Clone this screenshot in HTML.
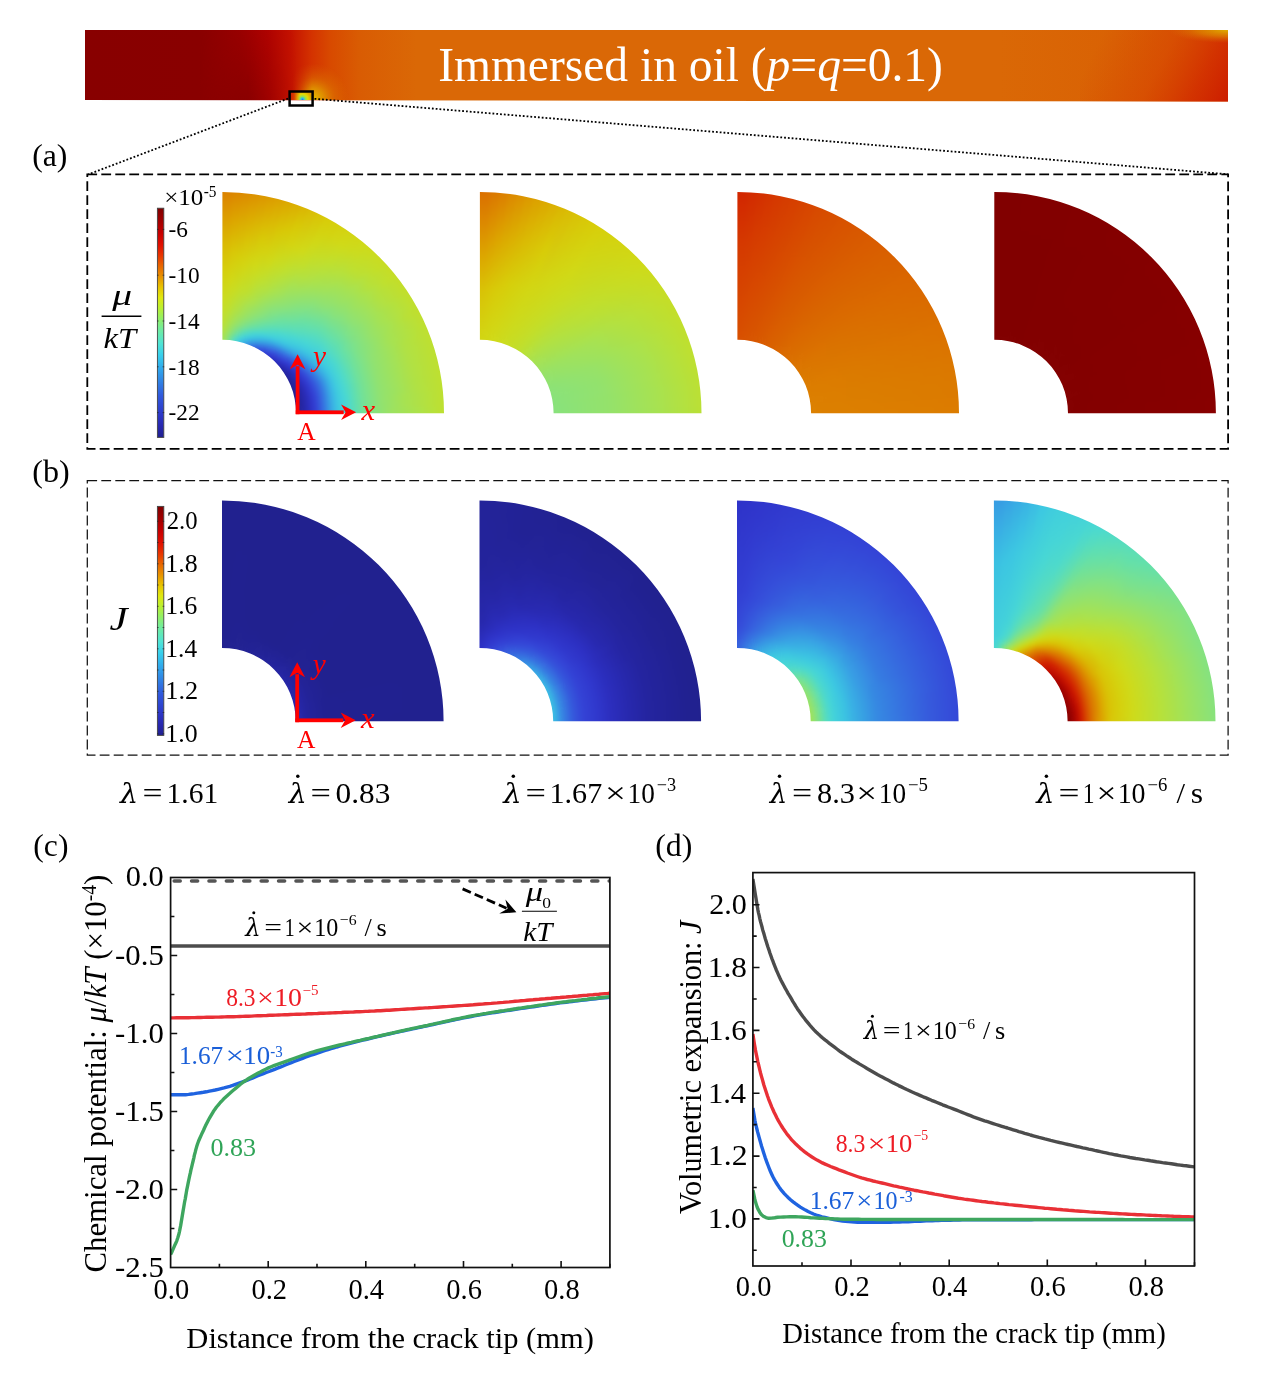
<!DOCTYPE html>
<html lang="en"><head><meta charset="utf-8"><title>Immersed in oil</title>
<style>
html,body{margin:0;padding:0;background:#fff;}
body{width:1269px;height:1381px;overflow:hidden;}
svg{display:block;}
text{font-family:"Liberation Serif","DejaVu Serif",serif;}
.it{font-style:italic;}
</style></head><body>
<svg width="1269" height="1381" viewBox="0 0 1269 1381">
<defs>
<linearGradient id="bg" x1="85" y1="0" x2="1228" y2="0" gradientUnits="userSpaceOnUse">
<stop offset="0" stop-color="#880000"/>
<stop offset="0.10" stop-color="#890000"/>
<stop offset="0.135" stop-color="#980000"/>
<stop offset="0.16" stop-color="#af0300"/>
<stop offset="0.18" stop-color="#c41200"/>
<stop offset="0.198" stop-color="#d43200"/>
<stop offset="0.215" stop-color="#d84a00"/>
<stop offset="0.24" stop-color="#d95c03"/>
<stop offset="0.29" stop-color="#da6806"/>
<stop offset="0.80" stop-color="#da6806"/>
<stop offset="0.90" stop-color="#d96204"/>
<stop offset="1" stop-color="#d85a02"/>
</linearGradient>
<radialGradient id="bglow" cx="313" cy="99" r="36" gradientUnits="userSpaceOnUse">
<stop offset="0" stop-color="#e6c000" stop-opacity="1"/>
<stop offset="0.3" stop-color="#e0a000" stop-opacity="0.8"/>
<stop offset="0.6" stop-color="#dd8400" stop-opacity="0.4"/>
<stop offset="1" stop-color="#dc7000" stop-opacity="0"/>
</radialGradient>
<linearGradient id="bglm" x1="292" y1="0" x2="312" y2="0" gradientUnits="userSpaceOnUse">
<stop offset="0" stop-color="#fff" stop-opacity="0"/><stop offset="1" stop-color="#fff" stop-opacity="1"/>
</linearGradient>
<mask id="bglmask"><rect x="260" y="50" width="110" height="55" fill="url(#bglm)"/></mask>
<radialGradient id="bcorner" cx="1228" cy="30" r="1" gradientUnits="userSpaceOnUse" gradientTransform="translate(1228 30) scale(60 13) translate(-1228 -30)">
<stop offset="0" stop-color="#dfae00" stop-opacity="1"/>
<stop offset="0.5" stop-color="#dd8800" stop-opacity="0.7"/>
<stop offset="1" stop-color="#da6806" stop-opacity="0"/>
</radialGradient>
<linearGradient id="bdark" x1="0" y1="30" x2="0" y2="100" gradientUnits="userSpaceOnUse">
<stop offset="0" stop-color="#7a0000" stop-opacity="0"/>
<stop offset="1" stop-color="#7a0000" stop-opacity="0.55"/>
</linearGradient>
<linearGradient id="bdarkx" x1="200" y1="0" x2="296" y2="0" gradientUnits="userSpaceOnUse">
<stop offset="0" stop-color="#fff" stop-opacity="0"/>
<stop offset="0.5" stop-color="#fff" stop-opacity="1"/>
<stop offset="1" stop-color="#fff" stop-opacity="0"/>
</linearGradient>
<mask id="bdm"><rect x="200" y="30" width="96" height="70" fill="url(#bdarkx)"/></mask>
<clipPath id="bclip"><path d="M85 30H1228V101.6L85 100Z"/></clipPath>
<linearGradient id="bred" x1="1105" y1="30" x2="1232" y2="96" gradientUnits="userSpaceOnUse">
<stop offset="0" stop-color="#d63c00" stop-opacity="0"/>
<stop offset="0.45" stop-color="#d63c00" stop-opacity="0.45"/>
<stop offset="0.75" stop-color="#d22c00" stop-opacity="0.85"/>
<stop offset="1" stop-color="#cc1c00" stop-opacity="1"/>
</linearGradient>
<radialGradient id="boxin" cx="302.5" cy="99.5" r="9" gradientUnits="userSpaceOnUse">
<stop offset="0" stop-color="#3a6cf0"/>
<stop offset="0.16" stop-color="#35c8d8"/>
<stop offset="0.35" stop-color="#9be04a"/>
<stop offset="0.6" stop-color="#e6d800"/>
<stop offset="1" stop-color="#e0a000"/>
</radialGradient>
<linearGradient id="boxl" x1="289" y1="0" x2="300" y2="0" gradientUnits="userSpaceOnUse">
<stop offset="0" stop-color="#cc1800"/><stop offset="0.45" stop-color="#d83c00"/><stop offset="1" stop-color="#e07800" stop-opacity="0"/>
</linearGradient>
</defs>
<g clip-path="url(#bclip)">
<rect x="85" y="30" width="1143" height="72" fill="url(#bg)"/>
<rect x="1080" y="30" width="148" height="72" fill="url(#bred)"/>
<rect x="200" y="30" width="96" height="70" fill="url(#bdark)" mask="url(#bdm)"/>
<rect x="260" y="55" width="100" height="45" fill="url(#bglow)" mask="url(#bglmask)"/>
<rect x="1160" y="30" width="68" height="20" fill="url(#bcorner)"/>
</g>
<rect x="289.5" y="91.5" width="23" height="8.5" fill="url(#boxin)"/>
<rect x="289.5" y="91.5" width="11" height="8.5" fill="url(#boxl)"/>
<rect x="289.6" y="91.5" width="23" height="14" fill="none" stroke="#000" stroke-width="2.5"/>
<line x1="288" y1="98.6" x2="88" y2="174.5" stroke="#000" stroke-width="1.8" stroke-dasharray="1.8 2.0"/>
<line x1="314.5" y1="98.8" x2="1228" y2="174.3" stroke="#000" stroke-width="1.8" stroke-dasharray="1.8 2.0"/>
<text x="690.5" y="81.2" font-size="47.5" fill="#fff" text-anchor="middle">Immersed in oil (<tspan class="it">p</tspan>=<tspan class="it">q</tspan>=0.1)</text>
<defs><filter id="fblur" x="-10%" y="-10%" width="120%" height="120%" color-interpolation-filters="sRGB"><feGaussianBlur stdDeviation="2.2"/></filter></defs>
<clipPath id="cpa1"><path d="M222.4 192.0 A221.6 221.2 0 0 1 444.0 413.2 L296.1 413.2 A73.7 73.4 0 0 0 222.4 339.8 Z"/></clipPath>
<defs><radialGradient id="ga1_0" cx="222.4" cy="413.2" r="236" gradientUnits="userSpaceOnUse"><stop offset="0.311" stop-color="#21218f"/><stop offset="0.337" stop-color="#2525a2"/><stop offset="0.362" stop-color="#2a2cb8"/><stop offset="0.379" stop-color="#2f35ca"/><stop offset="0.396" stop-color="#3340d4"/><stop offset="0.410" stop-color="#3553db"/><stop offset="0.424" stop-color="#3669df"/><stop offset="0.439" stop-color="#3682e2"/><stop offset="0.451" stop-color="#3797e3"/><stop offset="0.464" stop-color="#39ace4"/><stop offset="0.479" stop-color="#3bbde3"/><stop offset="0.494" stop-color="#3ecbdf"/><stop offset="0.525" stop-color="#47d7d5"/><stop offset="0.557" stop-color="#5bddb8"/><stop offset="0.591" stop-color="#6fe19c"/><stop offset="0.629" stop-color="#83e283"/><stop offset="0.714" stop-color="#9ce261"/><stop offset="0.826" stop-color="#ace24a"/><stop offset="0.939" stop-color="#bee030"/></radialGradient>
<radialGradient id="ga1_1" cx="222.4" cy="413.2" r="236" gradientUnits="userSpaceOnUse"><stop offset="0.311" stop-color="#21218f"/><stop offset="0.337" stop-color="#2525a2"/><stop offset="0.362" stop-color="#2a2cb8"/><stop offset="0.379" stop-color="#2f35ca"/><stop offset="0.396" stop-color="#3341d4"/><stop offset="0.410" stop-color="#3553db"/><stop offset="0.424" stop-color="#3669df"/><stop offset="0.439" stop-color="#3682e2"/><stop offset="0.451" stop-color="#3798e3"/><stop offset="0.464" stop-color="#39ace4"/><stop offset="0.479" stop-color="#3bbde3"/><stop offset="0.494" stop-color="#3ecbdf"/><stop offset="0.525" stop-color="#47d7d5"/><stop offset="0.557" stop-color="#5bddb8"/><stop offset="0.591" stop-color="#6fe19c"/><stop offset="0.631" stop-color="#81e285"/><stop offset="0.672" stop-color="#91e270"/><stop offset="0.769" stop-color="#a6e253"/><stop offset="0.939" stop-color="#bee030"/></radialGradient>
<radialGradient id="ga1_2" cx="222.4" cy="413.2" r="236" gradientUnits="userSpaceOnUse"><stop offset="0.311" stop-color="#21218f"/><stop offset="0.337" stop-color="#2525a2"/><stop offset="0.362" stop-color="#2a2cb8"/><stop offset="0.379" stop-color="#2f35cb"/><stop offset="0.396" stop-color="#3341d4"/><stop offset="0.410" stop-color="#3554db"/><stop offset="0.424" stop-color="#3669df"/><stop offset="0.439" stop-color="#3682e2"/><stop offset="0.451" stop-color="#3798e3"/><stop offset="0.464" stop-color="#39ace4"/><stop offset="0.479" stop-color="#3bbee3"/><stop offset="0.494" stop-color="#3fcbdf"/><stop offset="0.525" stop-color="#47d7d5"/><stop offset="0.557" stop-color="#5bddb7"/><stop offset="0.591" stop-color="#70e19b"/><stop offset="0.631" stop-color="#81e285"/><stop offset="0.672" stop-color="#91e270"/><stop offset="0.769" stop-color="#a6e252"/><stop offset="0.939" stop-color="#bee030"/></radialGradient>
<radialGradient id="ga1_3" cx="222.4" cy="413.2" r="236" gradientUnits="userSpaceOnUse"><stop offset="0.311" stop-color="#21218f"/><stop offset="0.337" stop-color="#2525a2"/><stop offset="0.362" stop-color="#2a2cb9"/><stop offset="0.379" stop-color="#2f35cb"/><stop offset="0.396" stop-color="#3342d5"/><stop offset="0.410" stop-color="#3554db"/><stop offset="0.424" stop-color="#366adf"/><stop offset="0.439" stop-color="#3682e2"/><stop offset="0.451" stop-color="#3798e3"/><stop offset="0.464" stop-color="#39ade4"/><stop offset="0.479" stop-color="#3bbee3"/><stop offset="0.494" stop-color="#3fccdf"/><stop offset="0.525" stop-color="#48d7d5"/><stop offset="0.557" stop-color="#5bdeb7"/><stop offset="0.591" stop-color="#70e19b"/><stop offset="0.631" stop-color="#81e285"/><stop offset="0.672" stop-color="#91e270"/><stop offset="0.746" stop-color="#9fe25c"/><stop offset="0.820" stop-color="#afe146"/><stop offset="0.939" stop-color="#bee030"/></radialGradient>
<radialGradient id="ga1_4" cx="222.4" cy="413.2" r="236" gradientUnits="userSpaceOnUse"><stop offset="0.311" stop-color="#21218f"/><stop offset="0.337" stop-color="#2525a2"/><stop offset="0.362" stop-color="#2a2db9"/><stop offset="0.379" stop-color="#2f36cb"/><stop offset="0.396" stop-color="#3342d5"/><stop offset="0.410" stop-color="#3553db"/><stop offset="0.423" stop-color="#3667df"/><stop offset="0.437" stop-color="#367de1"/><stop offset="0.450" stop-color="#3795e3"/><stop offset="0.464" stop-color="#39ade4"/><stop offset="0.479" stop-color="#3bbee3"/><stop offset="0.494" stop-color="#3fccde"/><stop offset="0.523" stop-color="#48d8d3"/><stop offset="0.557" stop-color="#5bddb8"/><stop offset="0.591" stop-color="#70e19b"/><stop offset="0.631" stop-color="#81e285"/><stop offset="0.672" stop-color="#91e270"/><stop offset="0.746" stop-color="#a0e25c"/><stop offset="0.820" stop-color="#afe145"/><stop offset="0.939" stop-color="#bee030"/></radialGradient>
<radialGradient id="ga1_5" cx="222.4" cy="413.2" r="236" gradientUnits="userSpaceOnUse"><stop offset="0.311" stop-color="#21218f"/><stop offset="0.337" stop-color="#2525a3"/><stop offset="0.362" stop-color="#2b2dba"/><stop offset="0.379" stop-color="#3037cc"/><stop offset="0.396" stop-color="#3443d6"/><stop offset="0.410" stop-color="#3554db"/><stop offset="0.423" stop-color="#3668df"/><stop offset="0.437" stop-color="#367de1"/><stop offset="0.450" stop-color="#3795e3"/><stop offset="0.464" stop-color="#39ade4"/><stop offset="0.479" stop-color="#3bbfe3"/><stop offset="0.494" stop-color="#3fccde"/><stop offset="0.523" stop-color="#49d8d3"/><stop offset="0.557" stop-color="#5bddb7"/><stop offset="0.591" stop-color="#70e19b"/><stop offset="0.631" stop-color="#81e285"/><stop offset="0.672" stop-color="#91e270"/><stop offset="0.746" stop-color="#a0e25b"/><stop offset="0.820" stop-color="#b0e145"/><stop offset="0.939" stop-color="#bee030"/></radialGradient>
<radialGradient id="ga1_6" cx="222.4" cy="413.2" r="236" gradientUnits="userSpaceOnUse"><stop offset="0.311" stop-color="#21218f"/><stop offset="0.328" stop-color="#24249c"/><stop offset="0.345" stop-color="#2727aa"/><stop offset="0.362" stop-color="#2b2dbb"/><stop offset="0.381" stop-color="#3039ce"/><stop offset="0.399" stop-color="#3449d8"/><stop offset="0.417" stop-color="#365fde"/><stop offset="0.433" stop-color="#3678e1"/><stop offset="0.448" stop-color="#3792e3"/><stop offset="0.464" stop-color="#39ade4"/><stop offset="0.479" stop-color="#3bbfe3"/><stop offset="0.494" stop-color="#40cdde"/><stop offset="0.523" stop-color="#4ad8d2"/><stop offset="0.557" stop-color="#5cdeb7"/><stop offset="0.591" stop-color="#70e19b"/><stop offset="0.631" stop-color="#81e285"/><stop offset="0.672" stop-color="#91e270"/><stop offset="0.746" stop-color="#a0e25b"/><stop offset="0.820" stop-color="#b0e145"/><stop offset="0.939" stop-color="#bee030"/></radialGradient>
<radialGradient id="ga1_7" cx="222.4" cy="413.2" r="236" gradientUnits="userSpaceOnUse"><stop offset="0.311" stop-color="#21218f"/><stop offset="0.328" stop-color="#24249d"/><stop offset="0.345" stop-color="#2727ab"/><stop offset="0.362" stop-color="#2b2ebd"/><stop offset="0.376" stop-color="#2f36cc"/><stop offset="0.390" stop-color="#3341d5"/><stop offset="0.404" stop-color="#3551da"/><stop offset="0.417" stop-color="#3662de"/><stop offset="0.433" stop-color="#367ae1"/><stop offset="0.448" stop-color="#3794e3"/><stop offset="0.464" stop-color="#39aee4"/><stop offset="0.479" stop-color="#3bc0e2"/><stop offset="0.494" stop-color="#40cddd"/><stop offset="0.523" stop-color="#4ad9d0"/><stop offset="0.557" stop-color="#5cdeb6"/><stop offset="0.591" stop-color="#70e19b"/><stop offset="0.631" stop-color="#81e285"/><stop offset="0.672" stop-color="#90e271"/><stop offset="0.746" stop-color="#a0e25c"/><stop offset="0.820" stop-color="#b0e145"/><stop offset="0.939" stop-color="#bee030"/></radialGradient>
<radialGradient id="ga1_8" cx="222.4" cy="413.2" r="236" gradientUnits="userSpaceOnUse"><stop offset="0.311" stop-color="#212190"/><stop offset="0.328" stop-color="#24249e"/><stop offset="0.345" stop-color="#2728ad"/><stop offset="0.362" stop-color="#2c2fbf"/><stop offset="0.379" stop-color="#313bcf"/><stop offset="0.396" stop-color="#344bd9"/><stop offset="0.413" stop-color="#3660de"/><stop offset="0.430" stop-color="#367ae1"/><stop offset="0.447" stop-color="#3796e3"/><stop offset="0.464" stop-color="#39b1e3"/><stop offset="0.479" stop-color="#3bc3e2"/><stop offset="0.494" stop-color="#41cedd"/><stop offset="0.523" stop-color="#4bd9cf"/><stop offset="0.557" stop-color="#5cdeb6"/><stop offset="0.591" stop-color="#70e19b"/><stop offset="0.631" stop-color="#80e286"/><stop offset="0.672" stop-color="#90e272"/><stop offset="0.746" stop-color="#9fe25c"/><stop offset="0.820" stop-color="#b0e145"/><stop offset="0.939" stop-color="#bee030"/></radialGradient>
<radialGradient id="ga1_9" cx="222.4" cy="413.2" r="236" gradientUnits="userSpaceOnUse"><stop offset="0.311" stop-color="#212191"/><stop offset="0.328" stop-color="#2424a0"/><stop offset="0.345" stop-color="#2829b0"/><stop offset="0.362" stop-color="#2d30c3"/><stop offset="0.378" stop-color="#313cd0"/><stop offset="0.393" stop-color="#354bd9"/><stop offset="0.408" stop-color="#365fde"/><stop offset="0.423" stop-color="#3677e1"/><stop offset="0.439" stop-color="#3791e3"/><stop offset="0.451" stop-color="#38a5e4"/><stop offset="0.464" stop-color="#3ab6e3"/><stop offset="0.479" stop-color="#3cc6e2"/><stop offset="0.494" stop-color="#41cfdc"/><stop offset="0.523" stop-color="#4cd9cd"/><stop offset="0.557" stop-color="#5ddeb5"/><stop offset="0.591" stop-color="#70e19b"/><stop offset="0.631" stop-color="#80e287"/><stop offset="0.672" stop-color="#8fe273"/><stop offset="0.746" stop-color="#9fe25d"/><stop offset="0.820" stop-color="#afe145"/><stop offset="0.939" stop-color="#bfe02f"/></radialGradient>
<radialGradient id="ga1_10" cx="222.4" cy="413.2" r="236" gradientUnits="userSpaceOnUse"><stop offset="0.311" stop-color="#222293"/><stop offset="0.328" stop-color="#2525a1"/><stop offset="0.345" stop-color="#2829b1"/><stop offset="0.362" stop-color="#2e33c9"/><stop offset="0.379" stop-color="#3340d4"/><stop offset="0.394" stop-color="#3552db"/><stop offset="0.409" stop-color="#3668df"/><stop offset="0.424" stop-color="#3680e2"/><stop offset="0.439" stop-color="#379be3"/><stop offset="0.451" stop-color="#39ace4"/><stop offset="0.464" stop-color="#3abce3"/><stop offset="0.479" stop-color="#3dc9e1"/><stop offset="0.494" stop-color="#42d1db"/><stop offset="0.525" stop-color="#4dd9cd"/><stop offset="0.557" stop-color="#5fdeb2"/><stop offset="0.593" stop-color="#6fe19c"/><stop offset="0.629" stop-color="#80e286"/><stop offset="0.699" stop-color="#93e26d"/><stop offset="0.769" stop-color="#a5e254"/><stop offset="0.939" stop-color="#bfe02e"/></radialGradient>
<radialGradient id="ga1_11" cx="222.4" cy="413.2" r="236" gradientUnits="userSpaceOnUse"><stop offset="0.311" stop-color="#222295"/><stop offset="0.328" stop-color="#2525a3"/><stop offset="0.345" stop-color="#292bb4"/><stop offset="0.362" stop-color="#2f34ca"/><stop offset="0.376" stop-color="#3341d4"/><stop offset="0.390" stop-color="#3553db"/><stop offset="0.404" stop-color="#3668df"/><stop offset="0.417" stop-color="#3680e2"/><stop offset="0.428" stop-color="#3792e3"/><stop offset="0.439" stop-color="#38a5e4"/><stop offset="0.451" stop-color="#39b4e3"/><stop offset="0.464" stop-color="#3bc2e2"/><stop offset="0.479" stop-color="#3fcbdf"/><stop offset="0.494" stop-color="#43d2d9"/><stop offset="0.525" stop-color="#4edaca"/><stop offset="0.557" stop-color="#5fdfb1"/><stop offset="0.593" stop-color="#6fe19c"/><stop offset="0.629" stop-color="#7fe287"/><stop offset="0.699" stop-color="#92e26e"/><stop offset="0.769" stop-color="#a4e255"/><stop offset="0.939" stop-color="#c0df2e"/></radialGradient>
<radialGradient id="ga1_12" cx="222.4" cy="413.2" r="236" gradientUnits="userSpaceOnUse"><stop offset="0.311" stop-color="#232397"/><stop offset="0.328" stop-color="#2626a6"/><stop offset="0.345" stop-color="#2a2cb8"/><stop offset="0.362" stop-color="#3037cc"/><stop offset="0.374" stop-color="#3342d6"/><stop offset="0.385" stop-color="#3553db"/><stop offset="0.396" stop-color="#3666df"/><stop offset="0.410" stop-color="#367de1"/><stop offset="0.424" stop-color="#3795e3"/><stop offset="0.439" stop-color="#39ade4"/><stop offset="0.451" stop-color="#3abbe3"/><stop offset="0.464" stop-color="#3cc8e2"/><stop offset="0.494" stop-color="#44d3d9"/><stop offset="0.523" stop-color="#51dac7"/><stop offset="0.557" stop-color="#5fdfb2"/><stop offset="0.591" stop-color="#70e19b"/><stop offset="0.653" stop-color="#85e280"/><stop offset="0.714" stop-color="#98e267"/><stop offset="0.797" stop-color="#a7e251"/><stop offset="0.879" stop-color="#b9e037"/><stop offset="0.939" stop-color="#c0df2d"/></radialGradient>
<radialGradient id="ga1_13" cx="222.4" cy="413.2" r="236" gradientUnits="userSpaceOnUse"><stop offset="0.311" stop-color="#232399"/><stop offset="0.328" stop-color="#2626a9"/><stop offset="0.345" stop-color="#2b2ebd"/><stop offset="0.354" stop-color="#2e33c9"/><stop offset="0.362" stop-color="#313acf"/><stop offset="0.374" stop-color="#3447d8"/><stop offset="0.385" stop-color="#365adc"/><stop offset="0.396" stop-color="#366fe0"/><stop offset="0.410" stop-color="#3686e2"/><stop offset="0.424" stop-color="#379ee3"/><stop offset="0.439" stop-color="#3ab5e3"/><stop offset="0.464" stop-color="#3ecbe0"/><stop offset="0.494" stop-color="#45d4d7"/><stop offset="0.523" stop-color="#52dbc4"/><stop offset="0.576" stop-color="#66e0a7"/><stop offset="0.629" stop-color="#7fe188"/><stop offset="0.699" stop-color="#92e26e"/><stop offset="0.769" stop-color="#a4e255"/><stop offset="0.854" stop-color="#b3e141"/><stop offset="0.939" stop-color="#c1df2c"/></radialGradient>
<radialGradient id="ga1_14" cx="222.4" cy="413.2" r="236" gradientUnits="userSpaceOnUse"><stop offset="0.311" stop-color="#24249c"/><stop offset="0.328" stop-color="#2728ae"/><stop offset="0.345" stop-color="#2d30c3"/><stop offset="0.354" stop-color="#3037cc"/><stop offset="0.362" stop-color="#323ed2"/><stop offset="0.374" stop-color="#354eda"/><stop offset="0.385" stop-color="#3662de"/><stop offset="0.396" stop-color="#3679e1"/><stop offset="0.410" stop-color="#3790e3"/><stop offset="0.424" stop-color="#38a8e4"/><stop offset="0.439" stop-color="#3abce3"/><stop offset="0.464" stop-color="#40cddd"/><stop offset="0.494" stop-color="#47d6d6"/><stop offset="0.523" stop-color="#54dcc2"/><stop offset="0.576" stop-color="#68e0a5"/><stop offset="0.629" stop-color="#7fe287"/><stop offset="0.699" stop-color="#92e26e"/><stop offset="0.769" stop-color="#a4e255"/><stop offset="0.854" stop-color="#b3e13f"/><stop offset="0.939" stop-color="#c2df2b"/></radialGradient>
<radialGradient id="ga1_15" cx="222.4" cy="413.2" r="236" gradientUnits="userSpaceOnUse"><stop offset="0.311" stop-color="#24249f"/><stop offset="0.328" stop-color="#292ab4"/><stop offset="0.345" stop-color="#2e33c9"/><stop offset="0.354" stop-color="#313cd0"/><stop offset="0.362" stop-color="#3444d7"/><stop offset="0.374" stop-color="#3557dc"/><stop offset="0.385" stop-color="#366ddf"/><stop offset="0.396" stop-color="#3685e2"/><stop offset="0.410" stop-color="#379be3"/><stop offset="0.424" stop-color="#39b0e4"/><stop offset="0.439" stop-color="#3bc3e2"/><stop offset="0.464" stop-color="#42d0db"/><stop offset="0.511" stop-color="#4fdaca"/><stop offset="0.557" stop-color="#64e0ab"/><stop offset="0.614" stop-color="#79e18f"/><stop offset="0.672" stop-color="#8ee274"/><stop offset="0.746" stop-color="#9fe25d"/><stop offset="0.820" stop-color="#b1e144"/><stop offset="0.939" stop-color="#c3de29"/></radialGradient>
<radialGradient id="ga1_16" cx="222.4" cy="413.2" r="236" gradientUnits="userSpaceOnUse"><stop offset="0.311" stop-color="#2525a3"/><stop offset="0.328" stop-color="#2b2dba"/><stop offset="0.345" stop-color="#3039cd"/><stop offset="0.354" stop-color="#3341d5"/><stop offset="0.362" stop-color="#354dd9"/><stop offset="0.374" stop-color="#3661de"/><stop offset="0.385" stop-color="#3678e1"/><stop offset="0.396" stop-color="#3792e3"/><stop offset="0.407" stop-color="#38a3e4"/><stop offset="0.417" stop-color="#39b2e3"/><stop offset="0.439" stop-color="#3dc9e1"/><stop offset="0.464" stop-color="#44d3d8"/><stop offset="0.511" stop-color="#52dbc5"/><stop offset="0.557" stop-color="#66e0a8"/><stop offset="0.614" stop-color="#7be18c"/><stop offset="0.672" stop-color="#90e271"/><stop offset="0.746" stop-color="#a0e25b"/><stop offset="0.820" stop-color="#b2e141"/><stop offset="0.939" stop-color="#c4de28"/></radialGradient>
<radialGradient id="ga1_17" cx="222.4" cy="413.2" r="236" gradientUnits="userSpaceOnUse"><stop offset="0.311" stop-color="#2626a7"/><stop offset="0.323" stop-color="#2a2cb9"/><stop offset="0.334" stop-color="#2f34ca"/><stop offset="0.345" stop-color="#323ed2"/><stop offset="0.358" stop-color="#3551da"/><stop offset="0.371" stop-color="#3668df"/><stop offset="0.383" stop-color="#3682e2"/><stop offset="0.396" stop-color="#38a0e4"/><stop offset="0.407" stop-color="#39afe4"/><stop offset="0.417" stop-color="#3bbce3"/><stop offset="0.439" stop-color="#40cdde"/><stop offset="0.464" stop-color="#46d6d6"/><stop offset="0.506" stop-color="#54dbc2"/><stop offset="0.549" stop-color="#63e0ab"/><stop offset="0.591" stop-color="#77e192"/><stop offset="0.653" stop-color="#8ae279"/><stop offset="0.714" stop-color="#9ce260"/><stop offset="0.797" stop-color="#ade249"/><stop offset="0.879" stop-color="#bfe02f"/><stop offset="0.939" stop-color="#c6dd26"/></radialGradient>
<radialGradient id="ga1_18" cx="222.4" cy="413.2" r="236" gradientUnits="userSpaceOnUse"><stop offset="0.311" stop-color="#2727ac"/><stop offset="0.324" stop-color="#2d30c3"/><stop offset="0.337" stop-color="#313cd1"/><stop offset="0.350" stop-color="#354dd9"/><stop offset="0.362" stop-color="#3661de"/><stop offset="0.371" stop-color="#3675e0"/><stop offset="0.379" stop-color="#3689e2"/><stop offset="0.388" stop-color="#379be3"/><stop offset="0.396" stop-color="#39ace4"/><stop offset="0.417" stop-color="#3cc5e2"/><stop offset="0.439" stop-color="#42d0db"/><stop offset="0.464" stop-color="#49d8d2"/><stop offset="0.519" stop-color="#5cdeb6"/><stop offset="0.574" stop-color="#71e19a"/><stop offset="0.629" stop-color="#88e27b"/><stop offset="0.725" stop-color="#9ee25d"/><stop offset="0.820" stop-color="#b6e13b"/><stop offset="0.939" stop-color="#c7dd24"/></radialGradient>
<radialGradient id="ga1_19" cx="222.4" cy="413.2" r="236" gradientUnits="userSpaceOnUse"><stop offset="0.311" stop-color="#282ab2"/><stop offset="0.324" stop-color="#2e33c9"/><stop offset="0.337" stop-color="#3341d5"/><stop offset="0.350" stop-color="#3555db"/><stop offset="0.362" stop-color="#366de0"/><stop offset="0.371" stop-color="#3681e2"/><stop offset="0.379" stop-color="#3797e3"/><stop offset="0.388" stop-color="#38a8e4"/><stop offset="0.396" stop-color="#3ab7e3"/><stop offset="0.417" stop-color="#3ecbdf"/><stop offset="0.439" stop-color="#45d4d8"/><stop offset="0.466" stop-color="#4dd9cc"/><stop offset="0.494" stop-color="#5addba"/><stop offset="0.553" stop-color="#6ce09f"/><stop offset="0.612" stop-color="#82e283"/><stop offset="0.672" stop-color="#96e268"/><stop offset="0.775" stop-color="#ace24b"/><stop offset="0.879" stop-color="#c2df2a"/><stop offset="0.939" stop-color="#c9dc21"/></radialGradient>
<radialGradient id="ga1_20" cx="222.4" cy="413.2" r="236" gradientUnits="userSpaceOnUse"><stop offset="0.311" stop-color="#2a2cb8"/><stop offset="0.323" stop-color="#2f36cb"/><stop offset="0.334" stop-color="#3443d6"/><stop offset="0.345" stop-color="#3557dc"/><stop offset="0.357" stop-color="#366ee0"/><stop offset="0.368" stop-color="#3687e2"/><stop offset="0.379" stop-color="#38a2e4"/><stop offset="0.388" stop-color="#39b1e3"/><stop offset="0.396" stop-color="#3bc0e3"/><stop offset="0.417" stop-color="#41cfdc"/><stop offset="0.441" stop-color="#47d7d5"/><stop offset="0.464" stop-color="#53dbc3"/><stop offset="0.519" stop-color="#64e0aa"/><stop offset="0.574" stop-color="#79e18f"/><stop offset="0.629" stop-color="#8ee274"/><stop offset="0.725" stop-color="#a3e256"/><stop offset="0.820" stop-color="#bbe034"/><stop offset="0.939" stop-color="#cbdc1f"/></radialGradient>
<radialGradient id="ga1_21" cx="222.4" cy="413.2" r="236" gradientUnits="userSpaceOnUse"><stop offset="0.311" stop-color="#2c2fbf"/><stop offset="0.323" stop-color="#313acf"/><stop offset="0.334" stop-color="#3449d8"/><stop offset="0.345" stop-color="#365edd"/><stop offset="0.357" stop-color="#3677e1"/><stop offset="0.368" stop-color="#3791e3"/><stop offset="0.379" stop-color="#39ace4"/><stop offset="0.388" stop-color="#3abae3"/><stop offset="0.396" stop-color="#3cc8e2"/><stop offset="0.417" stop-color="#44d2d9"/><stop offset="0.441" stop-color="#4bd9cf"/><stop offset="0.464" stop-color="#58ddbc"/><stop offset="0.519" stop-color="#69e0a3"/><stop offset="0.574" stop-color="#7ee189"/><stop offset="0.629" stop-color="#91e26f"/><stop offset="0.725" stop-color="#a6e252"/><stop offset="0.820" stop-color="#bee030"/><stop offset="0.939" stop-color="#cddb1b"/></radialGradient>
<radialGradient id="ga1_22" cx="222.4" cy="413.2" r="236" gradientUnits="userSpaceOnUse"><stop offset="0.311" stop-color="#2e31c7"/><stop offset="0.322" stop-color="#323dd1"/><stop offset="0.332" stop-color="#354dd9"/><stop offset="0.342" stop-color="#3660de"/><stop offset="0.352" stop-color="#3677e1"/><stop offset="0.362" stop-color="#378fe3"/><stop offset="0.371" stop-color="#38a3e4"/><stop offset="0.379" stop-color="#3ab5e3"/><stop offset="0.388" stop-color="#3bc2e2"/><stop offset="0.396" stop-color="#3fccdf"/><stop offset="0.417" stop-color="#46d6d6"/><stop offset="0.441" stop-color="#50dac7"/><stop offset="0.464" stop-color="#5ddeb5"/><stop offset="0.533" stop-color="#73e197"/><stop offset="0.602" stop-color="#8be278"/><stop offset="0.672" stop-color="#a0e25b"/><stop offset="0.775" stop-color="#b6e13c"/><stop offset="0.879" stop-color="#cadc20"/><stop offset="0.939" stop-color="#d0da18"/></radialGradient>
<radialGradient id="ga1_23" cx="222.4" cy="413.2" r="236" gradientUnits="userSpaceOnUse"><stop offset="0.311" stop-color="#2f36cb"/><stop offset="0.323" stop-color="#3444d7"/><stop offset="0.334" stop-color="#365bdd"/><stop offset="0.345" stop-color="#3674e0"/><stop offset="0.357" stop-color="#378de3"/><stop offset="0.368" stop-color="#38a8e4"/><stop offset="0.379" stop-color="#3bbee3"/><stop offset="0.396" stop-color="#42cfdc"/><stop offset="0.417" stop-color="#48d8d4"/><stop offset="0.439" stop-color="#56dcbf"/><stop offset="0.494" stop-color="#6de19e"/><stop offset="0.553" stop-color="#81e285"/><stop offset="0.612" stop-color="#93e26d"/><stop offset="0.672" stop-color="#a4e255"/><stop offset="0.775" stop-color="#bae036"/><stop offset="0.879" stop-color="#cddb1c"/><stop offset="0.939" stop-color="#d2d715"/></radialGradient>
<radialGradient id="ga1_24" cx="222.4" cy="413.2" r="236" gradientUnits="userSpaceOnUse"><stop offset="0.311" stop-color="#313bd0"/><stop offset="0.320" stop-color="#3447d8"/><stop offset="0.328" stop-color="#3558dc"/><stop offset="0.337" stop-color="#366bdf"/><stop offset="0.345" stop-color="#3680e2"/><stop offset="0.357" stop-color="#3799e3"/><stop offset="0.368" stop-color="#39b1e3"/><stop offset="0.379" stop-color="#3cc7e2"/><stop offset="0.396" stop-color="#44d3d8"/><stop offset="0.417" stop-color="#4ddacc"/><stop offset="0.439" stop-color="#5bdeb7"/><stop offset="0.494" stop-color="#73e197"/><stop offset="0.553" stop-color="#86e27e"/><stop offset="0.612" stop-color="#98e266"/><stop offset="0.672" stop-color="#a9e24e"/><stop offset="0.775" stop-color="#bfe02f"/><stop offset="0.879" stop-color="#d0da18"/><stop offset="0.939" stop-color="#d3d512"/></radialGradient>
<radialGradient id="ga1_25" cx="222.4" cy="413.2" r="236" gradientUnits="userSpaceOnUse"><stop offset="0.311" stop-color="#3341d4"/><stop offset="0.320" stop-color="#3550da"/><stop offset="0.328" stop-color="#3662de"/><stop offset="0.337" stop-color="#3677e1"/><stop offset="0.345" stop-color="#378de3"/><stop offset="0.357" stop-color="#38a5e4"/><stop offset="0.368" stop-color="#3abbe3"/><stop offset="0.379" stop-color="#3fccdf"/><stop offset="0.396" stop-color="#47d7d5"/><stop offset="0.417" stop-color="#53dbc3"/><stop offset="0.439" stop-color="#61dfaf"/><stop offset="0.481" stop-color="#72e198"/><stop offset="0.523" stop-color="#84e281"/><stop offset="0.597" stop-color="#99e264"/><stop offset="0.672" stop-color="#afe147"/><stop offset="0.775" stop-color="#c3de2a"/><stop offset="0.879" stop-color="#d2d715"/><stop offset="0.939" stop-color="#d5d20f"/></radialGradient>
<radialGradient id="ga1_26" cx="222.4" cy="413.2" r="236" gradientUnits="userSpaceOnUse"><stop offset="0.311" stop-color="#3448d8"/><stop offset="0.320" stop-color="#365bdd"/><stop offset="0.328" stop-color="#3670e0"/><stop offset="0.337" stop-color="#3684e2"/><stop offset="0.345" stop-color="#379ae3"/><stop offset="0.357" stop-color="#39b0e3"/><stop offset="0.368" stop-color="#3cc4e2"/><stop offset="0.379" stop-color="#42d0db"/><stop offset="0.396" stop-color="#4cd9cd"/><stop offset="0.417" stop-color="#59ddba"/><stop offset="0.439" stop-color="#67e0a7"/><stop offset="0.481" stop-color="#79e190"/><stop offset="0.523" stop-color="#8ae279"/><stop offset="0.597" stop-color="#9ee25d"/><stop offset="0.672" stop-color="#b4e13f"/><stop offset="0.775" stop-color="#c6dd25"/><stop offset="0.879" stop-color="#d3d411"/><stop offset="0.939" stop-color="#d6cf0b"/></radialGradient>
<radialGradient id="ga1_27" cx="222.4" cy="413.2" r="236" gradientUnits="userSpaceOnUse"><stop offset="0.311" stop-color="#3552db"/><stop offset="0.320" stop-color="#3666df"/><stop offset="0.328" stop-color="#367de1"/><stop offset="0.337" stop-color="#3792e3"/><stop offset="0.345" stop-color="#38a8e4"/><stop offset="0.357" stop-color="#3abbe3"/><stop offset="0.368" stop-color="#3ecbdf"/><stop offset="0.379" stop-color="#45d5d7"/><stop offset="0.396" stop-color="#53dbc3"/><stop offset="0.417" stop-color="#60dfb1"/><stop offset="0.439" stop-color="#6ee19d"/><stop offset="0.481" stop-color="#80e287"/><stop offset="0.523" stop-color="#90e271"/><stop offset="0.619" stop-color="#a8e250"/><stop offset="0.714" stop-color="#c2df2b"/><stop offset="0.826" stop-color="#d1d816"/><stop offset="0.939" stop-color="#d8cc08"/></radialGradient>
<radialGradient id="ga1_28" cx="222.4" cy="413.2" r="236" gradientUnits="userSpaceOnUse"><stop offset="0.311" stop-color="#365edd"/><stop offset="0.320" stop-color="#3673e0"/><stop offset="0.328" stop-color="#368be2"/><stop offset="0.337" stop-color="#38a0e4"/><stop offset="0.345" stop-color="#39b3e3"/><stop offset="0.357" stop-color="#3cc6e2"/><stop offset="0.368" stop-color="#42d0db"/><stop offset="0.379" stop-color="#4ad9d1"/><stop offset="0.396" stop-color="#5addb8"/><stop offset="0.417" stop-color="#67e0a7"/><stop offset="0.439" stop-color="#76e193"/><stop offset="0.498" stop-color="#8ce277"/><stop offset="0.557" stop-color="#a0e25b"/><stop offset="0.663" stop-color="#b9e037"/><stop offset="0.769" stop-color="#d0da19"/><stop offset="0.939" stop-color="#d9c506"/></radialGradient>
<radialGradient id="ga1_29" cx="222.4" cy="413.2" r="236" gradientUnits="userSpaceOnUse"><stop offset="0.311" stop-color="#366cdf"/><stop offset="0.320" stop-color="#3682e2"/><stop offset="0.328" stop-color="#379ae3"/><stop offset="0.337" stop-color="#39aee4"/><stop offset="0.345" stop-color="#3bbfe3"/><stop offset="0.357" stop-color="#3fccde"/><stop offset="0.368" stop-color="#46d5d7"/><stop offset="0.379" stop-color="#52dbc5"/><stop offset="0.396" stop-color="#61dfae"/><stop offset="0.417" stop-color="#6fe19c"/><stop offset="0.439" stop-color="#7ee189"/><stop offset="0.498" stop-color="#92e26e"/><stop offset="0.557" stop-color="#a6e253"/><stop offset="0.663" stop-color="#bfe02f"/><stop offset="0.769" stop-color="#d2d715"/><stop offset="0.939" stop-color="#dabe05"/></radialGradient>
<radialGradient id="ga1_30" cx="222.4" cy="413.2" r="236" gradientUnits="userSpaceOnUse"><stop offset="0.311" stop-color="#367de1"/><stop offset="0.320" stop-color="#3794e3"/><stop offset="0.328" stop-color="#38aae4"/><stop offset="0.337" stop-color="#3abbe3"/><stop offset="0.345" stop-color="#3dcae1"/><stop offset="0.362" stop-color="#46d6d6"/><stop offset="0.379" stop-color="#5addb9"/><stop offset="0.396" stop-color="#6ae0a2"/><stop offset="0.439" stop-color="#86e27f"/><stop offset="0.498" stop-color="#99e265"/><stop offset="0.557" stop-color="#ace24a"/><stop offset="0.663" stop-color="#c4de28"/><stop offset="0.769" stop-color="#d4d411"/><stop offset="0.854" stop-color="#d8c907"/><stop offset="0.939" stop-color="#dab603"/></radialGradient>
<radialGradient id="ga1_31" cx="222.4" cy="413.2" r="236" gradientUnits="userSpaceOnUse"><stop offset="0.311" stop-color="#3790e3"/><stop offset="0.320" stop-color="#38a6e4"/><stop offset="0.328" stop-color="#3ab9e3"/><stop offset="0.337" stop-color="#3cc8e2"/><stop offset="0.345" stop-color="#42d0db"/><stop offset="0.362" stop-color="#4edacb"/><stop offset="0.379" stop-color="#62dfad"/><stop offset="0.396" stop-color="#73e197"/><stop offset="0.439" stop-color="#8de275"/><stop offset="0.498" stop-color="#9fe25c"/><stop offset="0.557" stop-color="#b3e140"/><stop offset="0.689" stop-color="#ccdb1d"/><stop offset="0.820" stop-color="#d8c907"/><stop offset="0.939" stop-color="#dbaf02"/></radialGradient>
<radialGradient id="ga1_32" cx="222.4" cy="413.2" r="236" gradientUnits="userSpaceOnUse"><stop offset="0.311" stop-color="#38a5e4"/><stop offset="0.323" stop-color="#3abbe3"/><stop offset="0.334" stop-color="#3fccdf"/><stop offset="0.345" stop-color="#47d6d5"/><stop offset="0.362" stop-color="#58dcbc"/><stop offset="0.379" stop-color="#6ce0a0"/><stop offset="0.398" stop-color="#7be18c"/><stop offset="0.417" stop-color="#8ae279"/><stop offset="0.456" stop-color="#98e265"/><stop offset="0.494" stop-color="#a6e252"/><stop offset="0.583" stop-color="#bde032"/><stop offset="0.672" stop-color="#cfda19"/><stop offset="0.805" stop-color="#d8c807"/><stop offset="0.939" stop-color="#dca800"/></radialGradient>
<radialGradient id="ga1_33" cx="222.4" cy="413.2" r="236" gradientUnits="userSpaceOnUse"><stop offset="0.311" stop-color="#3ab8e3"/><stop offset="0.323" stop-color="#3dcae1"/><stop offset="0.334" stop-color="#45d3d8"/><stop offset="0.345" stop-color="#51dbc7"/><stop offset="0.362" stop-color="#62dfad"/><stop offset="0.379" stop-color="#77e192"/><stop offset="0.417" stop-color="#92e26f"/><stop offset="0.456" stop-color="#9fe25c"/><stop offset="0.494" stop-color="#ade249"/><stop offset="0.604" stop-color="#c5de26"/><stop offset="0.714" stop-color="#d5d20f"/><stop offset="0.826" stop-color="#dabd05"/><stop offset="0.939" stop-color="#dca200"/></radialGradient>
<radialGradient id="ga1_34" cx="222.4" cy="413.2" r="236" gradientUnits="userSpaceOnUse"><stop offset="0.311" stop-color="#3dcae1"/><stop offset="0.323" stop-color="#44d2d9"/><stop offset="0.334" stop-color="#4edacb"/><stop offset="0.345" stop-color="#5ddeb4"/><stop offset="0.362" stop-color="#6fe19c"/><stop offset="0.379" stop-color="#82e284"/><stop offset="0.417" stop-color="#99e264"/><stop offset="0.470" stop-color="#a9e24f"/><stop offset="0.523" stop-color="#bbe034"/><stop offset="0.642" stop-color="#d0da18"/><stop offset="0.761" stop-color="#d8c907"/><stop offset="0.879" stop-color="#dcab01"/><stop offset="0.939" stop-color="#dc9c00"/></radialGradient>
<radialGradient id="ga1_35" cx="222.4" cy="413.2" r="236" gradientUnits="userSpaceOnUse"><stop offset="0.311" stop-color="#45d4d7"/><stop offset="0.328" stop-color="#56dcc0"/><stop offset="0.345" stop-color="#6ce0a0"/><stop offset="0.362" stop-color="#7de18b"/><stop offset="0.379" stop-color="#8de275"/><stop offset="0.417" stop-color="#a0e25a"/><stop offset="0.470" stop-color="#b0e145"/><stop offset="0.523" stop-color="#c0df2d"/><stop offset="0.662" stop-color="#d3d512"/><stop offset="0.800" stop-color="#daba04"/><stop offset="0.939" stop-color="#dc9600"/></radialGradient>
<radialGradient id="ga1_36" cx="222.4" cy="413.2" r="236" gradientUnits="userSpaceOnUse"><stop offset="0.311" stop-color="#55dcc1"/><stop offset="0.328" stop-color="#67e0a7"/><stop offset="0.345" stop-color="#7de18b"/><stop offset="0.379" stop-color="#97e267"/><stop offset="0.439" stop-color="#afe146"/><stop offset="0.534" stop-color="#c4de28"/><stop offset="0.629" stop-color="#d3d613"/><stop offset="0.732" stop-color="#d9c507"/><stop offset="0.835" stop-color="#dcac01"/><stop offset="0.939" stop-color="#dc9100"/></radialGradient>
<radialGradient id="ga1_37" cx="222.4" cy="413.2" r="236" gradientUnits="userSpaceOnUse"><stop offset="0.311" stop-color="#6be0a1"/><stop offset="0.328" stop-color="#7de18b"/><stop offset="0.345" stop-color="#8de275"/><stop offset="0.371" stop-color="#9be262"/><stop offset="0.396" stop-color="#a8e24f"/><stop offset="0.460" stop-color="#b9e037"/><stop offset="0.523" stop-color="#c8dd23"/><stop offset="0.662" stop-color="#d6cf0b"/><stop offset="0.800" stop-color="#dbb002"/><stop offset="0.939" stop-color="#dc8b00"/></radialGradient>
<radialGradient id="ga1_38" cx="222.4" cy="413.2" r="236" gradientUnits="userSpaceOnUse"><stop offset="0.311" stop-color="#87e27d"/><stop offset="0.337" stop-color="#96e268"/><stop offset="0.362" stop-color="#a5e254"/><stop offset="0.439" stop-color="#bde032"/><stop offset="0.564" stop-color="#d1d917"/><stop offset="0.689" stop-color="#d9c707"/><stop offset="0.814" stop-color="#dca800"/><stop offset="0.939" stop-color="#dc8700"/></radialGradient>
<radialGradient id="ga1_39" cx="222.4" cy="413.2" r="236" gradientUnits="userSpaceOnUse"><stop offset="0.311" stop-color="#a1e25a"/><stop offset="0.379" stop-color="#b9e038"/><stop offset="0.491" stop-color="#cbdc1f"/><stop offset="0.602" stop-color="#d5d00d"/><stop offset="0.714" stop-color="#dabb04"/><stop offset="0.826" stop-color="#dc9f00"/><stop offset="0.939" stop-color="#dc8200"/></radialGradient></defs>
<g clip-path="url(#cpa1)"><g filter="url(#fblur)"><path d="M222.4 413.2 L460.2 450.9 L462.9 403.7 Z" fill="url(#ga1_0)"/>
<path d="M222.4 413.2 L463.0 405.8 L462.4 394.3 Z" fill="url(#ga1_1)"/>
<path d="M222.4 413.2 L462.5 396.4 L461.5 384.9 Z" fill="url(#ga1_2)"/>
<path d="M222.4 413.2 L461.7 387.0 L460.2 375.5 Z" fill="url(#ga1_3)"/>
<path d="M222.4 413.2 L460.5 377.6 L458.5 366.2 Z" fill="url(#ga1_4)"/>
<path d="M222.4 413.2 L458.9 368.3 L456.5 357.0 Z" fill="url(#ga1_5)"/>
<path d="M222.4 413.2 L457.0 359.0 L454.1 347.9 Z" fill="url(#ga1_6)"/>
<path d="M222.4 413.2 L454.6 349.9 L451.3 338.8 Z" fill="url(#ga1_7)"/>
<path d="M222.4 413.2 L452.0 340.8 L448.2 329.9 Z" fill="url(#ga1_8)"/>
<path d="M222.4 413.2 L449.0 331.9 L444.8 321.1 Z" fill="url(#ga1_9)"/>
<path d="M222.4 413.2 L445.6 323.0 L441.0 312.4 Z" fill="url(#ga1_10)"/>
<path d="M222.4 413.2 L441.9 314.3 L436.9 303.9 Z" fill="url(#ga1_11)"/>
<path d="M222.4 413.2 L437.8 305.8 L432.4 295.6 Z" fill="url(#ga1_12)"/>
<path d="M222.4 413.2 L433.4 297.4 L427.6 287.4 Z" fill="url(#ga1_13)"/>
<path d="M222.4 413.2 L428.7 289.2 L422.6 279.5 Z" fill="url(#ga1_14)"/>
<path d="M222.4 413.2 L423.7 281.2 L417.1 271.7 Z" fill="url(#ga1_15)"/>
<path d="M222.4 413.2 L418.4 273.4 L411.4 264.2 Z" fill="url(#ga1_16)"/>
<path d="M222.4 413.2 L412.7 265.8 L405.4 256.9 Z" fill="url(#ga1_17)"/>
<path d="M222.4 413.2 L406.8 258.5 L399.2 249.8 Z" fill="url(#ga1_18)"/>
<path d="M222.4 413.2 L400.6 251.3 L392.6 243.0 Z" fill="url(#ga1_19)"/>
<path d="M222.4 413.2 L394.1 244.5 L385.8 236.4 Z" fill="url(#ga1_20)"/>
<path d="M222.4 413.2 L387.3 237.9 L378.7 230.2 Z" fill="url(#ga1_21)"/>
<path d="M222.4 413.2 L380.3 231.5 L371.4 224.2 Z" fill="url(#ga1_22)"/>
<path d="M222.4 413.2 L373.1 225.5 L363.9 218.5 Z" fill="url(#ga1_23)"/>
<path d="M222.4 413.2 L365.6 219.7 L356.1 213.0 Z" fill="url(#ga1_24)"/>
<path d="M222.4 413.2 L357.9 214.2 L348.2 208.0 Z" fill="url(#ga1_25)"/>
<path d="M222.4 413.2 L350.0 209.1 L340.0 203.2 Z" fill="url(#ga1_26)"/>
<path d="M222.4 413.2 L341.8 204.2 L331.7 198.7 Z" fill="url(#ga1_27)"/>
<path d="M222.4 413.2 L333.6 199.7 L323.2 194.6 Z" fill="url(#ga1_28)"/>
<path d="M222.4 413.2 L325.1 195.5 L314.5 190.8 Z" fill="url(#ga1_29)"/>
<path d="M222.4 413.2 L316.5 191.6 L305.7 187.4 Z" fill="url(#ga1_30)"/>
<path d="M222.4 413.2 L307.7 188.1 L296.8 184.3 Z" fill="url(#ga1_31)"/>
<path d="M222.4 413.2 L298.8 184.9 L287.7 181.5 Z" fill="url(#ga1_32)"/>
<path d="M222.4 413.2 L289.8 182.1 L278.6 179.1 Z" fill="url(#ga1_33)"/>
<path d="M222.4 413.2 L280.6 179.6 L269.4 177.1 Z" fill="url(#ga1_34)"/>
<path d="M222.4 413.2 L271.4 177.5 L260.1 175.4 Z" fill="url(#ga1_35)"/>
<path d="M222.4 413.2 L262.1 175.8 L250.7 174.1 Z" fill="url(#ga1_36)"/>
<path d="M222.4 413.2 L252.8 174.4 L241.3 173.2 Z" fill="url(#ga1_37)"/>
<path d="M222.4 413.2 L243.4 173.4 L231.9 172.7 Z" fill="url(#ga1_38)"/>
<path d="M222.4 413.2 L233.9 172.8 L184.7 175.4 Z" fill="url(#ga1_39)"/></g></g>
<clipPath id="cpa2"><path d="M479.9 192.0 A221.6 221.2 0 0 1 701.5 413.2 L553.6 413.2 A73.7 73.4 0 0 0 479.9 339.8 Z"/></clipPath>
<defs><radialGradient id="ga2_0" cx="479.9" cy="413.2" r="236" gradientUnits="userSpaceOnUse"><stop offset="0.311" stop-color="#88e27c"/><stop offset="0.557" stop-color="#95e26a"/><stop offset="0.748" stop-color="#a6e252"/><stop offset="0.939" stop-color="#bae035"/></radialGradient>
<radialGradient id="ga2_1" cx="479.9" cy="413.2" r="236" gradientUnits="userSpaceOnUse"><stop offset="0.311" stop-color="#88e27c"/><stop offset="0.557" stop-color="#95e26a"/><stop offset="0.748" stop-color="#a7e252"/><stop offset="0.939" stop-color="#bbe035"/></radialGradient>
<radialGradient id="ga2_2" cx="479.9" cy="413.2" r="236" gradientUnits="userSpaceOnUse"><stop offset="0.311" stop-color="#88e27c"/><stop offset="0.557" stop-color="#95e26a"/><stop offset="0.748" stop-color="#a7e251"/><stop offset="0.939" stop-color="#bbe034"/></radialGradient>
<radialGradient id="ga2_3" cx="479.9" cy="413.2" r="236" gradientUnits="userSpaceOnUse"><stop offset="0.311" stop-color="#89e27b"/><stop offset="0.557" stop-color="#95e269"/><stop offset="0.748" stop-color="#a7e251"/><stop offset="0.939" stop-color="#bce033"/></radialGradient>
<radialGradient id="ga2_4" cx="479.9" cy="413.2" r="236" gradientUnits="userSpaceOnUse"><stop offset="0.311" stop-color="#89e27b"/><stop offset="0.523" stop-color="#93e26e"/><stop offset="0.731" stop-color="#a6e252"/><stop offset="0.939" stop-color="#bce032"/></radialGradient>
<radialGradient id="ga2_5" cx="479.9" cy="413.2" r="236" gradientUnits="userSpaceOnUse"><stop offset="0.311" stop-color="#89e27a"/><stop offset="0.523" stop-color="#93e26d"/><stop offset="0.731" stop-color="#a7e252"/><stop offset="0.939" stop-color="#bde031"/></radialGradient>
<radialGradient id="ga2_6" cx="479.9" cy="413.2" r="236" gradientUnits="userSpaceOnUse"><stop offset="0.311" stop-color="#8ae279"/><stop offset="0.523" stop-color="#93e26c"/><stop offset="0.731" stop-color="#a7e251"/><stop offset="0.939" stop-color="#bee030"/></radialGradient>
<radialGradient id="ga2_7" cx="479.9" cy="413.2" r="236" gradientUnits="userSpaceOnUse"><stop offset="0.311" stop-color="#8be279"/><stop offset="0.523" stop-color="#94e26b"/><stop offset="0.731" stop-color="#a8e250"/><stop offset="0.939" stop-color="#bfe02f"/></radialGradient>
<radialGradient id="ga2_8" cx="479.9" cy="413.2" r="236" gradientUnits="userSpaceOnUse"><stop offset="0.311" stop-color="#8ce277"/><stop offset="0.523" stop-color="#96e269"/><stop offset="0.731" stop-color="#a9e24e"/><stop offset="0.939" stop-color="#bfe02e"/></radialGradient>
<radialGradient id="ga2_9" cx="479.9" cy="413.2" r="236" gradientUnits="userSpaceOnUse"><stop offset="0.311" stop-color="#8de275"/><stop offset="0.523" stop-color="#97e267"/><stop offset="0.731" stop-color="#abe24c"/><stop offset="0.939" stop-color="#c0df2d"/></radialGradient>
<radialGradient id="ga2_10" cx="479.9" cy="413.2" r="236" gradientUnits="userSpaceOnUse"><stop offset="0.311" stop-color="#8fe272"/><stop offset="0.523" stop-color="#99e264"/><stop offset="0.731" stop-color="#ace24a"/><stop offset="0.939" stop-color="#c1df2c"/></radialGradient>
<radialGradient id="ga2_11" cx="479.9" cy="413.2" r="236" gradientUnits="userSpaceOnUse"><stop offset="0.311" stop-color="#91e270"/><stop offset="0.557" stop-color="#9fe25c"/><stop offset="0.748" stop-color="#b0e144"/><stop offset="0.939" stop-color="#c2df2b"/></radialGradient>
<radialGradient id="ga2_12" cx="479.9" cy="413.2" r="236" gradientUnits="userSpaceOnUse"><stop offset="0.311" stop-color="#93e26d"/><stop offset="0.557" stop-color="#a1e259"/><stop offset="0.748" stop-color="#b2e141"/><stop offset="0.939" stop-color="#c3de29"/></radialGradient>
<radialGradient id="ga2_13" cx="479.9" cy="413.2" r="236" gradientUnits="userSpaceOnUse"><stop offset="0.311" stop-color="#95e26a"/><stop offset="0.557" stop-color="#a4e256"/><stop offset="0.748" stop-color="#b4e13e"/><stop offset="0.939" stop-color="#c4de28"/></radialGradient>
<radialGradient id="ga2_14" cx="479.9" cy="413.2" r="236" gradientUnits="userSpaceOnUse"><stop offset="0.311" stop-color="#97e267"/><stop offset="0.557" stop-color="#a6e253"/><stop offset="0.748" stop-color="#b7e13b"/><stop offset="0.939" stop-color="#c6dd26"/></radialGradient>
<radialGradient id="ga2_15" cx="479.9" cy="413.2" r="236" gradientUnits="userSpaceOnUse"><stop offset="0.311" stop-color="#9ae263"/><stop offset="0.591" stop-color="#ade249"/><stop offset="0.939" stop-color="#c8dd23"/></radialGradient>
<radialGradient id="ga2_16" cx="479.9" cy="413.2" r="236" gradientUnits="userSpaceOnUse"><stop offset="0.311" stop-color="#9de25f"/><stop offset="0.591" stop-color="#b0e144"/><stop offset="0.939" stop-color="#cadc20"/></radialGradient>
<radialGradient id="ga2_17" cx="479.9" cy="413.2" r="236" gradientUnits="userSpaceOnUse"><stop offset="0.311" stop-color="#a0e25b"/><stop offset="0.625" stop-color="#b7e13a"/><stop offset="0.939" stop-color="#ccdb1d"/></radialGradient>
<radialGradient id="ga2_18" cx="479.9" cy="413.2" r="236" gradientUnits="userSpaceOnUse"><stop offset="0.311" stop-color="#a3e257"/><stop offset="0.625" stop-color="#bae035"/><stop offset="0.939" stop-color="#cedb1a"/></radialGradient>
<radialGradient id="ga2_19" cx="479.9" cy="413.2" r="236" gradientUnits="userSpaceOnUse"><stop offset="0.311" stop-color="#a6e252"/><stop offset="0.625" stop-color="#bee031"/><stop offset="0.939" stop-color="#d0d917"/></radialGradient>
<radialGradient id="ga2_20" cx="479.9" cy="413.2" r="236" gradientUnits="userSpaceOnUse"><stop offset="0.311" stop-color="#aae24d"/><stop offset="0.625" stop-color="#c0df2d"/><stop offset="0.939" stop-color="#d1d815"/></radialGradient>
<radialGradient id="ga2_21" cx="479.9" cy="413.2" r="236" gradientUnits="userSpaceOnUse"><stop offset="0.311" stop-color="#aee148"/><stop offset="0.625" stop-color="#c3de29"/><stop offset="0.939" stop-color="#d2d613"/></radialGradient>
<radialGradient id="ga2_22" cx="479.9" cy="413.2" r="236" gradientUnits="userSpaceOnUse"><stop offset="0.311" stop-color="#b2e142"/><stop offset="0.625" stop-color="#c6dd26"/><stop offset="0.939" stop-color="#d3d411"/></radialGradient>
<radialGradient id="ga2_23" cx="479.9" cy="413.2" r="236" gradientUnits="userSpaceOnUse"><stop offset="0.311" stop-color="#b6e13b"/><stop offset="0.625" stop-color="#c9dc22"/><stop offset="0.939" stop-color="#d4d30f"/></radialGradient>
<radialGradient id="ga2_24" cx="479.9" cy="413.2" r="236" gradientUnits="userSpaceOnUse"><stop offset="0.311" stop-color="#bae035"/><stop offset="0.625" stop-color="#cbdc1e"/><stop offset="0.939" stop-color="#d5d10d"/></radialGradient>
<radialGradient id="ga2_25" cx="479.9" cy="413.2" r="236" gradientUnits="userSpaceOnUse"><stop offset="0.311" stop-color="#bee030"/><stop offset="0.714" stop-color="#d1d916"/><stop offset="0.939" stop-color="#d7cf0b"/></radialGradient>
<radialGradient id="ga2_26" cx="479.9" cy="413.2" r="236" gradientUnits="userSpaceOnUse"><stop offset="0.311" stop-color="#c1df2d"/><stop offset="0.672" stop-color="#d1d816"/><stop offset="0.939" stop-color="#d8cc08"/></radialGradient>
<radialGradient id="ga2_27" cx="479.9" cy="413.2" r="236" gradientUnits="userSpaceOnUse"><stop offset="0.311" stop-color="#c3de2a"/><stop offset="0.629" stop-color="#d1d816"/><stop offset="0.939" stop-color="#d8c807"/></radialGradient>
<radialGradient id="ga2_28" cx="479.9" cy="413.2" r="236" gradientUnits="userSpaceOnUse"><stop offset="0.311" stop-color="#c5de27"/><stop offset="0.629" stop-color="#d2d614"/><stop offset="0.939" stop-color="#d9c306"/></radialGradient>
<radialGradient id="ga2_29" cx="479.9" cy="413.2" r="236" gradientUnits="userSpaceOnUse"><stop offset="0.311" stop-color="#c7dd24"/><stop offset="0.591" stop-color="#d2d614"/><stop offset="0.939" stop-color="#dabd05"/></radialGradient>
<radialGradient id="ga2_30" cx="479.9" cy="413.2" r="236" gradientUnits="userSpaceOnUse"><stop offset="0.311" stop-color="#c8dd22"/><stop offset="0.557" stop-color="#d2d714"/><stop offset="0.748" stop-color="#d8cc08"/><stop offset="0.939" stop-color="#dab703"/></radialGradient>
<radialGradient id="ga2_31" cx="479.9" cy="413.2" r="236" gradientUnits="userSpaceOnUse"><stop offset="0.311" stop-color="#cadc20"/><stop offset="0.557" stop-color="#d3d512"/><stop offset="0.748" stop-color="#d9c607"/><stop offset="0.939" stop-color="#dbb002"/></radialGradient>
<radialGradient id="ga2_32" cx="479.9" cy="413.2" r="236" gradientUnits="userSpaceOnUse"><stop offset="0.311" stop-color="#ccdb1e"/><stop offset="0.557" stop-color="#d4d310"/><stop offset="0.748" stop-color="#d9c106"/><stop offset="0.939" stop-color="#dca900"/></radialGradient>
<radialGradient id="ga2_33" cx="479.9" cy="413.2" r="236" gradientUnits="userSpaceOnUse"><stop offset="0.311" stop-color="#cddb1c"/><stop offset="0.557" stop-color="#d5d10d"/><stop offset="0.748" stop-color="#dabc04"/><stop offset="0.939" stop-color="#dca200"/></radialGradient>
<radialGradient id="ga2_34" cx="479.9" cy="413.2" r="236" gradientUnits="userSpaceOnUse"><stop offset="0.311" stop-color="#cfda1a"/><stop offset="0.557" stop-color="#d6cf0b"/><stop offset="0.748" stop-color="#dab603"/><stop offset="0.939" stop-color="#dc9a00"/></radialGradient>
<radialGradient id="ga2_35" cx="479.9" cy="413.2" r="236" gradientUnits="userSpaceOnUse"><stop offset="0.311" stop-color="#d0da18"/><stop offset="0.557" stop-color="#d8cc09"/><stop offset="0.748" stop-color="#dbb002"/><stop offset="0.939" stop-color="#dc9100"/></radialGradient>
<radialGradient id="ga2_36" cx="479.9" cy="413.2" r="236" gradientUnits="userSpaceOnUse"><stop offset="0.311" stop-color="#d1d917"/><stop offset="0.523" stop-color="#d7cd0a"/><stop offset="0.731" stop-color="#dbad01"/><stop offset="0.939" stop-color="#dc8900"/></radialGradient>
<radialGradient id="ga2_37" cx="479.9" cy="413.2" r="236" gradientUnits="userSpaceOnUse"><stop offset="0.311" stop-color="#d1d815"/><stop offset="0.523" stop-color="#d8ca08"/><stop offset="0.731" stop-color="#dca700"/><stop offset="0.939" stop-color="#dc7f00"/></radialGradient>
<radialGradient id="ga2_38" cx="479.9" cy="413.2" r="236" gradientUnits="userSpaceOnUse"><stop offset="0.311" stop-color="#d2d714"/><stop offset="0.523" stop-color="#d9c607"/><stop offset="0.662" stop-color="#dbad01"/><stop offset="0.800" stop-color="#dc9200"/><stop offset="0.939" stop-color="#db7800"/></radialGradient>
<radialGradient id="ga2_39" cx="479.9" cy="413.2" r="236" gradientUnits="userSpaceOnUse"><stop offset="0.311" stop-color="#d2d613"/><stop offset="0.523" stop-color="#d9c206"/><stop offset="0.662" stop-color="#dca700"/><stop offset="0.800" stop-color="#dc8a00"/><stop offset="0.939" stop-color="#db7000"/></radialGradient></defs>
<g clip-path="url(#cpa2)"><g filter="url(#fblur)"><path d="M479.9 413.2 L717.7 450.9 L720.4 403.7 Z" fill="url(#ga2_0)"/>
<path d="M479.9 413.2 L720.5 405.8 L719.9 394.3 Z" fill="url(#ga2_1)"/>
<path d="M479.9 413.2 L720.0 396.4 L719.0 384.9 Z" fill="url(#ga2_2)"/>
<path d="M479.9 413.2 L719.2 387.0 L717.7 375.5 Z" fill="url(#ga2_3)"/>
<path d="M479.9 413.2 L718.0 377.6 L716.0 366.2 Z" fill="url(#ga2_4)"/>
<path d="M479.9 413.2 L716.4 368.3 L714.0 357.0 Z" fill="url(#ga2_5)"/>
<path d="M479.9 413.2 L714.5 359.0 L711.6 347.9 Z" fill="url(#ga2_6)"/>
<path d="M479.9 413.2 L712.1 349.9 L708.8 338.8 Z" fill="url(#ga2_7)"/>
<path d="M479.9 413.2 L709.5 340.8 L705.7 329.9 Z" fill="url(#ga2_8)"/>
<path d="M479.9 413.2 L706.5 331.9 L702.3 321.1 Z" fill="url(#ga2_9)"/>
<path d="M479.9 413.2 L703.1 323.0 L698.5 312.4 Z" fill="url(#ga2_10)"/>
<path d="M479.9 413.2 L699.4 314.3 L694.4 303.9 Z" fill="url(#ga2_11)"/>
<path d="M479.9 413.2 L695.3 305.8 L689.9 295.6 Z" fill="url(#ga2_12)"/>
<path d="M479.9 413.2 L690.9 297.4 L685.1 287.4 Z" fill="url(#ga2_13)"/>
<path d="M479.9 413.2 L686.2 289.2 L680.1 279.5 Z" fill="url(#ga2_14)"/>
<path d="M479.9 413.2 L681.2 281.2 L674.6 271.7 Z" fill="url(#ga2_15)"/>
<path d="M479.9 413.2 L675.9 273.4 L668.9 264.2 Z" fill="url(#ga2_16)"/>
<path d="M479.9 413.2 L670.2 265.8 L662.9 256.9 Z" fill="url(#ga2_17)"/>
<path d="M479.9 413.2 L664.3 258.5 L656.7 249.8 Z" fill="url(#ga2_18)"/>
<path d="M479.9 413.2 L658.1 251.3 L650.1 243.0 Z" fill="url(#ga2_19)"/>
<path d="M479.9 413.2 L651.6 244.5 L643.3 236.4 Z" fill="url(#ga2_20)"/>
<path d="M479.9 413.2 L644.8 237.9 L636.2 230.2 Z" fill="url(#ga2_21)"/>
<path d="M479.9 413.2 L637.8 231.5 L628.9 224.2 Z" fill="url(#ga2_22)"/>
<path d="M479.9 413.2 L630.6 225.5 L621.4 218.5 Z" fill="url(#ga2_23)"/>
<path d="M479.9 413.2 L623.1 219.7 L613.6 213.0 Z" fill="url(#ga2_24)"/>
<path d="M479.9 413.2 L615.4 214.2 L605.7 208.0 Z" fill="url(#ga2_25)"/>
<path d="M479.9 413.2 L607.5 209.1 L597.5 203.2 Z" fill="url(#ga2_26)"/>
<path d="M479.9 413.2 L599.3 204.2 L589.2 198.7 Z" fill="url(#ga2_27)"/>
<path d="M479.9 413.2 L591.1 199.7 L580.7 194.6 Z" fill="url(#ga2_28)"/>
<path d="M479.9 413.2 L582.6 195.5 L572.0 190.8 Z" fill="url(#ga2_29)"/>
<path d="M479.9 413.2 L574.0 191.6 L563.2 187.4 Z" fill="url(#ga2_30)"/>
<path d="M479.9 413.2 L565.2 188.1 L554.3 184.3 Z" fill="url(#ga2_31)"/>
<path d="M479.9 413.2 L556.3 184.9 L545.2 181.5 Z" fill="url(#ga2_32)"/>
<path d="M479.9 413.2 L547.3 182.1 L536.1 179.1 Z" fill="url(#ga2_33)"/>
<path d="M479.9 413.2 L538.1 179.6 L526.9 177.1 Z" fill="url(#ga2_34)"/>
<path d="M479.9 413.2 L528.9 177.5 L517.6 175.4 Z" fill="url(#ga2_35)"/>
<path d="M479.9 413.2 L519.6 175.8 L508.2 174.1 Z" fill="url(#ga2_36)"/>
<path d="M479.9 413.2 L510.3 174.4 L498.8 173.2 Z" fill="url(#ga2_37)"/>
<path d="M479.9 413.2 L500.9 173.4 L489.4 172.7 Z" fill="url(#ga2_38)"/>
<path d="M479.9 413.2 L491.4 172.8 L442.2 175.4 Z" fill="url(#ga2_39)"/></g></g>
<clipPath id="cpa3"><path d="M737.4 192.0 A221.6 221.2 0 0 1 959.0 413.2 L811.1 413.2 A73.7 73.4 0 0 0 737.4 339.8 Z"/></clipPath>
<defs><radialGradient id="ga3_0" cx="737.4" cy="413.2" r="236" gradientUnits="userSpaceOnUse"><stop offset="0.311" stop-color="#dc8000"/><stop offset="0.939" stop-color="#dc7c00"/></radialGradient>
<radialGradient id="ga3_1" cx="737.4" cy="413.2" r="236" gradientUnits="userSpaceOnUse"><stop offset="0.311" stop-color="#dc8000"/><stop offset="0.939" stop-color="#dc7b00"/></radialGradient>
<radialGradient id="ga3_2" cx="737.4" cy="413.2" r="236" gradientUnits="userSpaceOnUse"><stop offset="0.311" stop-color="#dc8000"/><stop offset="0.939" stop-color="#db7a00"/></radialGradient>
<radialGradient id="ga3_3" cx="737.4" cy="413.2" r="236" gradientUnits="userSpaceOnUse"><stop offset="0.311" stop-color="#dc7f00"/><stop offset="0.939" stop-color="#db7a00"/></radialGradient>
<radialGradient id="ga3_4" cx="737.4" cy="413.2" r="236" gradientUnits="userSpaceOnUse"><stop offset="0.311" stop-color="#dc7f00"/><stop offset="0.939" stop-color="#db7900"/></radialGradient>
<radialGradient id="ga3_5" cx="737.4" cy="413.2" r="236" gradientUnits="userSpaceOnUse"><stop offset="0.311" stop-color="#dc7f00"/><stop offset="0.939" stop-color="#db7800"/></radialGradient>
<radialGradient id="ga3_6" cx="737.4" cy="413.2" r="236" gradientUnits="userSpaceOnUse"><stop offset="0.311" stop-color="#dc7e00"/><stop offset="0.939" stop-color="#db7700"/></radialGradient>
<radialGradient id="ga3_7" cx="737.4" cy="413.2" r="236" gradientUnits="userSpaceOnUse"><stop offset="0.311" stop-color="#dc7e00"/><stop offset="0.939" stop-color="#db7500"/></radialGradient>
<radialGradient id="ga3_8" cx="737.4" cy="413.2" r="236" gradientUnits="userSpaceOnUse"><stop offset="0.311" stop-color="#dc7e00"/><stop offset="0.939" stop-color="#db7400"/></radialGradient>
<radialGradient id="ga3_9" cx="737.4" cy="413.2" r="236" gradientUnits="userSpaceOnUse"><stop offset="0.311" stop-color="#dc7d00"/><stop offset="0.939" stop-color="#db7200"/></radialGradient>
<radialGradient id="ga3_10" cx="737.4" cy="413.2" r="236" gradientUnits="userSpaceOnUse"><stop offset="0.311" stop-color="#dc7c00"/><stop offset="0.939" stop-color="#db7100"/></radialGradient>
<radialGradient id="ga3_11" cx="737.4" cy="413.2" r="236" gradientUnits="userSpaceOnUse"><stop offset="0.311" stop-color="#dc7b00"/><stop offset="0.939" stop-color="#da6f00"/></radialGradient>
<radialGradient id="ga3_12" cx="737.4" cy="413.2" r="236" gradientUnits="userSpaceOnUse"><stop offset="0.311" stop-color="#db7a00"/><stop offset="0.939" stop-color="#da6d00"/></radialGradient>
<radialGradient id="ga3_13" cx="737.4" cy="413.2" r="236" gradientUnits="userSpaceOnUse"><stop offset="0.311" stop-color="#db7900"/><stop offset="0.939" stop-color="#da6c00"/></radialGradient>
<radialGradient id="ga3_14" cx="737.4" cy="413.2" r="236" gradientUnits="userSpaceOnUse"><stop offset="0.311" stop-color="#db7800"/><stop offset="0.939" stop-color="#da6a00"/></radialGradient>
<radialGradient id="ga3_15" cx="737.4" cy="413.2" r="236" gradientUnits="userSpaceOnUse"><stop offset="0.311" stop-color="#db7700"/><stop offset="0.939" stop-color="#da6900"/></radialGradient>
<radialGradient id="ga3_16" cx="737.4" cy="413.2" r="236" gradientUnits="userSpaceOnUse"><stop offset="0.311" stop-color="#db7600"/><stop offset="0.939" stop-color="#da6700"/></radialGradient>
<radialGradient id="ga3_17" cx="737.4" cy="413.2" r="236" gradientUnits="userSpaceOnUse"><stop offset="0.311" stop-color="#db7400"/><stop offset="0.939" stop-color="#da6600"/></radialGradient>
<radialGradient id="ga3_18" cx="737.4" cy="413.2" r="236" gradientUnits="userSpaceOnUse"><stop offset="0.311" stop-color="#db7200"/><stop offset="0.939" stop-color="#d96400"/></radialGradient>
<radialGradient id="ga3_19" cx="737.4" cy="413.2" r="236" gradientUnits="userSpaceOnUse"><stop offset="0.311" stop-color="#db7100"/><stop offset="0.939" stop-color="#d96200"/></radialGradient>
<radialGradient id="ga3_20" cx="737.4" cy="413.2" r="236" gradientUnits="userSpaceOnUse"><stop offset="0.311" stop-color="#da6f00"/><stop offset="0.939" stop-color="#d96100"/></radialGradient>
<radialGradient id="ga3_21" cx="737.4" cy="413.2" r="236" gradientUnits="userSpaceOnUse"><stop offset="0.311" stop-color="#da6d00"/><stop offset="0.939" stop-color="#d95f00"/></radialGradient>
<radialGradient id="ga3_22" cx="737.4" cy="413.2" r="236" gradientUnits="userSpaceOnUse"><stop offset="0.311" stop-color="#da6c00"/><stop offset="0.939" stop-color="#d95d00"/></radialGradient>
<radialGradient id="ga3_23" cx="737.4" cy="413.2" r="236" gradientUnits="userSpaceOnUse"><stop offset="0.311" stop-color="#da6a00"/><stop offset="0.939" stop-color="#d95b00"/></radialGradient>
<radialGradient id="ga3_24" cx="737.4" cy="413.2" r="236" gradientUnits="userSpaceOnUse"><stop offset="0.311" stop-color="#da6800"/><stop offset="0.939" stop-color="#d85900"/></radialGradient>
<radialGradient id="ga3_25" cx="737.4" cy="413.2" r="236" gradientUnits="userSpaceOnUse"><stop offset="0.311" stop-color="#da6600"/><stop offset="0.939" stop-color="#d85700"/></radialGradient>
<radialGradient id="ga3_26" cx="737.4" cy="413.2" r="236" gradientUnits="userSpaceOnUse"><stop offset="0.311" stop-color="#d96400"/><stop offset="0.939" stop-color="#d85400"/></radialGradient>
<radialGradient id="ga3_27" cx="737.4" cy="413.2" r="236" gradientUnits="userSpaceOnUse"><stop offset="0.311" stop-color="#d96200"/><stop offset="0.939" stop-color="#d85200"/></radialGradient>
<radialGradient id="ga3_28" cx="737.4" cy="413.2" r="236" gradientUnits="userSpaceOnUse"><stop offset="0.311" stop-color="#d96100"/><stop offset="0.939" stop-color="#d74f00"/></radialGradient>
<radialGradient id="ga3_29" cx="737.4" cy="413.2" r="236" gradientUnits="userSpaceOnUse"><stop offset="0.311" stop-color="#d95f00"/><stop offset="0.939" stop-color="#d74d00"/></radialGradient>
<radialGradient id="ga3_30" cx="737.4" cy="413.2" r="236" gradientUnits="userSpaceOnUse"><stop offset="0.311" stop-color="#d95d00"/><stop offset="0.939" stop-color="#d74a00"/></radialGradient>
<radialGradient id="ga3_31" cx="737.4" cy="413.2" r="236" gradientUnits="userSpaceOnUse"><stop offset="0.311" stop-color="#d95b00"/><stop offset="0.939" stop-color="#d74600"/></radialGradient>
<radialGradient id="ga3_32" cx="737.4" cy="413.2" r="236" gradientUnits="userSpaceOnUse"><stop offset="0.311" stop-color="#d85900"/><stop offset="0.939" stop-color="#d64300"/></radialGradient>
<radialGradient id="ga3_33" cx="737.4" cy="413.2" r="236" gradientUnits="userSpaceOnUse"><stop offset="0.311" stop-color="#d85800"/><stop offset="0.939" stop-color="#d63f00"/></radialGradient>
<radialGradient id="ga3_34" cx="737.4" cy="413.2" r="236" gradientUnits="userSpaceOnUse"><stop offset="0.311" stop-color="#d85600"/><stop offset="0.939" stop-color="#d53c00"/></radialGradient>
<radialGradient id="ga3_35" cx="737.4" cy="413.2" r="236" gradientUnits="userSpaceOnUse"><stop offset="0.311" stop-color="#d85500"/><stop offset="0.879" stop-color="#d53b00"/><stop offset="0.939" stop-color="#d53800"/></radialGradient>
<radialGradient id="ga3_36" cx="737.4" cy="413.2" r="236" gradientUnits="userSpaceOnUse"><stop offset="0.311" stop-color="#d85400"/><stop offset="0.769" stop-color="#d63d00"/><stop offset="0.939" stop-color="#d43400"/></radialGradient>
<radialGradient id="ga3_37" cx="737.4" cy="413.2" r="236" gradientUnits="userSpaceOnUse"><stop offset="0.311" stop-color="#d85300"/><stop offset="0.769" stop-color="#d53b00"/><stop offset="0.939" stop-color="#d32f00"/></radialGradient>
<radialGradient id="ga3_38" cx="737.4" cy="413.2" r="236" gradientUnits="userSpaceOnUse"><stop offset="0.311" stop-color="#d85100"/><stop offset="0.714" stop-color="#d53b00"/><stop offset="0.939" stop-color="#d22b00"/></radialGradient>
<radialGradient id="ga3_39" cx="737.4" cy="413.2" r="236" gradientUnits="userSpaceOnUse"><stop offset="0.311" stop-color="#d85000"/><stop offset="0.714" stop-color="#d53900"/><stop offset="0.939" stop-color="#d22600"/></radialGradient></defs>
<g clip-path="url(#cpa3)"><g filter="url(#fblur)"><path d="M737.4 413.2 L975.2 450.9 L977.9 403.7 Z" fill="url(#ga3_0)"/>
<path d="M737.4 413.2 L978.0 405.8 L977.4 394.3 Z" fill="url(#ga3_1)"/>
<path d="M737.4 413.2 L977.5 396.4 L976.5 384.9 Z" fill="url(#ga3_2)"/>
<path d="M737.4 413.2 L976.7 387.0 L975.2 375.5 Z" fill="url(#ga3_3)"/>
<path d="M737.4 413.2 L975.5 377.6 L973.5 366.2 Z" fill="url(#ga3_4)"/>
<path d="M737.4 413.2 L973.9 368.3 L971.5 357.0 Z" fill="url(#ga3_5)"/>
<path d="M737.4 413.2 L972.0 359.0 L969.1 347.9 Z" fill="url(#ga3_6)"/>
<path d="M737.4 413.2 L969.6 349.9 L966.3 338.8 Z" fill="url(#ga3_7)"/>
<path d="M737.4 413.2 L967.0 340.8 L963.2 329.9 Z" fill="url(#ga3_8)"/>
<path d="M737.4 413.2 L964.0 331.9 L959.8 321.1 Z" fill="url(#ga3_9)"/>
<path d="M737.4 413.2 L960.6 323.0 L956.0 312.4 Z" fill="url(#ga3_10)"/>
<path d="M737.4 413.2 L956.9 314.3 L951.9 303.9 Z" fill="url(#ga3_11)"/>
<path d="M737.4 413.2 L952.8 305.8 L947.4 295.6 Z" fill="url(#ga3_12)"/>
<path d="M737.4 413.2 L948.4 297.4 L942.6 287.4 Z" fill="url(#ga3_13)"/>
<path d="M737.4 413.2 L943.7 289.2 L937.6 279.5 Z" fill="url(#ga3_14)"/>
<path d="M737.4 413.2 L938.7 281.2 L932.1 271.7 Z" fill="url(#ga3_15)"/>
<path d="M737.4 413.2 L933.4 273.4 L926.4 264.2 Z" fill="url(#ga3_16)"/>
<path d="M737.4 413.2 L927.7 265.8 L920.4 256.9 Z" fill="url(#ga3_17)"/>
<path d="M737.4 413.2 L921.8 258.5 L914.2 249.8 Z" fill="url(#ga3_18)"/>
<path d="M737.4 413.2 L915.6 251.3 L907.6 243.0 Z" fill="url(#ga3_19)"/>
<path d="M737.4 413.2 L909.1 244.5 L900.8 236.4 Z" fill="url(#ga3_20)"/>
<path d="M737.4 413.2 L902.3 237.9 L893.7 230.2 Z" fill="url(#ga3_21)"/>
<path d="M737.4 413.2 L895.3 231.5 L886.4 224.2 Z" fill="url(#ga3_22)"/>
<path d="M737.4 413.2 L888.1 225.5 L878.9 218.5 Z" fill="url(#ga3_23)"/>
<path d="M737.4 413.2 L880.6 219.7 L871.1 213.0 Z" fill="url(#ga3_24)"/>
<path d="M737.4 413.2 L872.9 214.2 L863.2 208.0 Z" fill="url(#ga3_25)"/>
<path d="M737.4 413.2 L865.0 209.1 L855.0 203.2 Z" fill="url(#ga3_26)"/>
<path d="M737.4 413.2 L856.8 204.2 L846.7 198.7 Z" fill="url(#ga3_27)"/>
<path d="M737.4 413.2 L848.6 199.7 L838.2 194.6 Z" fill="url(#ga3_28)"/>
<path d="M737.4 413.2 L840.1 195.5 L829.5 190.8 Z" fill="url(#ga3_29)"/>
<path d="M737.4 413.2 L831.5 191.6 L820.7 187.4 Z" fill="url(#ga3_30)"/>
<path d="M737.4 413.2 L822.7 188.1 L811.8 184.3 Z" fill="url(#ga3_31)"/>
<path d="M737.4 413.2 L813.8 184.9 L802.7 181.5 Z" fill="url(#ga3_32)"/>
<path d="M737.4 413.2 L804.8 182.1 L793.6 179.1 Z" fill="url(#ga3_33)"/>
<path d="M737.4 413.2 L795.6 179.6 L784.4 177.1 Z" fill="url(#ga3_34)"/>
<path d="M737.4 413.2 L786.4 177.5 L775.1 175.4 Z" fill="url(#ga3_35)"/>
<path d="M737.4 413.2 L777.1 175.8 L765.7 174.1 Z" fill="url(#ga3_36)"/>
<path d="M737.4 413.2 L767.8 174.4 L756.3 173.2 Z" fill="url(#ga3_37)"/>
<path d="M737.4 413.2 L758.4 173.4 L746.9 172.7 Z" fill="url(#ga3_38)"/>
<path d="M737.4 413.2 L748.9 172.8 L699.7 175.4 Z" fill="url(#ga3_39)"/></g></g>
<clipPath id="cpa4"><path d="M994.3 192.0 A221.6 221.2 0 0 1 1215.9 413.2 L1068.0 413.2 A73.7 73.4 0 0 0 994.3 339.8 Z"/></clipPath>
<defs><radialGradient id="ga4_0" cx="994.3" cy="413.2" r="236" gradientUnits="userSpaceOnUse"><stop offset="0.311" stop-color="#830000"/><stop offset="0.939" stop-color="#880000"/></radialGradient>
<radialGradient id="ga4_1" cx="994.3" cy="413.2" r="236" gradientUnits="userSpaceOnUse"><stop offset="0.311" stop-color="#830000"/><stop offset="0.939" stop-color="#880000"/></radialGradient>
<radialGradient id="ga4_2" cx="994.3" cy="413.2" r="236" gradientUnits="userSpaceOnUse"><stop offset="0.311" stop-color="#830000"/><stop offset="0.939" stop-color="#870000"/></radialGradient>
<radialGradient id="ga4_3" cx="994.3" cy="413.2" r="236" gradientUnits="userSpaceOnUse"><stop offset="0.311" stop-color="#830000"/><stop offset="0.939" stop-color="#870000"/></radialGradient>
<radialGradient id="ga4_4" cx="994.3" cy="413.2" r="236" gradientUnits="userSpaceOnUse"><stop offset="0.311" stop-color="#830000"/><stop offset="0.939" stop-color="#870000"/></radialGradient>
<radialGradient id="ga4_5" cx="994.3" cy="413.2" r="236" gradientUnits="userSpaceOnUse"><stop offset="0.311" stop-color="#830000"/><stop offset="0.939" stop-color="#870000"/></radialGradient>
<radialGradient id="ga4_6" cx="994.3" cy="413.2" r="236" gradientUnits="userSpaceOnUse"><stop offset="0.311" stop-color="#830000"/><stop offset="0.939" stop-color="#870000"/></radialGradient>
<radialGradient id="ga4_7" cx="994.3" cy="413.2" r="236" gradientUnits="userSpaceOnUse"><stop offset="0.311" stop-color="#830000"/><stop offset="0.939" stop-color="#870000"/></radialGradient>
<radialGradient id="ga4_8" cx="994.3" cy="413.2" r="236" gradientUnits="userSpaceOnUse"><stop offset="0.311" stop-color="#830000"/><stop offset="0.939" stop-color="#860000"/></radialGradient>
<radialGradient id="ga4_9" cx="994.3" cy="413.2" r="236" gradientUnits="userSpaceOnUse"><stop offset="0.311" stop-color="#830000"/><stop offset="0.939" stop-color="#860000"/></radialGradient>
<radialGradient id="ga4_10" cx="994.3" cy="413.2" r="236" gradientUnits="userSpaceOnUse"><stop offset="0.311" stop-color="#830000"/><stop offset="0.939" stop-color="#860000"/></radialGradient>
<radialGradient id="ga4_11" cx="994.3" cy="413.2" r="236" gradientUnits="userSpaceOnUse"><stop offset="0.311" stop-color="#830000"/><stop offset="0.939" stop-color="#860000"/></radialGradient>
<radialGradient id="ga4_12" cx="994.3" cy="413.2" r="236" gradientUnits="userSpaceOnUse"><stop offset="0.311" stop-color="#830000"/><stop offset="0.939" stop-color="#860000"/></radialGradient>
<radialGradient id="ga4_13" cx="994.3" cy="413.2" r="236" gradientUnits="userSpaceOnUse"><stop offset="0.311" stop-color="#830000"/><stop offset="0.939" stop-color="#860000"/></radialGradient>
<radialGradient id="ga4_14" cx="994.3" cy="413.2" r="236" gradientUnits="userSpaceOnUse"><stop offset="0.311" stop-color="#820000"/><stop offset="0.939" stop-color="#850000"/></radialGradient>
<radialGradient id="ga4_15" cx="994.3" cy="413.2" r="236" gradientUnits="userSpaceOnUse"><stop offset="0.311" stop-color="#820000"/><stop offset="0.939" stop-color="#850000"/></radialGradient>
<radialGradient id="ga4_16" cx="994.3" cy="413.2" r="236" gradientUnits="userSpaceOnUse"><stop offset="0.311" stop-color="#820000"/><stop offset="0.939" stop-color="#850000"/></radialGradient>
<radialGradient id="ga4_17" cx="994.3" cy="413.2" r="236" gradientUnits="userSpaceOnUse"><stop offset="0.311" stop-color="#820000"/><stop offset="0.939" stop-color="#850000"/></radialGradient>
<radialGradient id="ga4_18" cx="994.3" cy="413.2" r="236" gradientUnits="userSpaceOnUse"><stop offset="0.311" stop-color="#820000"/><stop offset="0.939" stop-color="#850000"/></radialGradient>
<radialGradient id="ga4_19" cx="994.3" cy="413.2" r="236" gradientUnits="userSpaceOnUse"><stop offset="0.311" stop-color="#820000"/><stop offset="0.939" stop-color="#850000"/></radialGradient>
<radialGradient id="ga4_20" cx="994.3" cy="413.2" r="236" gradientUnits="userSpaceOnUse"><stop offset="0.311" stop-color="#820000"/><stop offset="0.939" stop-color="#840000"/></radialGradient>
<radialGradient id="ga4_21" cx="994.3" cy="413.2" r="236" gradientUnits="userSpaceOnUse"><stop offset="0.311" stop-color="#820000"/><stop offset="0.939" stop-color="#840000"/></radialGradient>
<radialGradient id="ga4_22" cx="994.3" cy="413.2" r="236" gradientUnits="userSpaceOnUse"><stop offset="0.311" stop-color="#820000"/><stop offset="0.939" stop-color="#840000"/></radialGradient>
<radialGradient id="ga4_23" cx="994.3" cy="413.2" r="236" gradientUnits="userSpaceOnUse"><stop offset="0.311" stop-color="#820000"/><stop offset="0.939" stop-color="#840000"/></radialGradient>
<radialGradient id="ga4_24" cx="994.3" cy="413.2" r="236" gradientUnits="userSpaceOnUse"><stop offset="0.311" stop-color="#820000"/><stop offset="0.939" stop-color="#840000"/></radialGradient>
<radialGradient id="ga4_25" cx="994.3" cy="413.2" r="236" gradientUnits="userSpaceOnUse"><stop offset="0.311" stop-color="#820000"/><stop offset="0.939" stop-color="#840000"/></radialGradient>
<radialGradient id="ga4_26" cx="994.3" cy="413.2" r="236" gradientUnits="userSpaceOnUse"><stop offset="0.311" stop-color="#820000"/><stop offset="0.939" stop-color="#830000"/></radialGradient>
<radialGradient id="ga4_27" cx="994.3" cy="413.2" r="236" gradientUnits="userSpaceOnUse"><stop offset="0.311" stop-color="#820000"/><stop offset="0.939" stop-color="#830000"/></radialGradient>
<radialGradient id="ga4_28" cx="994.3" cy="413.2" r="236" gradientUnits="userSpaceOnUse"><stop offset="0.311" stop-color="#820000"/><stop offset="0.939" stop-color="#830000"/></radialGradient>
<radialGradient id="ga4_29" cx="994.3" cy="413.2" r="236" gradientUnits="userSpaceOnUse"><stop offset="0.311" stop-color="#820000"/><stop offset="0.939" stop-color="#830000"/></radialGradient>
<radialGradient id="ga4_30" cx="994.3" cy="413.2" r="236" gradientUnits="userSpaceOnUse"><stop offset="0.311" stop-color="#820000"/><stop offset="0.939" stop-color="#830000"/></radialGradient>
<radialGradient id="ga4_31" cx="994.3" cy="413.2" r="236" gradientUnits="userSpaceOnUse"><stop offset="0.311" stop-color="#810000"/><stop offset="0.939" stop-color="#820000"/></radialGradient>
<radialGradient id="ga4_32" cx="994.3" cy="413.2" r="236" gradientUnits="userSpaceOnUse"><stop offset="0.311" stop-color="#810000"/><stop offset="0.939" stop-color="#820000"/></radialGradient>
<radialGradient id="ga4_33" cx="994.3" cy="413.2" r="236" gradientUnits="userSpaceOnUse"><stop offset="0.311" stop-color="#810000"/><stop offset="0.939" stop-color="#820000"/></radialGradient>
<radialGradient id="ga4_34" cx="994.3" cy="413.2" r="236" gradientUnits="userSpaceOnUse"><stop offset="0.311" stop-color="#810000"/><stop offset="0.939" stop-color="#820000"/></radialGradient>
<radialGradient id="ga4_35" cx="994.3" cy="413.2" r="236" gradientUnits="userSpaceOnUse"><stop offset="0.311" stop-color="#810000"/><stop offset="0.939" stop-color="#820000"/></radialGradient>
<radialGradient id="ga4_36" cx="994.3" cy="413.2" r="236" gradientUnits="userSpaceOnUse"><stop offset="0.311" stop-color="#810000"/><stop offset="0.939" stop-color="#820000"/></radialGradient></defs>
<g clip-path="url(#cpa4)"><g filter="url(#fblur)"><path d="M994.3 413.2 L1232.1 450.9 L1234.8 403.7 Z" fill="url(#ga4_0)"/>
<path d="M994.3 413.2 L1234.9 405.8 L1234.3 394.3 Z" fill="url(#ga4_1)"/>
<path d="M994.3 413.2 L1234.4 396.4 L1233.4 384.9 Z" fill="url(#ga4_2)"/>
<path d="M994.3 413.2 L1233.6 387.0 L1232.1 375.5 Z" fill="url(#ga4_3)"/>
<path d="M994.3 413.2 L1232.4 377.6 L1230.4 366.2 Z" fill="url(#ga4_4)"/>
<path d="M994.3 413.2 L1230.8 368.3 L1228.4 357.0 Z" fill="url(#ga4_5)"/>
<path d="M994.3 413.2 L1228.9 359.0 L1226.0 347.9 Z" fill="url(#ga4_6)"/>
<path d="M994.3 413.2 L1226.5 349.9 L1223.2 338.8 Z" fill="url(#ga4_7)"/>
<path d="M994.3 413.2 L1223.9 340.8 L1220.1 329.9 Z" fill="url(#ga4_8)"/>
<path d="M994.3 413.2 L1220.9 331.9 L1216.7 321.1 Z" fill="url(#ga4_9)"/>
<path d="M994.3 413.2 L1217.5 323.0 L1212.9 312.4 Z" fill="url(#ga4_10)"/>
<path d="M994.3 413.2 L1213.8 314.3 L1208.8 303.9 Z" fill="url(#ga4_11)"/>
<path d="M994.3 413.2 L1209.7 305.8 L1204.3 295.6 Z" fill="url(#ga4_12)"/>
<path d="M994.3 413.2 L1205.3 297.4 L1199.5 287.4 Z" fill="url(#ga4_13)"/>
<path d="M994.3 413.2 L1200.6 289.2 L1194.5 279.5 Z" fill="url(#ga4_14)"/>
<path d="M994.3 413.2 L1195.6 281.2 L1189.0 271.7 Z" fill="url(#ga4_15)"/>
<path d="M994.3 413.2 L1190.3 273.4 L1183.3 264.2 Z" fill="url(#ga4_16)"/>
<path d="M994.3 413.2 L1184.6 265.8 L1177.3 256.9 Z" fill="url(#ga4_17)"/>
<path d="M994.3 413.2 L1178.7 258.5 L1171.1 249.8 Z" fill="url(#ga4_18)"/>
<path d="M994.3 413.2 L1172.5 251.3 L1164.5 243.0 Z" fill="url(#ga4_19)"/>
<path d="M994.3 413.2 L1166.0 244.5 L1157.7 236.4 Z" fill="url(#ga4_20)"/>
<path d="M994.3 413.2 L1159.2 237.9 L1150.6 230.2 Z" fill="url(#ga4_21)"/>
<path d="M994.3 413.2 L1152.2 231.5 L1143.3 224.2 Z" fill="url(#ga4_22)"/>
<path d="M994.3 413.2 L1145.0 225.5 L1135.8 218.5 Z" fill="url(#ga4_23)"/>
<path d="M994.3 413.2 L1137.5 219.7 L1128.0 213.0 Z" fill="url(#ga4_24)"/>
<path d="M994.3 413.2 L1129.8 214.2 L1120.1 208.0 Z" fill="url(#ga4_25)"/>
<path d="M994.3 413.2 L1121.9 209.1 L1111.9 203.2 Z" fill="url(#ga4_26)"/>
<path d="M994.3 413.2 L1113.7 204.2 L1103.6 198.7 Z" fill="url(#ga4_27)"/>
<path d="M994.3 413.2 L1105.5 199.7 L1095.1 194.6 Z" fill="url(#ga4_28)"/>
<path d="M994.3 413.2 L1097.0 195.5 L1086.4 190.8 Z" fill="url(#ga4_29)"/>
<path d="M994.3 413.2 L1088.4 191.6 L1077.6 187.4 Z" fill="url(#ga4_30)"/>
<path d="M994.3 413.2 L1079.6 188.1 L1068.7 184.3 Z" fill="url(#ga4_31)"/>
<path d="M994.3 413.2 L1070.7 184.9 L1059.6 181.5 Z" fill="url(#ga4_32)"/>
<path d="M994.3 413.2 L1061.7 182.1 L1050.5 179.1 Z" fill="url(#ga4_33)"/>
<path d="M994.3 413.2 L1052.5 179.6 L1041.3 177.1 Z" fill="url(#ga4_34)"/>
<path d="M994.3 413.2 L1043.3 177.5 L1032.0 175.4 Z" fill="url(#ga4_35)"/>
<path d="M994.3 413.2 L1034.0 175.8 L1022.6 174.1 Z" fill="url(#ga4_36)"/>
<path d="M994.3 413.2 L1024.7 174.4 L1013.2 173.2 Z" fill="#810000"/>
<path d="M994.3 413.2 L1015.3 173.4 L1003.8 172.7 Z" fill="#810000"/>
<path d="M994.3 413.2 L1005.8 172.8 L956.6 175.4 Z" fill="#810000"/></g></g>
<clipPath id="cpb1"><path d="M222.0 500.4 A221.6 220.9 0 0 1 443.6 721.3 L295.7 721.3 A73.7 73.4 0 0 0 222.0 647.9 Z"/></clipPath>
<defs><radialGradient id="gb1_0" cx="222.0" cy="721.3" r="236" gradientUnits="userSpaceOnUse"><stop offset="0.311" stop-color="#292bb4"/><stop offset="0.362" stop-color="#24249e"/><stop offset="0.439" stop-color="#212191"/><stop offset="0.820" stop-color="#21218f"/><stop offset="0.939" stop-color="#21218f"/></radialGradient>
<radialGradient id="gb1_1" cx="222.0" cy="721.3" r="236" gradientUnits="userSpaceOnUse"><stop offset="0.311" stop-color="#292ab4"/><stop offset="0.362" stop-color="#24249e"/><stop offset="0.439" stop-color="#212191"/><stop offset="0.879" stop-color="#21218f"/><stop offset="0.939" stop-color="#21218f"/></radialGradient>
<radialGradient id="gb1_2" cx="222.0" cy="721.3" r="236" gradientUnits="userSpaceOnUse"><stop offset="0.311" stop-color="#292ab3"/><stop offset="0.362" stop-color="#24249d"/><stop offset="0.439" stop-color="#212191"/><stop offset="0.939" stop-color="#21218f"/></radialGradient>
<radialGradient id="gb1_3" cx="222.0" cy="721.3" r="236" gradientUnits="userSpaceOnUse"><stop offset="0.311" stop-color="#292ab2"/><stop offset="0.362" stop-color="#24249d"/><stop offset="0.439" stop-color="#212191"/><stop offset="0.939" stop-color="#21218f"/></radialGradient>
<radialGradient id="gb1_4" cx="222.0" cy="721.3" r="236" gradientUnits="userSpaceOnUse"><stop offset="0.311" stop-color="#2829b1"/><stop offset="0.362" stop-color="#24249d"/><stop offset="0.439" stop-color="#212191"/><stop offset="0.939" stop-color="#21218f"/></radialGradient>
<radialGradient id="gb1_5" cx="222.0" cy="721.3" r="236" gradientUnits="userSpaceOnUse"><stop offset="0.311" stop-color="#2829b0"/><stop offset="0.362" stop-color="#24249d"/><stop offset="0.439" stop-color="#212191"/><stop offset="0.939" stop-color="#21218f"/></radialGradient>
<radialGradient id="gb1_6" cx="222.0" cy="721.3" r="236" gradientUnits="userSpaceOnUse"><stop offset="0.311" stop-color="#2829af"/><stop offset="0.345" stop-color="#2525a3"/><stop offset="0.379" stop-color="#232398"/><stop offset="0.464" stop-color="#21218f"/><stop offset="0.939" stop-color="#21218f"/></radialGradient>
<radialGradient id="gb1_7" cx="222.0" cy="721.3" r="236" gradientUnits="userSpaceOnUse"><stop offset="0.311" stop-color="#2828ae"/><stop offset="0.345" stop-color="#2525a3"/><stop offset="0.379" stop-color="#232398"/><stop offset="0.464" stop-color="#21218f"/><stop offset="0.939" stop-color="#21218f"/></radialGradient>
<radialGradient id="gb1_8" cx="222.0" cy="721.3" r="236" gradientUnits="userSpaceOnUse"><stop offset="0.311" stop-color="#2728ad"/><stop offset="0.345" stop-color="#2525a2"/><stop offset="0.379" stop-color="#232398"/><stop offset="0.464" stop-color="#21218f"/><stop offset="0.939" stop-color="#21218f"/></radialGradient>
<radialGradient id="gb1_9" cx="222.0" cy="721.3" r="236" gradientUnits="userSpaceOnUse"><stop offset="0.311" stop-color="#2728ac"/><stop offset="0.379" stop-color="#232398"/><stop offset="0.464" stop-color="#21218f"/><stop offset="0.939" stop-color="#21218f"/></radialGradient>
<radialGradient id="gb1_10" cx="222.0" cy="721.3" r="236" gradientUnits="userSpaceOnUse"><stop offset="0.311" stop-color="#2727ab"/><stop offset="0.379" stop-color="#232397"/><stop offset="0.464" stop-color="#21218f"/><stop offset="0.939" stop-color="#21218f"/></radialGradient>
<radialGradient id="gb1_11" cx="222.0" cy="721.3" r="236" gradientUnits="userSpaceOnUse"><stop offset="0.311" stop-color="#2727aa"/><stop offset="0.379" stop-color="#232397"/><stop offset="0.464" stop-color="#21218f"/><stop offset="0.939" stop-color="#21218f"/></radialGradient>
<radialGradient id="gb1_12" cx="222.0" cy="721.3" r="236" gradientUnits="userSpaceOnUse"><stop offset="0.311" stop-color="#2626a9"/><stop offset="0.379" stop-color="#232397"/><stop offset="0.464" stop-color="#21218f"/><stop offset="0.939" stop-color="#21218f"/></radialGradient>
<radialGradient id="gb1_13" cx="222.0" cy="721.3" r="236" gradientUnits="userSpaceOnUse"><stop offset="0.311" stop-color="#2626a8"/><stop offset="0.379" stop-color="#222296"/><stop offset="0.464" stop-color="#21218f"/><stop offset="0.939" stop-color="#21218f"/></radialGradient>
<radialGradient id="gb1_14" cx="222.0" cy="721.3" r="236" gradientUnits="userSpaceOnUse"><stop offset="0.311" stop-color="#2626a7"/><stop offset="0.396" stop-color="#222294"/><stop offset="0.523" stop-color="#21218f"/><stop offset="0.939" stop-color="#21218f"/></radialGradient>
<radialGradient id="gb1_15" cx="222.0" cy="721.3" r="236" gradientUnits="userSpaceOnUse"><stop offset="0.311" stop-color="#2626a6"/><stop offset="0.396" stop-color="#222293"/><stop offset="0.523" stop-color="#21218f"/><stop offset="0.939" stop-color="#21218f"/></radialGradient>
<radialGradient id="gb1_16" cx="222.0" cy="721.3" r="236" gradientUnits="userSpaceOnUse"><stop offset="0.311" stop-color="#2525a5"/><stop offset="0.396" stop-color="#222293"/><stop offset="0.523" stop-color="#21218f"/><stop offset="0.939" stop-color="#21218f"/></radialGradient>
<radialGradient id="gb1_17" cx="222.0" cy="721.3" r="236" gradientUnits="userSpaceOnUse"><stop offset="0.311" stop-color="#2525a4"/><stop offset="0.396" stop-color="#222292"/><stop offset="0.557" stop-color="#21218f"/><stop offset="0.939" stop-color="#21218f"/></radialGradient>
<radialGradient id="gb1_18" cx="222.0" cy="721.3" r="236" gradientUnits="userSpaceOnUse"><stop offset="0.311" stop-color="#2525a2"/><stop offset="0.396" stop-color="#222292"/><stop offset="0.672" stop-color="#21218f"/><stop offset="0.939" stop-color="#21218f"/></radialGradient>
<radialGradient id="gb1_19" cx="222.0" cy="721.3" r="236" gradientUnits="userSpaceOnUse"><stop offset="0.311" stop-color="#2525a1"/><stop offset="0.396" stop-color="#212191"/><stop offset="0.939" stop-color="#21218f"/></radialGradient>
<radialGradient id="gb1_20" cx="222.0" cy="721.3" r="236" gradientUnits="userSpaceOnUse"><stop offset="0.311" stop-color="#2424a0"/><stop offset="0.396" stop-color="#212191"/><stop offset="0.939" stop-color="#21218f"/></radialGradient>
<radialGradient id="gb1_21" cx="222.0" cy="721.3" r="236" gradientUnits="userSpaceOnUse"><stop offset="0.311" stop-color="#24249f"/><stop offset="0.396" stop-color="#212190"/><stop offset="0.939" stop-color="#21218f"/></radialGradient>
<radialGradient id="gb1_22" cx="222.0" cy="721.3" r="236" gradientUnits="userSpaceOnUse"><stop offset="0.311" stop-color="#24249d"/><stop offset="0.396" stop-color="#212190"/><stop offset="0.939" stop-color="#21218f"/></radialGradient>
<radialGradient id="gb1_23" cx="222.0" cy="721.3" r="236" gradientUnits="userSpaceOnUse"><stop offset="0.311" stop-color="#24249c"/><stop offset="0.396" stop-color="#212190"/><stop offset="0.939" stop-color="#21218f"/></radialGradient>
<radialGradient id="gb1_24" cx="222.0" cy="721.3" r="236" gradientUnits="userSpaceOnUse"><stop offset="0.311" stop-color="#23239b"/><stop offset="0.396" stop-color="#21218f"/><stop offset="0.939" stop-color="#21218f"/></radialGradient>
<radialGradient id="gb1_25" cx="222.0" cy="721.3" r="236" gradientUnits="userSpaceOnUse"><stop offset="0.311" stop-color="#23239a"/><stop offset="0.396" stop-color="#21218f"/><stop offset="0.939" stop-color="#21218f"/></radialGradient>
<radialGradient id="gb1_26" cx="222.0" cy="721.3" r="236" gradientUnits="userSpaceOnUse"><stop offset="0.311" stop-color="#232399"/><stop offset="0.396" stop-color="#21218f"/><stop offset="0.939" stop-color="#21218f"/></radialGradient>
<radialGradient id="gb1_27" cx="222.0" cy="721.3" r="236" gradientUnits="userSpaceOnUse"><stop offset="0.311" stop-color="#232398"/><stop offset="0.396" stop-color="#21218f"/><stop offset="0.939" stop-color="#21218f"/></radialGradient>
<radialGradient id="gb1_28" cx="222.0" cy="721.3" r="236" gradientUnits="userSpaceOnUse"><stop offset="0.311" stop-color="#232397"/><stop offset="0.396" stop-color="#21218f"/><stop offset="0.939" stop-color="#21218f"/></radialGradient>
<radialGradient id="gb1_29" cx="222.0" cy="721.3" r="236" gradientUnits="userSpaceOnUse"><stop offset="0.311" stop-color="#232397"/><stop offset="0.396" stop-color="#21218f"/><stop offset="0.939" stop-color="#21218f"/></radialGradient>
<radialGradient id="gb1_30" cx="222.0" cy="721.3" r="236" gradientUnits="userSpaceOnUse"><stop offset="0.311" stop-color="#222296"/><stop offset="0.417" stop-color="#21218f"/><stop offset="0.939" stop-color="#21218f"/></radialGradient>
<radialGradient id="gb1_31" cx="222.0" cy="721.3" r="236" gradientUnits="userSpaceOnUse"><stop offset="0.311" stop-color="#222295"/><stop offset="0.417" stop-color="#21218f"/><stop offset="0.939" stop-color="#21218f"/></radialGradient>
<radialGradient id="gb1_32" cx="222.0" cy="721.3" r="236" gradientUnits="userSpaceOnUse"><stop offset="0.311" stop-color="#222294"/><stop offset="0.417" stop-color="#21218f"/><stop offset="0.939" stop-color="#21218f"/></radialGradient>
<radialGradient id="gb1_33" cx="222.0" cy="721.3" r="236" gradientUnits="userSpaceOnUse"><stop offset="0.311" stop-color="#222293"/><stop offset="0.439" stop-color="#21218f"/><stop offset="0.939" stop-color="#21218f"/></radialGradient>
<radialGradient id="gb1_34" cx="222.0" cy="721.3" r="236" gradientUnits="userSpaceOnUse"><stop offset="0.311" stop-color="#222293"/><stop offset="0.464" stop-color="#21218f"/><stop offset="0.939" stop-color="#21218f"/></radialGradient>
<radialGradient id="gb1_35" cx="222.0" cy="721.3" r="236" gradientUnits="userSpaceOnUse"><stop offset="0.311" stop-color="#222292"/><stop offset="0.557" stop-color="#21218f"/><stop offset="0.939" stop-color="#21218f"/></radialGradient>
<radialGradient id="gb1_36" cx="222.0" cy="721.3" r="236" gradientUnits="userSpaceOnUse"><stop offset="0.311" stop-color="#212191"/><stop offset="0.939" stop-color="#21218f"/></radialGradient>
<radialGradient id="gb1_37" cx="222.0" cy="721.3" r="236" gradientUnits="userSpaceOnUse"><stop offset="0.311" stop-color="#212191"/><stop offset="0.939" stop-color="#21218f"/></radialGradient>
<radialGradient id="gb1_38" cx="222.0" cy="721.3" r="236" gradientUnits="userSpaceOnUse"><stop offset="0.311" stop-color="#212190"/><stop offset="0.939" stop-color="#21218f"/></radialGradient></defs>
<g clip-path="url(#cpb1)"><g filter="url(#fblur)"><path d="M222.0 721.3 L459.8 759.0 L462.5 711.8 Z" fill="url(#gb1_0)"/>
<path d="M222.0 721.3 L462.6 713.9 L462.0 702.4 Z" fill="url(#gb1_1)"/>
<path d="M222.0 721.3 L462.1 704.5 L461.1 693.0 Z" fill="url(#gb1_2)"/>
<path d="M222.0 721.3 L461.3 695.1 L459.8 683.6 Z" fill="url(#gb1_3)"/>
<path d="M222.0 721.3 L460.1 685.7 L458.1 674.3 Z" fill="url(#gb1_4)"/>
<path d="M222.0 721.3 L458.5 676.4 L456.1 665.1 Z" fill="url(#gb1_5)"/>
<path d="M222.0 721.3 L456.6 667.1 L453.7 656.0 Z" fill="url(#gb1_6)"/>
<path d="M222.0 721.3 L454.2 658.0 L450.9 646.9 Z" fill="url(#gb1_7)"/>
<path d="M222.0 721.3 L451.6 648.9 L447.8 638.0 Z" fill="url(#gb1_8)"/>
<path d="M222.0 721.3 L448.6 640.0 L444.4 629.2 Z" fill="url(#gb1_9)"/>
<path d="M222.0 721.3 L445.2 631.1 L440.6 620.5 Z" fill="url(#gb1_10)"/>
<path d="M222.0 721.3 L441.5 622.4 L436.5 612.0 Z" fill="url(#gb1_11)"/>
<path d="M222.0 721.3 L437.4 613.9 L432.0 603.7 Z" fill="url(#gb1_12)"/>
<path d="M222.0 721.3 L433.0 605.5 L427.2 595.5 Z" fill="url(#gb1_13)"/>
<path d="M222.0 721.3 L428.3 597.3 L422.2 587.6 Z" fill="url(#gb1_14)"/>
<path d="M222.0 721.3 L423.3 589.3 L416.7 579.8 Z" fill="url(#gb1_15)"/>
<path d="M222.0 721.3 L418.0 581.5 L411.0 572.3 Z" fill="url(#gb1_16)"/>
<path d="M222.0 721.3 L412.3 573.9 L405.0 565.0 Z" fill="url(#gb1_17)"/>
<path d="M222.0 721.3 L406.4 566.6 L398.8 557.9 Z" fill="url(#gb1_18)"/>
<path d="M222.0 721.3 L400.2 559.4 L392.2 551.1 Z" fill="url(#gb1_19)"/>
<path d="M222.0 721.3 L393.7 552.6 L385.4 544.5 Z" fill="url(#gb1_20)"/>
<path d="M222.0 721.3 L386.9 546.0 L378.3 538.3 Z" fill="url(#gb1_21)"/>
<path d="M222.0 721.3 L379.9 539.6 L371.0 532.3 Z" fill="url(#gb1_22)"/>
<path d="M222.0 721.3 L372.7 533.6 L363.5 526.6 Z" fill="url(#gb1_23)"/>
<path d="M222.0 721.3 L365.2 527.8 L355.7 521.1 Z" fill="url(#gb1_24)"/>
<path d="M222.0 721.3 L357.5 522.3 L347.8 516.1 Z" fill="url(#gb1_25)"/>
<path d="M222.0 721.3 L349.6 517.2 L339.6 511.3 Z" fill="url(#gb1_26)"/>
<path d="M222.0 721.3 L341.4 512.3 L331.3 506.8 Z" fill="url(#gb1_27)"/>
<path d="M222.0 721.3 L333.2 507.8 L322.8 502.7 Z" fill="url(#gb1_28)"/>
<path d="M222.0 721.3 L324.7 503.6 L314.1 498.9 Z" fill="url(#gb1_29)"/>
<path d="M222.0 721.3 L316.1 499.7 L305.3 495.5 Z" fill="url(#gb1_30)"/>
<path d="M222.0 721.3 L307.3 496.2 L296.4 492.4 Z" fill="url(#gb1_31)"/>
<path d="M222.0 721.3 L298.4 493.0 L287.3 489.6 Z" fill="url(#gb1_32)"/>
<path d="M222.0 721.3 L289.4 490.2 L278.2 487.2 Z" fill="url(#gb1_33)"/>
<path d="M222.0 721.3 L280.2 487.7 L269.0 485.2 Z" fill="url(#gb1_34)"/>
<path d="M222.0 721.3 L271.0 485.6 L259.7 483.5 Z" fill="url(#gb1_35)"/>
<path d="M222.0 721.3 L261.7 483.9 L250.3 482.2 Z" fill="url(#gb1_36)"/>
<path d="M222.0 721.3 L252.4 482.5 L240.9 481.3 Z" fill="url(#gb1_37)"/>
<path d="M222.0 721.3 L243.0 481.5 L231.5 480.8 Z" fill="url(#gb1_38)"/>
<path d="M222.0 721.3 L233.5 480.9 L184.3 483.5 Z" fill="#21218f"/></g></g>
<clipPath id="cpb2"><path d="M479.5 500.4 A221.6 220.9 0 0 1 701.1 721.3 L553.2 721.3 A73.7 73.4 0 0 0 479.5 647.9 Z"/></clipPath>
<defs><radialGradient id="gb2_0" cx="479.5" cy="721.3" r="236" gradientUnits="userSpaceOnUse"><stop offset="0.311" stop-color="#3bc2e2"/><stop offset="0.328" stop-color="#38aae4"/><stop offset="0.345" stop-color="#378de3"/><stop offset="0.371" stop-color="#3672e0"/><stop offset="0.396" stop-color="#3559dc"/><stop offset="0.439" stop-color="#3443d6"/><stop offset="0.498" stop-color="#3038cd"/><stop offset="0.557" stop-color="#2c2ebe"/><stop offset="0.636" stop-color="#2728ad"/><stop offset="0.714" stop-color="#24249f"/><stop offset="0.879" stop-color="#212191"/><stop offset="0.939" stop-color="#21218f"/></radialGradient>
<radialGradient id="gb2_1" cx="479.5" cy="721.3" r="236" gradientUnits="userSpaceOnUse"><stop offset="0.311" stop-color="#3bc2e2"/><stop offset="0.328" stop-color="#38aae4"/><stop offset="0.345" stop-color="#378de3"/><stop offset="0.371" stop-color="#3672e0"/><stop offset="0.396" stop-color="#3559dc"/><stop offset="0.439" stop-color="#3443d6"/><stop offset="0.498" stop-color="#3038cd"/><stop offset="0.557" stop-color="#2c2ebe"/><stop offset="0.636" stop-color="#2728ad"/><stop offset="0.714" stop-color="#24249f"/><stop offset="0.879" stop-color="#212191"/><stop offset="0.939" stop-color="#21218f"/></radialGradient>
<radialGradient id="gb2_2" cx="479.5" cy="721.3" r="236" gradientUnits="userSpaceOnUse"><stop offset="0.311" stop-color="#3bc2e2"/><stop offset="0.328" stop-color="#38aae4"/><stop offset="0.345" stop-color="#378de3"/><stop offset="0.371" stop-color="#3672e0"/><stop offset="0.396" stop-color="#3559dc"/><stop offset="0.439" stop-color="#3443d6"/><stop offset="0.498" stop-color="#3038cd"/><stop offset="0.557" stop-color="#2c2ebe"/><stop offset="0.636" stop-color="#2728ad"/><stop offset="0.714" stop-color="#24249f"/><stop offset="0.879" stop-color="#212191"/><stop offset="0.939" stop-color="#21218f"/></radialGradient>
<radialGradient id="gb2_3" cx="479.5" cy="721.3" r="236" gradientUnits="userSpaceOnUse"><stop offset="0.311" stop-color="#3bc2e2"/><stop offset="0.328" stop-color="#38aae4"/><stop offset="0.345" stop-color="#378de3"/><stop offset="0.371" stop-color="#3672e0"/><stop offset="0.396" stop-color="#3559dc"/><stop offset="0.439" stop-color="#3443d6"/><stop offset="0.498" stop-color="#3038cd"/><stop offset="0.557" stop-color="#2c2ebe"/><stop offset="0.636" stop-color="#2728ad"/><stop offset="0.714" stop-color="#24249f"/><stop offset="0.879" stop-color="#212191"/><stop offset="0.939" stop-color="#21218f"/></radialGradient>
<radialGradient id="gb2_4" cx="479.5" cy="721.3" r="236" gradientUnits="userSpaceOnUse"><stop offset="0.311" stop-color="#3bc2e2"/><stop offset="0.328" stop-color="#38aae4"/><stop offset="0.345" stop-color="#378de3"/><stop offset="0.371" stop-color="#3672e0"/><stop offset="0.396" stop-color="#3559dc"/><stop offset="0.439" stop-color="#3443d6"/><stop offset="0.498" stop-color="#3038cd"/><stop offset="0.557" stop-color="#2c2ebe"/><stop offset="0.636" stop-color="#2728ad"/><stop offset="0.714" stop-color="#24249f"/><stop offset="0.879" stop-color="#212191"/><stop offset="0.939" stop-color="#21218f"/></radialGradient>
<radialGradient id="gb2_5" cx="479.5" cy="721.3" r="236" gradientUnits="userSpaceOnUse"><stop offset="0.311" stop-color="#3bc2e2"/><stop offset="0.328" stop-color="#38aae4"/><stop offset="0.345" stop-color="#378de3"/><stop offset="0.371" stop-color="#3672e0"/><stop offset="0.396" stop-color="#3559dc"/><stop offset="0.439" stop-color="#3443d6"/><stop offset="0.498" stop-color="#3038cd"/><stop offset="0.557" stop-color="#2c2ebe"/><stop offset="0.636" stop-color="#2728ad"/><stop offset="0.714" stop-color="#24249f"/><stop offset="0.879" stop-color="#212191"/><stop offset="0.939" stop-color="#21218f"/></radialGradient>
<radialGradient id="gb2_6" cx="479.5" cy="721.3" r="236" gradientUnits="userSpaceOnUse"><stop offset="0.311" stop-color="#3bc2e2"/><stop offset="0.328" stop-color="#38aae4"/><stop offset="0.345" stop-color="#378de3"/><stop offset="0.371" stop-color="#3672e0"/><stop offset="0.396" stop-color="#3559dc"/><stop offset="0.439" stop-color="#3443d6"/><stop offset="0.498" stop-color="#3038cd"/><stop offset="0.557" stop-color="#2c2ebe"/><stop offset="0.636" stop-color="#2728ad"/><stop offset="0.714" stop-color="#24249f"/><stop offset="0.879" stop-color="#212191"/><stop offset="0.939" stop-color="#21218f"/></radialGradient>
<radialGradient id="gb2_7" cx="479.5" cy="721.3" r="236" gradientUnits="userSpaceOnUse"><stop offset="0.311" stop-color="#3bc1e2"/><stop offset="0.328" stop-color="#38a9e4"/><stop offset="0.345" stop-color="#378de3"/><stop offset="0.371" stop-color="#3672e0"/><stop offset="0.396" stop-color="#3559dc"/><stop offset="0.439" stop-color="#3443d6"/><stop offset="0.498" stop-color="#3038cd"/><stop offset="0.557" stop-color="#2b2ebe"/><stop offset="0.636" stop-color="#2728ad"/><stop offset="0.714" stop-color="#24249f"/><stop offset="0.879" stop-color="#212191"/><stop offset="0.939" stop-color="#21218f"/></radialGradient>
<radialGradient id="gb2_8" cx="479.5" cy="721.3" r="236" gradientUnits="userSpaceOnUse"><stop offset="0.311" stop-color="#3bc1e2"/><stop offset="0.328" stop-color="#38a9e4"/><stop offset="0.345" stop-color="#378de3"/><stop offset="0.371" stop-color="#3671e0"/><stop offset="0.396" stop-color="#3559dc"/><stop offset="0.439" stop-color="#3443d6"/><stop offset="0.498" stop-color="#3038cd"/><stop offset="0.557" stop-color="#2b2ebe"/><stop offset="0.636" stop-color="#2728ad"/><stop offset="0.714" stop-color="#24249f"/><stop offset="0.879" stop-color="#212191"/><stop offset="0.939" stop-color="#21218f"/></radialGradient>
<radialGradient id="gb2_9" cx="479.5" cy="721.3" r="236" gradientUnits="userSpaceOnUse"><stop offset="0.311" stop-color="#3bc0e2"/><stop offset="0.328" stop-color="#38a8e4"/><stop offset="0.345" stop-color="#378ce3"/><stop offset="0.371" stop-color="#3670e0"/><stop offset="0.396" stop-color="#3558dc"/><stop offset="0.439" stop-color="#3443d6"/><stop offset="0.498" stop-color="#3037cd"/><stop offset="0.557" stop-color="#2b2ebd"/><stop offset="0.636" stop-color="#2728ac"/><stop offset="0.714" stop-color="#24249e"/><stop offset="0.879" stop-color="#212191"/><stop offset="0.939" stop-color="#21218f"/></radialGradient>
<radialGradient id="gb2_10" cx="479.5" cy="721.3" r="236" gradientUnits="userSpaceOnUse"><stop offset="0.311" stop-color="#3bbfe3"/><stop offset="0.328" stop-color="#38a7e4"/><stop offset="0.345" stop-color="#368ae2"/><stop offset="0.371" stop-color="#366fe0"/><stop offset="0.396" stop-color="#3558dc"/><stop offset="0.439" stop-color="#3443d6"/><stop offset="0.498" stop-color="#3037cc"/><stop offset="0.557" stop-color="#2b2ebd"/><stop offset="0.614" stop-color="#2829b0"/><stop offset="0.672" stop-color="#2525a4"/><stop offset="0.820" stop-color="#222294"/><stop offset="0.939" stop-color="#21218f"/></radialGradient>
<radialGradient id="gb2_11" cx="479.5" cy="721.3" r="236" gradientUnits="userSpaceOnUse"><stop offset="0.311" stop-color="#3bbee3"/><stop offset="0.328" stop-color="#38a5e4"/><stop offset="0.345" stop-color="#3689e2"/><stop offset="0.371" stop-color="#366ee0"/><stop offset="0.396" stop-color="#3557dc"/><stop offset="0.439" stop-color="#3342d6"/><stop offset="0.498" stop-color="#3037cc"/><stop offset="0.557" stop-color="#2b2dbc"/><stop offset="0.614" stop-color="#2829af"/><stop offset="0.672" stop-color="#2525a3"/><stop offset="0.820" stop-color="#222294"/><stop offset="0.939" stop-color="#21218f"/></radialGradient>
<radialGradient id="gb2_12" cx="479.5" cy="721.3" r="236" gradientUnits="userSpaceOnUse"><stop offset="0.311" stop-color="#3bbce3"/><stop offset="0.328" stop-color="#38a4e4"/><stop offset="0.345" stop-color="#3687e2"/><stop offset="0.371" stop-color="#366de0"/><stop offset="0.396" stop-color="#3556dc"/><stop offset="0.439" stop-color="#3342d5"/><stop offset="0.498" stop-color="#2f36cc"/><stop offset="0.557" stop-color="#2b2dbb"/><stop offset="0.614" stop-color="#2828ae"/><stop offset="0.672" stop-color="#2525a3"/><stop offset="0.820" stop-color="#222294"/><stop offset="0.939" stop-color="#21218f"/></radialGradient>
<radialGradient id="gb2_13" cx="479.5" cy="721.3" r="236" gradientUnits="userSpaceOnUse"><stop offset="0.311" stop-color="#3abbe3"/><stop offset="0.328" stop-color="#38a2e4"/><stop offset="0.345" stop-color="#3685e2"/><stop offset="0.371" stop-color="#366cdf"/><stop offset="0.396" stop-color="#3555db"/><stop offset="0.439" stop-color="#3342d5"/><stop offset="0.498" stop-color="#2f36cb"/><stop offset="0.557" stop-color="#2b2dbb"/><stop offset="0.672" stop-color="#2525a3"/><stop offset="0.820" stop-color="#222294"/><stop offset="0.939" stop-color="#21218f"/></radialGradient>
<radialGradient id="gb2_14" cx="479.5" cy="721.3" r="236" gradientUnits="userSpaceOnUse"><stop offset="0.311" stop-color="#3ab9e3"/><stop offset="0.328" stop-color="#38a0e4"/><stop offset="0.345" stop-color="#3684e2"/><stop offset="0.371" stop-color="#366bdf"/><stop offset="0.396" stop-color="#3554db"/><stop offset="0.430" stop-color="#3445d7"/><stop offset="0.464" stop-color="#313bcf"/><stop offset="0.528" stop-color="#2d31c4"/><stop offset="0.591" stop-color="#2829b1"/><stop offset="0.714" stop-color="#24249d"/><stop offset="0.879" stop-color="#212191"/><stop offset="0.939" stop-color="#21218f"/></radialGradient>
<radialGradient id="gb2_15" cx="479.5" cy="721.3" r="236" gradientUnits="userSpaceOnUse"><stop offset="0.311" stop-color="#3ab7e3"/><stop offset="0.328" stop-color="#379ee3"/><stop offset="0.345" stop-color="#3682e2"/><stop offset="0.371" stop-color="#3669df"/><stop offset="0.396" stop-color="#3553db"/><stop offset="0.430" stop-color="#3444d7"/><stop offset="0.464" stop-color="#313acf"/><stop offset="0.528" stop-color="#2d30c4"/><stop offset="0.591" stop-color="#2829b0"/><stop offset="0.714" stop-color="#24249d"/><stop offset="0.879" stop-color="#212191"/><stop offset="0.939" stop-color="#21218f"/></radialGradient>
<radialGradient id="gb2_16" cx="479.5" cy="721.3" r="236" gradientUnits="userSpaceOnUse"><stop offset="0.311" stop-color="#3ab4e3"/><stop offset="0.328" stop-color="#379be3"/><stop offset="0.345" stop-color="#3680e2"/><stop offset="0.371" stop-color="#3667df"/><stop offset="0.396" stop-color="#3552da"/><stop offset="0.430" stop-color="#3443d6"/><stop offset="0.464" stop-color="#313ace"/><stop offset="0.528" stop-color="#2d30c3"/><stop offset="0.591" stop-color="#2829b0"/><stop offset="0.714" stop-color="#24249d"/><stop offset="0.879" stop-color="#212191"/><stop offset="0.939" stop-color="#21218f"/></radialGradient>
<radialGradient id="gb2_17" cx="479.5" cy="721.3" r="236" gradientUnits="userSpaceOnUse"><stop offset="0.311" stop-color="#39b1e3"/><stop offset="0.328" stop-color="#3798e3"/><stop offset="0.345" stop-color="#367de1"/><stop offset="0.371" stop-color="#3665df"/><stop offset="0.396" stop-color="#3550da"/><stop offset="0.430" stop-color="#3443d6"/><stop offset="0.464" stop-color="#3039ce"/><stop offset="0.528" stop-color="#2c30c2"/><stop offset="0.591" stop-color="#2829af"/><stop offset="0.714" stop-color="#24249d"/><stop offset="0.879" stop-color="#212191"/><stop offset="0.939" stop-color="#21218f"/></radialGradient>
<radialGradient id="gb2_18" cx="479.5" cy="721.3" r="236" gradientUnits="userSpaceOnUse"><stop offset="0.311" stop-color="#39aee4"/><stop offset="0.328" stop-color="#3794e3"/><stop offset="0.345" stop-color="#367be1"/><stop offset="0.371" stop-color="#3663de"/><stop offset="0.396" stop-color="#354fda"/><stop offset="0.430" stop-color="#3342d5"/><stop offset="0.464" stop-color="#3038cd"/><stop offset="0.528" stop-color="#2c2fc1"/><stop offset="0.591" stop-color="#2828ae"/><stop offset="0.714" stop-color="#24249c"/><stop offset="0.879" stop-color="#212191"/><stop offset="0.939" stop-color="#21218f"/></radialGradient>
<radialGradient id="gb2_19" cx="479.5" cy="721.3" r="236" gradientUnits="userSpaceOnUse"><stop offset="0.311" stop-color="#38aae4"/><stop offset="0.328" stop-color="#3791e3"/><stop offset="0.345" stop-color="#3678e1"/><stop offset="0.371" stop-color="#3661de"/><stop offset="0.396" stop-color="#354dd9"/><stop offset="0.430" stop-color="#3341d4"/><stop offset="0.464" stop-color="#3037cd"/><stop offset="0.528" stop-color="#2c2fc0"/><stop offset="0.591" stop-color="#2728ad"/><stop offset="0.714" stop-color="#24249c"/><stop offset="0.939" stop-color="#21218f"/></radialGradient>
<radialGradient id="gb2_20" cx="479.5" cy="721.3" r="236" gradientUnits="userSpaceOnUse"><stop offset="0.311" stop-color="#38a6e4"/><stop offset="0.328" stop-color="#378de3"/><stop offset="0.345" stop-color="#3675e0"/><stop offset="0.371" stop-color="#365ede"/><stop offset="0.396" stop-color="#354bd9"/><stop offset="0.430" stop-color="#3340d3"/><stop offset="0.464" stop-color="#3037cc"/><stop offset="0.528" stop-color="#2c2ebe"/><stop offset="0.591" stop-color="#2728ad"/><stop offset="0.714" stop-color="#24249c"/><stop offset="0.939" stop-color="#21218f"/></radialGradient>
<radialGradient id="gb2_21" cx="479.5" cy="721.3" r="236" gradientUnits="userSpaceOnUse"><stop offset="0.311" stop-color="#38a0e4"/><stop offset="0.328" stop-color="#3688e2"/><stop offset="0.345" stop-color="#3672e0"/><stop offset="0.371" stop-color="#365cdd"/><stop offset="0.396" stop-color="#3449d8"/><stop offset="0.430" stop-color="#323fd2"/><stop offset="0.464" stop-color="#2f36cb"/><stop offset="0.528" stop-color="#2b2ebd"/><stop offset="0.591" stop-color="#2727ac"/><stop offset="0.769" stop-color="#232397"/><stop offset="0.939" stop-color="#21218f"/></radialGradient>
<radialGradient id="gb2_22" cx="479.5" cy="721.3" r="236" gradientUnits="userSpaceOnUse"><stop offset="0.311" stop-color="#3799e3"/><stop offset="0.328" stop-color="#3682e2"/><stop offset="0.345" stop-color="#366de0"/><stop offset="0.371" stop-color="#3659dc"/><stop offset="0.396" stop-color="#3447d8"/><stop offset="0.430" stop-color="#323dd1"/><stop offset="0.464" stop-color="#2f35ca"/><stop offset="0.528" stop-color="#2b2dbc"/><stop offset="0.591" stop-color="#2727ab"/><stop offset="0.769" stop-color="#232397"/><stop offset="0.939" stop-color="#21218f"/></radialGradient>
<radialGradient id="gb2_23" cx="479.5" cy="721.3" r="236" gradientUnits="userSpaceOnUse"><stop offset="0.311" stop-color="#3792e3"/><stop offset="0.328" stop-color="#367de1"/><stop offset="0.345" stop-color="#3669df"/><stop offset="0.371" stop-color="#3556db"/><stop offset="0.396" stop-color="#3445d7"/><stop offset="0.430" stop-color="#313cd0"/><stop offset="0.464" stop-color="#2e33c9"/><stop offset="0.528" stop-color="#2b2dba"/><stop offset="0.591" stop-color="#2727aa"/><stop offset="0.769" stop-color="#232397"/><stop offset="0.939" stop-color="#21218f"/></radialGradient>
<radialGradient id="gb2_24" cx="479.5" cy="721.3" r="236" gradientUnits="userSpaceOnUse"><stop offset="0.311" stop-color="#368be2"/><stop offset="0.337" stop-color="#3670e0"/><stop offset="0.362" stop-color="#3557dc"/><stop offset="0.390" stop-color="#3448d8"/><stop offset="0.417" stop-color="#313cd1"/><stop offset="0.456" stop-color="#2f35ca"/><stop offset="0.494" stop-color="#2c2fc0"/><stop offset="0.561" stop-color="#2829b1"/><stop offset="0.629" stop-color="#2525a4"/><stop offset="0.820" stop-color="#222294"/><stop offset="0.939" stop-color="#21218f"/></radialGradient>
<radialGradient id="gb2_25" cx="479.5" cy="721.3" r="236" gradientUnits="userSpaceOnUse"><stop offset="0.311" stop-color="#3683e2"/><stop offset="0.337" stop-color="#366adf"/><stop offset="0.362" stop-color="#3554db"/><stop offset="0.390" stop-color="#3445d7"/><stop offset="0.417" stop-color="#313bcf"/><stop offset="0.456" stop-color="#2f34c9"/><stop offset="0.494" stop-color="#2b2ebe"/><stop offset="0.561" stop-color="#2829b0"/><stop offset="0.629" stop-color="#2525a3"/><stop offset="0.820" stop-color="#222294"/><stop offset="0.939" stop-color="#21218f"/></radialGradient>
<radialGradient id="gb2_26" cx="479.5" cy="721.3" r="236" gradientUnits="userSpaceOnUse"><stop offset="0.311" stop-color="#367ce1"/><stop offset="0.337" stop-color="#3664df"/><stop offset="0.362" stop-color="#3550da"/><stop offset="0.390" stop-color="#3443d6"/><stop offset="0.417" stop-color="#3039ce"/><stop offset="0.470" stop-color="#2d31c5"/><stop offset="0.523" stop-color="#292bb5"/><stop offset="0.672" stop-color="#24249f"/><stop offset="0.939" stop-color="#21218f"/></radialGradient>
<radialGradient id="gb2_27" cx="479.5" cy="721.3" r="236" gradientUnits="userSpaceOnUse"><stop offset="0.311" stop-color="#3676e1"/><stop offset="0.337" stop-color="#365fde"/><stop offset="0.362" stop-color="#354cd9"/><stop offset="0.390" stop-color="#3341d4"/><stop offset="0.417" stop-color="#3038cd"/><stop offset="0.470" stop-color="#2d30c3"/><stop offset="0.523" stop-color="#292ab4"/><stop offset="0.672" stop-color="#24249e"/><stop offset="0.939" stop-color="#21218f"/></radialGradient>
<radialGradient id="gb2_28" cx="479.5" cy="721.3" r="236" gradientUnits="userSpaceOnUse"><stop offset="0.311" stop-color="#366fe0"/><stop offset="0.337" stop-color="#365add"/><stop offset="0.362" stop-color="#3449d8"/><stop offset="0.390" stop-color="#323fd3"/><stop offset="0.417" stop-color="#2f36cc"/><stop offset="0.470" stop-color="#2c2fc1"/><stop offset="0.523" stop-color="#292ab2"/><stop offset="0.672" stop-color="#24249e"/><stop offset="0.939" stop-color="#212190"/></radialGradient>
<radialGradient id="gb2_29" cx="479.5" cy="721.3" r="236" gradientUnits="userSpaceOnUse"><stop offset="0.311" stop-color="#3668df"/><stop offset="0.337" stop-color="#3556db"/><stop offset="0.362" stop-color="#3445d7"/><stop offset="0.390" stop-color="#323dd1"/><stop offset="0.417" stop-color="#2f35ca"/><stop offset="0.470" stop-color="#2c2fbf"/><stop offset="0.523" stop-color="#2829b1"/><stop offset="0.619" stop-color="#2525a5"/><stop offset="0.714" stop-color="#23239a"/><stop offset="0.939" stop-color="#212190"/></radialGradient>
<radialGradient id="gb2_30" cx="479.5" cy="721.3" r="236" gradientUnits="userSpaceOnUse"><stop offset="0.311" stop-color="#3661de"/><stop offset="0.337" stop-color="#3551da"/><stop offset="0.362" stop-color="#3342d5"/><stop offset="0.390" stop-color="#313bcf"/><stop offset="0.417" stop-color="#2e33c9"/><stop offset="0.470" stop-color="#2b2ebd"/><stop offset="0.523" stop-color="#2829af"/><stop offset="0.714" stop-color="#23239a"/><stop offset="0.939" stop-color="#212191"/></radialGradient>
<radialGradient id="gb2_31" cx="479.5" cy="721.3" r="236" gradientUnits="userSpaceOnUse"><stop offset="0.311" stop-color="#365bdd"/><stop offset="0.337" stop-color="#354cd9"/><stop offset="0.362" stop-color="#323fd3"/><stop offset="0.417" stop-color="#2e32c7"/><stop offset="0.523" stop-color="#2728ae"/><stop offset="0.714" stop-color="#23239a"/><stop offset="0.939" stop-color="#222292"/></radialGradient>
<radialGradient id="gb2_32" cx="479.5" cy="721.3" r="236" gradientUnits="userSpaceOnUse"><stop offset="0.311" stop-color="#3554db"/><stop offset="0.337" stop-color="#3447d8"/><stop offset="0.362" stop-color="#323dd1"/><stop offset="0.417" stop-color="#2d31c4"/><stop offset="0.487" stop-color="#292bb6"/><stop offset="0.557" stop-color="#2626a7"/><stop offset="0.769" stop-color="#232397"/><stop offset="0.939" stop-color="#222293"/></radialGradient>
<radialGradient id="gb2_33" cx="479.5" cy="721.3" r="236" gradientUnits="userSpaceOnUse"><stop offset="0.311" stop-color="#354eda"/><stop offset="0.345" stop-color="#3340d4"/><stop offset="0.379" stop-color="#2f36cb"/><stop offset="0.464" stop-color="#292bb6"/><stop offset="0.629" stop-color="#2424a0"/><stop offset="0.820" stop-color="#222295"/><stop offset="0.939" stop-color="#222294"/></radialGradient>
<radialGradient id="gb2_34" cx="479.5" cy="721.3" r="236" gradientUnits="userSpaceOnUse"><stop offset="0.311" stop-color="#3448d8"/><stop offset="0.345" stop-color="#323dd1"/><stop offset="0.379" stop-color="#2e33c9"/><stop offset="0.464" stop-color="#292ab3"/><stop offset="0.629" stop-color="#24249f"/><stop offset="0.820" stop-color="#222295"/><stop offset="0.939" stop-color="#222295"/></radialGradient>
<radialGradient id="gb2_35" cx="479.5" cy="721.3" r="236" gradientUnits="userSpaceOnUse"><stop offset="0.311" stop-color="#3342d6"/><stop offset="0.345" stop-color="#313ace"/><stop offset="0.379" stop-color="#2e31c6"/><stop offset="0.464" stop-color="#2829b1"/><stop offset="0.672" stop-color="#24249c"/><stop offset="0.820" stop-color="#222296"/><stop offset="0.939" stop-color="#222296"/></radialGradient>
<radialGradient id="gb2_36" cx="479.5" cy="721.3" r="236" gradientUnits="userSpaceOnUse"><stop offset="0.311" stop-color="#323ed2"/><stop offset="0.354" stop-color="#2f35ca"/><stop offset="0.396" stop-color="#2b2ebd"/><stop offset="0.523" stop-color="#2626a7"/><stop offset="0.714" stop-color="#23239a"/><stop offset="0.939" stop-color="#222296"/></radialGradient>
<radialGradient id="gb2_37" cx="479.5" cy="721.3" r="236" gradientUnits="userSpaceOnUse"><stop offset="0.311" stop-color="#313ace"/><stop offset="0.354" stop-color="#2e32c7"/><stop offset="0.396" stop-color="#2a2cb9"/><stop offset="0.557" stop-color="#2525a3"/><stop offset="0.769" stop-color="#232398"/><stop offset="0.939" stop-color="#232397"/></radialGradient>
<radialGradient id="gb2_38" cx="479.5" cy="721.3" r="236" gradientUnits="userSpaceOnUse"><stop offset="0.311" stop-color="#2f35cb"/><stop offset="0.364" stop-color="#2c2fbf"/><stop offset="0.417" stop-color="#2829b1"/><stop offset="0.629" stop-color="#24249d"/><stop offset="0.879" stop-color="#232398"/><stop offset="0.939" stop-color="#232398"/></radialGradient>
<radialGradient id="gb2_39" cx="479.5" cy="721.3" r="236" gradientUnits="userSpaceOnUse"><stop offset="0.311" stop-color="#2d31c6"/><stop offset="0.417" stop-color="#2728ad"/><stop offset="0.672" stop-color="#23239b"/><stop offset="0.939" stop-color="#232399"/></radialGradient></defs>
<g clip-path="url(#cpb2)"><g filter="url(#fblur)"><path d="M479.5 721.3 L717.3 759.0 L720.0 711.8 Z" fill="url(#gb2_0)"/>
<path d="M479.5 721.3 L720.1 713.9 L719.5 702.4 Z" fill="url(#gb2_1)"/>
<path d="M479.5 721.3 L719.6 704.5 L718.6 693.0 Z" fill="url(#gb2_2)"/>
<path d="M479.5 721.3 L718.8 695.1 L717.3 683.6 Z" fill="url(#gb2_3)"/>
<path d="M479.5 721.3 L717.6 685.7 L715.6 674.3 Z" fill="url(#gb2_4)"/>
<path d="M479.5 721.3 L716.0 676.4 L713.6 665.1 Z" fill="url(#gb2_5)"/>
<path d="M479.5 721.3 L714.1 667.1 L711.2 656.0 Z" fill="url(#gb2_6)"/>
<path d="M479.5 721.3 L711.7 658.0 L708.4 646.9 Z" fill="url(#gb2_7)"/>
<path d="M479.5 721.3 L709.1 648.9 L705.3 638.0 Z" fill="url(#gb2_8)"/>
<path d="M479.5 721.3 L706.1 640.0 L701.9 629.2 Z" fill="url(#gb2_9)"/>
<path d="M479.5 721.3 L702.7 631.1 L698.1 620.5 Z" fill="url(#gb2_10)"/>
<path d="M479.5 721.3 L699.0 622.4 L694.0 612.0 Z" fill="url(#gb2_11)"/>
<path d="M479.5 721.3 L694.9 613.9 L689.5 603.7 Z" fill="url(#gb2_12)"/>
<path d="M479.5 721.3 L690.5 605.5 L684.7 595.5 Z" fill="url(#gb2_13)"/>
<path d="M479.5 721.3 L685.8 597.3 L679.7 587.6 Z" fill="url(#gb2_14)"/>
<path d="M479.5 721.3 L680.8 589.3 L674.2 579.8 Z" fill="url(#gb2_15)"/>
<path d="M479.5 721.3 L675.5 581.5 L668.5 572.3 Z" fill="url(#gb2_16)"/>
<path d="M479.5 721.3 L669.8 573.9 L662.5 565.0 Z" fill="url(#gb2_17)"/>
<path d="M479.5 721.3 L663.9 566.6 L656.3 557.9 Z" fill="url(#gb2_18)"/>
<path d="M479.5 721.3 L657.7 559.4 L649.7 551.1 Z" fill="url(#gb2_19)"/>
<path d="M479.5 721.3 L651.2 552.6 L642.9 544.5 Z" fill="url(#gb2_20)"/>
<path d="M479.5 721.3 L644.4 546.0 L635.8 538.3 Z" fill="url(#gb2_21)"/>
<path d="M479.5 721.3 L637.4 539.6 L628.5 532.3 Z" fill="url(#gb2_22)"/>
<path d="M479.5 721.3 L630.2 533.6 L621.0 526.6 Z" fill="url(#gb2_23)"/>
<path d="M479.5 721.3 L622.7 527.8 L613.2 521.1 Z" fill="url(#gb2_24)"/>
<path d="M479.5 721.3 L615.0 522.3 L605.3 516.1 Z" fill="url(#gb2_25)"/>
<path d="M479.5 721.3 L607.1 517.2 L597.1 511.3 Z" fill="url(#gb2_26)"/>
<path d="M479.5 721.3 L598.9 512.3 L588.8 506.8 Z" fill="url(#gb2_27)"/>
<path d="M479.5 721.3 L590.7 507.8 L580.3 502.7 Z" fill="url(#gb2_28)"/>
<path d="M479.5 721.3 L582.2 503.6 L571.6 498.9 Z" fill="url(#gb2_29)"/>
<path d="M479.5 721.3 L573.6 499.7 L562.8 495.5 Z" fill="url(#gb2_30)"/>
<path d="M479.5 721.3 L564.8 496.2 L553.9 492.4 Z" fill="url(#gb2_31)"/>
<path d="M479.5 721.3 L555.9 493.0 L544.8 489.6 Z" fill="url(#gb2_32)"/>
<path d="M479.5 721.3 L546.9 490.2 L535.7 487.2 Z" fill="url(#gb2_33)"/>
<path d="M479.5 721.3 L537.7 487.7 L526.5 485.2 Z" fill="url(#gb2_34)"/>
<path d="M479.5 721.3 L528.5 485.6 L517.2 483.5 Z" fill="url(#gb2_35)"/>
<path d="M479.5 721.3 L519.2 483.9 L507.8 482.2 Z" fill="url(#gb2_36)"/>
<path d="M479.5 721.3 L509.9 482.5 L498.4 481.3 Z" fill="url(#gb2_37)"/>
<path d="M479.5 721.3 L500.5 481.5 L489.0 480.8 Z" fill="url(#gb2_38)"/>
<path d="M479.5 721.3 L491.0 480.9 L441.8 483.5 Z" fill="url(#gb2_39)"/></g></g>
<clipPath id="cpb3"><path d="M737.0 500.4 A221.6 220.9 0 0 1 958.6 721.3 L810.7 721.3 A73.7 73.4 0 0 0 737.0 647.9 Z"/></clipPath>
<defs><radialGradient id="gb3_0" cx="737.0" cy="721.3" r="236" gradientUnits="userSpaceOnUse"><stop offset="0.311" stop-color="#a4e255"/><stop offset="0.328" stop-color="#91e270"/><stop offset="0.345" stop-color="#7ce18b"/><stop offset="0.362" stop-color="#66e0a7"/><stop offset="0.379" stop-color="#55dcc1"/><stop offset="0.398" stop-color="#48d8d4"/><stop offset="0.417" stop-color="#42d0db"/><stop offset="0.456" stop-color="#3cc4e2"/><stop offset="0.494" stop-color="#39b1e3"/><stop offset="0.542" stop-color="#379ee3"/><stop offset="0.591" stop-color="#368ae2"/><stop offset="0.706" stop-color="#3671e0"/><stop offset="0.820" stop-color="#3659dc"/><stop offset="0.939" stop-color="#3448d8"/></radialGradient>
<radialGradient id="gb3_1" cx="737.0" cy="721.3" r="236" gradientUnits="userSpaceOnUse"><stop offset="0.311" stop-color="#a3e256"/><stop offset="0.328" stop-color="#90e271"/><stop offset="0.345" stop-color="#7be18c"/><stop offset="0.362" stop-color="#65e0a8"/><stop offset="0.379" stop-color="#54dbc2"/><stop offset="0.398" stop-color="#48d7d5"/><stop offset="0.417" stop-color="#42d0db"/><stop offset="0.456" stop-color="#3bc4e2"/><stop offset="0.494" stop-color="#39b0e3"/><stop offset="0.542" stop-color="#379ee3"/><stop offset="0.591" stop-color="#368ae2"/><stop offset="0.706" stop-color="#3670e0"/><stop offset="0.820" stop-color="#3659dc"/><stop offset="0.939" stop-color="#3448d8"/></radialGradient>
<radialGradient id="gb3_2" cx="737.0" cy="721.3" r="236" gradientUnits="userSpaceOnUse"><stop offset="0.311" stop-color="#a2e258"/><stop offset="0.328" stop-color="#8fe272"/><stop offset="0.345" stop-color="#7ae18e"/><stop offset="0.362" stop-color="#64e0a9"/><stop offset="0.379" stop-color="#54dbc3"/><stop offset="0.398" stop-color="#47d7d5"/><stop offset="0.417" stop-color="#42d0db"/><stop offset="0.456" stop-color="#3bc3e2"/><stop offset="0.494" stop-color="#39b0e4"/><stop offset="0.542" stop-color="#379de3"/><stop offset="0.591" stop-color="#3689e2"/><stop offset="0.706" stop-color="#3670e0"/><stop offset="0.820" stop-color="#3659dc"/><stop offset="0.939" stop-color="#3448d8"/></radialGradient>
<radialGradient id="gb3_3" cx="737.0" cy="721.3" r="236" gradientUnits="userSpaceOnUse"><stop offset="0.311" stop-color="#a1e25a"/><stop offset="0.334" stop-color="#87e27d"/><stop offset="0.357" stop-color="#6be0a1"/><stop offset="0.379" stop-color="#53dbc4"/><stop offset="0.398" stop-color="#47d7d5"/><stop offset="0.417" stop-color="#42cfdb"/><stop offset="0.456" stop-color="#3bc3e2"/><stop offset="0.494" stop-color="#39afe4"/><stop offset="0.542" stop-color="#379de3"/><stop offset="0.591" stop-color="#3689e2"/><stop offset="0.706" stop-color="#3670e0"/><stop offset="0.820" stop-color="#3659dc"/><stop offset="0.939" stop-color="#3448d8"/></radialGradient>
<radialGradient id="gb3_4" cx="737.0" cy="721.3" r="236" gradientUnits="userSpaceOnUse"><stop offset="0.311" stop-color="#9fe25c"/><stop offset="0.334" stop-color="#86e27f"/><stop offset="0.357" stop-color="#6ae0a3"/><stop offset="0.379" stop-color="#52dbc4"/><stop offset="0.398" stop-color="#47d7d5"/><stop offset="0.417" stop-color="#41cfdc"/><stop offset="0.456" stop-color="#3bc3e2"/><stop offset="0.494" stop-color="#39afe4"/><stop offset="0.542" stop-color="#379ce3"/><stop offset="0.591" stop-color="#3688e2"/><stop offset="0.687" stop-color="#3674e0"/><stop offset="0.783" stop-color="#3661de"/><stop offset="0.879" stop-color="#3551da"/><stop offset="0.939" stop-color="#3448d8"/></radialGradient>
<radialGradient id="gb3_5" cx="737.0" cy="721.3" r="236" gradientUnits="userSpaceOnUse"><stop offset="0.311" stop-color="#9de25f"/><stop offset="0.334" stop-color="#84e281"/><stop offset="0.357" stop-color="#68e0a4"/><stop offset="0.379" stop-color="#52dbc5"/><stop offset="0.398" stop-color="#47d6d6"/><stop offset="0.417" stop-color="#41cfdc"/><stop offset="0.456" stop-color="#3bc2e2"/><stop offset="0.494" stop-color="#39aee4"/><stop offset="0.542" stop-color="#379be3"/><stop offset="0.591" stop-color="#3688e2"/><stop offset="0.687" stop-color="#3674e0"/><stop offset="0.783" stop-color="#3661de"/><stop offset="0.879" stop-color="#3551da"/><stop offset="0.939" stop-color="#3448d8"/></radialGradient>
<radialGradient id="gb3_6" cx="737.0" cy="721.3" r="236" gradientUnits="userSpaceOnUse"><stop offset="0.311" stop-color="#9ce261"/><stop offset="0.334" stop-color="#83e283"/><stop offset="0.357" stop-color="#67e0a6"/><stop offset="0.379" stop-color="#51dbc6"/><stop offset="0.398" stop-color="#46d6d6"/><stop offset="0.417" stop-color="#41cfdc"/><stop offset="0.456" stop-color="#3bc2e2"/><stop offset="0.494" stop-color="#39aee4"/><stop offset="0.542" stop-color="#379be3"/><stop offset="0.591" stop-color="#3687e2"/><stop offset="0.687" stop-color="#3673e0"/><stop offset="0.783" stop-color="#3660de"/><stop offset="0.879" stop-color="#3551da"/><stop offset="0.939" stop-color="#3448d8"/></radialGradient>
<radialGradient id="gb3_7" cx="737.0" cy="721.3" r="236" gradientUnits="userSpaceOnUse"><stop offset="0.311" stop-color="#9ae264"/><stop offset="0.334" stop-color="#81e285"/><stop offset="0.357" stop-color="#66e0a8"/><stop offset="0.379" stop-color="#50dac7"/><stop offset="0.409" stop-color="#44d3d9"/><stop offset="0.439" stop-color="#3cc8e2"/><stop offset="0.481" stop-color="#3ab5e3"/><stop offset="0.523" stop-color="#38a0e4"/><stop offset="0.576" stop-color="#378ee3"/><stop offset="0.629" stop-color="#367ce1"/><stop offset="0.732" stop-color="#3669df"/><stop offset="0.835" stop-color="#3558dc"/><stop offset="0.939" stop-color="#3448d8"/></radialGradient>
<radialGradient id="gb3_8" cx="737.0" cy="721.3" r="236" gradientUnits="userSpaceOnUse"><stop offset="0.311" stop-color="#97e267"/><stop offset="0.334" stop-color="#7fe188"/><stop offset="0.357" stop-color="#64e0aa"/><stop offset="0.379" stop-color="#50dac8"/><stop offset="0.409" stop-color="#44d2d9"/><stop offset="0.439" stop-color="#3cc8e2"/><stop offset="0.481" stop-color="#3ab5e3"/><stop offset="0.523" stop-color="#38a0e4"/><stop offset="0.576" stop-color="#378de3"/><stop offset="0.629" stop-color="#367ce1"/><stop offset="0.732" stop-color="#3669df"/><stop offset="0.835" stop-color="#3558dc"/><stop offset="0.939" stop-color="#3448d8"/></radialGradient>
<radialGradient id="gb3_9" cx="737.0" cy="721.3" r="236" gradientUnits="userSpaceOnUse"><stop offset="0.311" stop-color="#95e26a"/><stop offset="0.334" stop-color="#7de18a"/><stop offset="0.357" stop-color="#63e0ab"/><stop offset="0.379" stop-color="#4fdac9"/><stop offset="0.409" stop-color="#44d2d9"/><stop offset="0.439" stop-color="#3cc8e2"/><stop offset="0.481" stop-color="#3ab4e3"/><stop offset="0.523" stop-color="#389fe4"/><stop offset="0.576" stop-color="#378de3"/><stop offset="0.629" stop-color="#367be1"/><stop offset="0.732" stop-color="#3668df"/><stop offset="0.835" stop-color="#3557dc"/><stop offset="0.939" stop-color="#3448d8"/></radialGradient>
<radialGradient id="gb3_10" cx="737.0" cy="721.3" r="236" gradientUnits="userSpaceOnUse"><stop offset="0.311" stop-color="#92e26e"/><stop offset="0.334" stop-color="#7ae18e"/><stop offset="0.357" stop-color="#62dfad"/><stop offset="0.379" stop-color="#4edaca"/><stop offset="0.409" stop-color="#43d2d9"/><stop offset="0.439" stop-color="#3cc8e2"/><stop offset="0.481" stop-color="#3ab4e3"/><stop offset="0.523" stop-color="#389fe4"/><stop offset="0.576" stop-color="#378de3"/><stop offset="0.629" stop-color="#367be1"/><stop offset="0.732" stop-color="#3668df"/><stop offset="0.835" stop-color="#3557dc"/><stop offset="0.939" stop-color="#3447d8"/></radialGradient>
<radialGradient id="gb3_11" cx="737.0" cy="721.3" r="236" gradientUnits="userSpaceOnUse"><stop offset="0.311" stop-color="#8fe273"/><stop offset="0.334" stop-color="#78e191"/><stop offset="0.357" stop-color="#60dfaf"/><stop offset="0.379" stop-color="#4edacc"/><stop offset="0.409" stop-color="#43d1da"/><stop offset="0.439" stop-color="#3cc7e2"/><stop offset="0.481" stop-color="#39b4e3"/><stop offset="0.523" stop-color="#389fe4"/><stop offset="0.576" stop-color="#378ce3"/><stop offset="0.629" stop-color="#367ae1"/><stop offset="0.732" stop-color="#3667df"/><stop offset="0.835" stop-color="#3556dc"/><stop offset="0.939" stop-color="#3447d8"/></radialGradient>
<radialGradient id="gb3_12" cx="737.0" cy="721.3" r="236" gradientUnits="userSpaceOnUse"><stop offset="0.311" stop-color="#8be277"/><stop offset="0.334" stop-color="#74e195"/><stop offset="0.357" stop-color="#5fdeb2"/><stop offset="0.379" stop-color="#4cd9cd"/><stop offset="0.409" stop-color="#43d1da"/><stop offset="0.439" stop-color="#3cc7e2"/><stop offset="0.481" stop-color="#39b3e3"/><stop offset="0.523" stop-color="#379ee3"/><stop offset="0.576" stop-color="#368be2"/><stop offset="0.629" stop-color="#367ae1"/><stop offset="0.732" stop-color="#3667df"/><stop offset="0.835" stop-color="#3556db"/><stop offset="0.939" stop-color="#3446d8"/></radialGradient>
<radialGradient id="gb3_13" cx="737.0" cy="721.3" r="236" gradientUnits="userSpaceOnUse"><stop offset="0.311" stop-color="#87e27d"/><stop offset="0.334" stop-color="#71e19a"/><stop offset="0.357" stop-color="#5ddeb5"/><stop offset="0.379" stop-color="#4bd9cf"/><stop offset="0.409" stop-color="#42d1db"/><stop offset="0.439" stop-color="#3cc6e2"/><stop offset="0.481" stop-color="#39b3e3"/><stop offset="0.523" stop-color="#379de3"/><stop offset="0.576" stop-color="#368be2"/><stop offset="0.629" stop-color="#3679e1"/><stop offset="0.732" stop-color="#3666df"/><stop offset="0.835" stop-color="#3555db"/><stop offset="0.939" stop-color="#3446d7"/></radialGradient>
<radialGradient id="gb3_14" cx="737.0" cy="721.3" r="236" gradientUnits="userSpaceOnUse"><stop offset="0.311" stop-color="#81e285"/><stop offset="0.334" stop-color="#6ce0a0"/><stop offset="0.357" stop-color="#59ddba"/><stop offset="0.379" stop-color="#49d8d3"/><stop offset="0.422" stop-color="#3fccde"/><stop offset="0.464" stop-color="#3ab8e3"/><stop offset="0.511" stop-color="#38a4e4"/><stop offset="0.557" stop-color="#378de3"/><stop offset="0.614" stop-color="#367de1"/><stop offset="0.672" stop-color="#366ee0"/><stop offset="0.805" stop-color="#3559dc"/><stop offset="0.939" stop-color="#3445d7"/></radialGradient>
<radialGradient id="gb3_15" cx="737.0" cy="721.3" r="236" gradientUnits="userSpaceOnUse"><stop offset="0.311" stop-color="#79e190"/><stop offset="0.340" stop-color="#61dfae"/><stop offset="0.368" stop-color="#4edacb"/><stop offset="0.396" stop-color="#43d1da"/><stop offset="0.445" stop-color="#3bc1e2"/><stop offset="0.494" stop-color="#38a8e4"/><stop offset="0.542" stop-color="#3794e3"/><stop offset="0.591" stop-color="#3680e2"/><stop offset="0.706" stop-color="#3669df"/><stop offset="0.820" stop-color="#3554db"/><stop offset="0.939" stop-color="#3445d7"/></radialGradient>
<radialGradient id="gb3_16" cx="737.0" cy="721.3" r="236" gradientUnits="userSpaceOnUse"><stop offset="0.311" stop-color="#6fe19c"/><stop offset="0.340" stop-color="#5bddb8"/><stop offset="0.368" stop-color="#49d8d2"/><stop offset="0.396" stop-color="#41cfdc"/><stop offset="0.445" stop-color="#3bbde3"/><stop offset="0.494" stop-color="#38a5e4"/><stop offset="0.542" stop-color="#3791e3"/><stop offset="0.591" stop-color="#367ee2"/><stop offset="0.706" stop-color="#3668df"/><stop offset="0.820" stop-color="#3554db"/><stop offset="0.939" stop-color="#3445d7"/></radialGradient>
<radialGradient id="gb3_17" cx="737.0" cy="721.3" r="236" gradientUnits="userSpaceOnUse"><stop offset="0.311" stop-color="#65e0a9"/><stop offset="0.340" stop-color="#54dbc2"/><stop offset="0.368" stop-color="#46d5d6"/><stop offset="0.396" stop-color="#3fccde"/><stop offset="0.445" stop-color="#3ab9e3"/><stop offset="0.494" stop-color="#38a1e4"/><stop offset="0.542" stop-color="#378ee3"/><stop offset="0.591" stop-color="#367ce1"/><stop offset="0.706" stop-color="#3666df"/><stop offset="0.820" stop-color="#3553db"/><stop offset="0.939" stop-color="#3445d7"/></radialGradient>
<radialGradient id="gb3_18" cx="737.0" cy="721.3" r="236" gradientUnits="userSpaceOnUse"><stop offset="0.311" stop-color="#5ddeb4"/><stop offset="0.340" stop-color="#4edacc"/><stop offset="0.368" stop-color="#44d2d9"/><stop offset="0.396" stop-color="#3dc9e1"/><stop offset="0.439" stop-color="#3ab8e3"/><stop offset="0.481" stop-color="#38a6e4"/><stop offset="0.523" stop-color="#3790e3"/><stop offset="0.576" stop-color="#3680e2"/><stop offset="0.629" stop-color="#3671e0"/><stop offset="0.784" stop-color="#3659dc"/><stop offset="0.939" stop-color="#3444d7"/></radialGradient>
<radialGradient id="gb3_19" cx="737.0" cy="721.3" r="236" gradientUnits="userSpaceOnUse"><stop offset="0.311" stop-color="#56dcbf"/><stop offset="0.354" stop-color="#45d3d8"/><stop offset="0.396" stop-color="#3cc6e2"/><stop offset="0.439" stop-color="#39b4e3"/><stop offset="0.481" stop-color="#38a1e4"/><stop offset="0.523" stop-color="#378ce3"/><stop offset="0.576" stop-color="#367de1"/><stop offset="0.629" stop-color="#366fe0"/><stop offset="0.784" stop-color="#3558dc"/><stop offset="0.939" stop-color="#3444d7"/></radialGradient>
<radialGradient id="gb3_20" cx="737.0" cy="721.3" r="236" gradientUnits="userSpaceOnUse"><stop offset="0.311" stop-color="#50dac7"/><stop offset="0.354" stop-color="#42d1da"/><stop offset="0.396" stop-color="#3bc1e2"/><stop offset="0.460" stop-color="#38a7e4"/><stop offset="0.523" stop-color="#3689e2"/><stop offset="0.576" stop-color="#367ae1"/><stop offset="0.629" stop-color="#366ddf"/><stop offset="0.784" stop-color="#3557dc"/><stop offset="0.939" stop-color="#3444d7"/></radialGradient>
<radialGradient id="gb3_21" cx="737.0" cy="721.3" r="236" gradientUnits="userSpaceOnUse"><stop offset="0.311" stop-color="#4bd9cf"/><stop offset="0.354" stop-color="#40cedd"/><stop offset="0.396" stop-color="#3bbce3"/><stop offset="0.460" stop-color="#38a3e4"/><stop offset="0.523" stop-color="#3685e2"/><stop offset="0.629" stop-color="#366adf"/><stop offset="0.784" stop-color="#3556db"/><stop offset="0.939" stop-color="#3444d7"/></radialGradient>
<radialGradient id="gb3_22" cx="737.0" cy="721.3" r="236" gradientUnits="userSpaceOnUse"><stop offset="0.311" stop-color="#47d7d5"/><stop offset="0.354" stop-color="#3ecbdf"/><stop offset="0.396" stop-color="#3ab7e3"/><stop offset="0.460" stop-color="#379ee3"/><stop offset="0.523" stop-color="#3681e2"/><stop offset="0.629" stop-color="#3668df"/><stop offset="0.784" stop-color="#3554db"/><stop offset="0.939" stop-color="#3443d6"/></radialGradient>
<radialGradient id="gb3_23" cx="737.0" cy="721.3" r="236" gradientUnits="userSpaceOnUse"><stop offset="0.311" stop-color="#45d4d7"/><stop offset="0.354" stop-color="#3dc9e1"/><stop offset="0.396" stop-color="#39b2e3"/><stop offset="0.460" stop-color="#3799e3"/><stop offset="0.523" stop-color="#367ee1"/><stop offset="0.629" stop-color="#3665df"/><stop offset="0.784" stop-color="#3553db"/><stop offset="0.939" stop-color="#3443d6"/></radialGradient>
<radialGradient id="gb3_24" cx="737.0" cy="721.3" r="236" gradientUnits="userSpaceOnUse"><stop offset="0.311" stop-color="#43d1da"/><stop offset="0.354" stop-color="#3cc4e2"/><stop offset="0.396" stop-color="#39ade4"/><stop offset="0.460" stop-color="#3794e3"/><stop offset="0.523" stop-color="#367ae1"/><stop offset="0.629" stop-color="#3662de"/><stop offset="0.784" stop-color="#3551da"/><stop offset="0.939" stop-color="#3342d6"/></radialGradient>
<radialGradient id="gb3_25" cx="737.0" cy="721.3" r="236" gradientUnits="userSpaceOnUse"><stop offset="0.311" stop-color="#41cfdc"/><stop offset="0.354" stop-color="#3bbfe3"/><stop offset="0.396" stop-color="#38a8e4"/><stop offset="0.460" stop-color="#378ee3"/><stop offset="0.523" stop-color="#3676e1"/><stop offset="0.629" stop-color="#365fde"/><stop offset="0.784" stop-color="#3550da"/><stop offset="0.939" stop-color="#3342d5"/></radialGradient>
<radialGradient id="gb3_26" cx="737.0" cy="721.3" r="236" gradientUnits="userSpaceOnUse"><stop offset="0.311" stop-color="#3fccdf"/><stop offset="0.354" stop-color="#3ab9e3"/><stop offset="0.396" stop-color="#38a2e4"/><stop offset="0.460" stop-color="#3689e2"/><stop offset="0.523" stop-color="#3672e0"/><stop offset="0.629" stop-color="#365ddd"/><stop offset="0.784" stop-color="#354eda"/><stop offset="0.939" stop-color="#3341d5"/></radialGradient>
<radialGradient id="gb3_27" cx="737.0" cy="721.3" r="236" gradientUnits="userSpaceOnUse"><stop offset="0.311" stop-color="#3cc9e1"/><stop offset="0.354" stop-color="#39b3e3"/><stop offset="0.396" stop-color="#379be3"/><stop offset="0.460" stop-color="#3683e2"/><stop offset="0.523" stop-color="#366ee0"/><stop offset="0.672" stop-color="#3555db"/><stop offset="0.805" stop-color="#344ad9"/><stop offset="0.939" stop-color="#3341d4"/></radialGradient>
<radialGradient id="gb3_28" cx="737.0" cy="721.3" r="236" gradientUnits="userSpaceOnUse"><stop offset="0.311" stop-color="#3bc3e2"/><stop offset="0.354" stop-color="#39ade4"/><stop offset="0.396" stop-color="#3795e3"/><stop offset="0.460" stop-color="#367ee2"/><stop offset="0.523" stop-color="#366adf"/><stop offset="0.672" stop-color="#3553db"/><stop offset="0.939" stop-color="#3340d4"/></radialGradient>
<radialGradient id="gb3_29" cx="737.0" cy="721.3" r="236" gradientUnits="userSpaceOnUse"><stop offset="0.311" stop-color="#3bbce3"/><stop offset="0.354" stop-color="#38a7e4"/><stop offset="0.396" stop-color="#378ee3"/><stop offset="0.460" stop-color="#3679e1"/><stop offset="0.523" stop-color="#3666df"/><stop offset="0.672" stop-color="#3551da"/><stop offset="0.939" stop-color="#323fd3"/></radialGradient>
<radialGradient id="gb3_30" cx="737.0" cy="721.3" r="236" gradientUnits="userSpaceOnUse"><stop offset="0.311" stop-color="#3ab6e3"/><stop offset="0.354" stop-color="#389fe4"/><stop offset="0.396" stop-color="#3686e2"/><stop offset="0.460" stop-color="#3674e0"/><stop offset="0.523" stop-color="#3661de"/><stop offset="0.672" stop-color="#354eda"/><stop offset="0.939" stop-color="#323ed2"/></radialGradient>
<radialGradient id="gb3_31" cx="737.0" cy="721.3" r="236" gradientUnits="userSpaceOnUse"><stop offset="0.311" stop-color="#39afe4"/><stop offset="0.354" stop-color="#3798e3"/><stop offset="0.396" stop-color="#367fe2"/><stop offset="0.460" stop-color="#366ee0"/><stop offset="0.523" stop-color="#365ddd"/><stop offset="0.714" stop-color="#3448d8"/><stop offset="0.939" stop-color="#323dd1"/></radialGradient>
<radialGradient id="gb3_32" cx="737.0" cy="721.3" r="236" gradientUnits="userSpaceOnUse"><stop offset="0.311" stop-color="#38a8e4"/><stop offset="0.354" stop-color="#3790e3"/><stop offset="0.396" stop-color="#3679e1"/><stop offset="0.460" stop-color="#3669df"/><stop offset="0.523" stop-color="#365adc"/><stop offset="0.714" stop-color="#3446d7"/><stop offset="0.939" stop-color="#313cd0"/></radialGradient>
<radialGradient id="gb3_33" cx="737.0" cy="721.3" r="236" gradientUnits="userSpaceOnUse"><stop offset="0.311" stop-color="#389fe4"/><stop offset="0.354" stop-color="#3688e2"/><stop offset="0.396" stop-color="#3672e0"/><stop offset="0.460" stop-color="#3663de"/><stop offset="0.523" stop-color="#3556dc"/><stop offset="0.714" stop-color="#3444d7"/><stop offset="0.939" stop-color="#313bcf"/></radialGradient>
<radialGradient id="gb3_34" cx="737.0" cy="721.3" r="236" gradientUnits="userSpaceOnUse"><stop offset="0.311" stop-color="#3796e3"/><stop offset="0.354" stop-color="#367fe2"/><stop offset="0.396" stop-color="#366bdf"/><stop offset="0.460" stop-color="#365edd"/><stop offset="0.523" stop-color="#3552db"/><stop offset="0.769" stop-color="#3340d3"/><stop offset="0.939" stop-color="#313ace"/></radialGradient>
<radialGradient id="gb3_35" cx="737.0" cy="721.3" r="236" gradientUnits="userSpaceOnUse"><stop offset="0.311" stop-color="#378ce3"/><stop offset="0.354" stop-color="#3678e1"/><stop offset="0.396" stop-color="#3665df"/><stop offset="0.523" stop-color="#354eda"/><stop offset="0.820" stop-color="#313cd1"/><stop offset="0.939" stop-color="#3038cd"/></radialGradient>
<radialGradient id="gb3_36" cx="737.0" cy="721.3" r="236" gradientUnits="userSpaceOnUse"><stop offset="0.311" stop-color="#3682e2"/><stop offset="0.354" stop-color="#3670e0"/><stop offset="0.396" stop-color="#365ede"/><stop offset="0.523" stop-color="#344bd9"/><stop offset="0.820" stop-color="#313bcf"/><stop offset="0.939" stop-color="#3037cc"/></radialGradient>
<radialGradient id="gb3_37" cx="737.0" cy="721.3" r="236" gradientUnits="userSpaceOnUse"><stop offset="0.311" stop-color="#3679e1"/><stop offset="0.354" stop-color="#3668df"/><stop offset="0.396" stop-color="#3558dc"/><stop offset="0.523" stop-color="#3447d8"/><stop offset="0.879" stop-color="#3037cd"/><stop offset="0.939" stop-color="#2f36cb"/></radialGradient>
<radialGradient id="gb3_38" cx="737.0" cy="721.3" r="236" gradientUnits="userSpaceOnUse"><stop offset="0.311" stop-color="#366fe0"/><stop offset="0.354" stop-color="#365fde"/><stop offset="0.396" stop-color="#3552db"/><stop offset="0.557" stop-color="#3341d5"/><stop offset="0.939" stop-color="#2f34ca"/></radialGradient>
<radialGradient id="gb3_39" cx="737.0" cy="721.3" r="236" gradientUnits="userSpaceOnUse"><stop offset="0.311" stop-color="#3665df"/><stop offset="0.354" stop-color="#3558dc"/><stop offset="0.396" stop-color="#354cd9"/><stop offset="0.557" stop-color="#323fd3"/><stop offset="0.939" stop-color="#2e33c9"/></radialGradient></defs>
<g clip-path="url(#cpb3)"><g filter="url(#fblur)"><path d="M737.0 721.3 L974.8 759.0 L977.5 711.8 Z" fill="url(#gb3_0)"/>
<path d="M737.0 721.3 L977.6 713.9 L977.0 702.4 Z" fill="url(#gb3_1)"/>
<path d="M737.0 721.3 L977.1 704.5 L976.1 693.0 Z" fill="url(#gb3_2)"/>
<path d="M737.0 721.3 L976.3 695.1 L974.8 683.6 Z" fill="url(#gb3_3)"/>
<path d="M737.0 721.3 L975.1 685.7 L973.1 674.3 Z" fill="url(#gb3_4)"/>
<path d="M737.0 721.3 L973.5 676.4 L971.1 665.1 Z" fill="url(#gb3_5)"/>
<path d="M737.0 721.3 L971.6 667.1 L968.7 656.0 Z" fill="url(#gb3_6)"/>
<path d="M737.0 721.3 L969.2 658.0 L965.9 646.9 Z" fill="url(#gb3_7)"/>
<path d="M737.0 721.3 L966.6 648.9 L962.8 638.0 Z" fill="url(#gb3_8)"/>
<path d="M737.0 721.3 L963.6 640.0 L959.4 629.2 Z" fill="url(#gb3_9)"/>
<path d="M737.0 721.3 L960.2 631.1 L955.6 620.5 Z" fill="url(#gb3_10)"/>
<path d="M737.0 721.3 L956.5 622.4 L951.5 612.0 Z" fill="url(#gb3_11)"/>
<path d="M737.0 721.3 L952.4 613.9 L947.0 603.7 Z" fill="url(#gb3_12)"/>
<path d="M737.0 721.3 L948.0 605.5 L942.2 595.5 Z" fill="url(#gb3_13)"/>
<path d="M737.0 721.3 L943.3 597.3 L937.2 587.6 Z" fill="url(#gb3_14)"/>
<path d="M737.0 721.3 L938.3 589.3 L931.7 579.8 Z" fill="url(#gb3_15)"/>
<path d="M737.0 721.3 L933.0 581.5 L926.0 572.3 Z" fill="url(#gb3_16)"/>
<path d="M737.0 721.3 L927.3 573.9 L920.0 565.0 Z" fill="url(#gb3_17)"/>
<path d="M737.0 721.3 L921.4 566.6 L913.8 557.9 Z" fill="url(#gb3_18)"/>
<path d="M737.0 721.3 L915.2 559.4 L907.2 551.1 Z" fill="url(#gb3_19)"/>
<path d="M737.0 721.3 L908.7 552.6 L900.4 544.5 Z" fill="url(#gb3_20)"/>
<path d="M737.0 721.3 L901.9 546.0 L893.3 538.3 Z" fill="url(#gb3_21)"/>
<path d="M737.0 721.3 L894.9 539.6 L886.0 532.3 Z" fill="url(#gb3_22)"/>
<path d="M737.0 721.3 L887.7 533.6 L878.5 526.6 Z" fill="url(#gb3_23)"/>
<path d="M737.0 721.3 L880.2 527.8 L870.7 521.1 Z" fill="url(#gb3_24)"/>
<path d="M737.0 721.3 L872.5 522.3 L862.8 516.1 Z" fill="url(#gb3_25)"/>
<path d="M737.0 721.3 L864.6 517.2 L854.6 511.3 Z" fill="url(#gb3_26)"/>
<path d="M737.0 721.3 L856.4 512.3 L846.3 506.8 Z" fill="url(#gb3_27)"/>
<path d="M737.0 721.3 L848.2 507.8 L837.8 502.7 Z" fill="url(#gb3_28)"/>
<path d="M737.0 721.3 L839.7 503.6 L829.1 498.9 Z" fill="url(#gb3_29)"/>
<path d="M737.0 721.3 L831.1 499.7 L820.3 495.5 Z" fill="url(#gb3_30)"/>
<path d="M737.0 721.3 L822.3 496.2 L811.4 492.4 Z" fill="url(#gb3_31)"/>
<path d="M737.0 721.3 L813.4 493.0 L802.3 489.6 Z" fill="url(#gb3_32)"/>
<path d="M737.0 721.3 L804.4 490.2 L793.2 487.2 Z" fill="url(#gb3_33)"/>
<path d="M737.0 721.3 L795.2 487.7 L784.0 485.2 Z" fill="url(#gb3_34)"/>
<path d="M737.0 721.3 L786.0 485.6 L774.7 483.5 Z" fill="url(#gb3_35)"/>
<path d="M737.0 721.3 L776.7 483.9 L765.3 482.2 Z" fill="url(#gb3_36)"/>
<path d="M737.0 721.3 L767.4 482.5 L755.9 481.3 Z" fill="url(#gb3_37)"/>
<path d="M737.0 721.3 L758.0 481.5 L746.5 480.8 Z" fill="url(#gb3_38)"/>
<path d="M737.0 721.3 L748.5 480.9 L699.3 483.5 Z" fill="url(#gb3_39)"/></g></g>
<clipPath id="cpb4"><path d="M993.9 500.4 A221.6 220.9 0 0 1 1215.5 721.3 L1067.6 721.3 A73.7 73.4 0 0 0 993.9 647.9 Z"/></clipPath>
<defs><radialGradient id="gb4_0" cx="993.9" cy="721.3" r="236" gradientUnits="userSpaceOnUse"><stop offset="0.311" stop-color="#820000"/><stop offset="0.328" stop-color="#940000"/><stop offset="0.345" stop-color="#ac0500"/><stop offset="0.358" stop-color="#c00f00"/><stop offset="0.371" stop-color="#d01d00"/><stop offset="0.383" stop-color="#d43600"/><stop offset="0.396" stop-color="#d85100"/><stop offset="0.407" stop-color="#d96300"/><stop offset="0.417" stop-color="#db7400"/><stop offset="0.439" stop-color="#dc9200"/><stop offset="0.466" stop-color="#dbae01"/><stop offset="0.494" stop-color="#d9c707"/><stop offset="0.591" stop-color="#cedb1b"/><stop offset="0.707" stop-color="#b7e13a"/><stop offset="0.823" stop-color="#9fe25d"/><stop offset="0.939" stop-color="#88e27c"/></radialGradient>
<radialGradient id="gb4_1" cx="993.9" cy="721.3" r="236" gradientUnits="userSpaceOnUse"><stop offset="0.311" stop-color="#840000"/><stop offset="0.328" stop-color="#960000"/><stop offset="0.345" stop-color="#ae0500"/><stop offset="0.358" stop-color="#c10f00"/><stop offset="0.371" stop-color="#d01e00"/><stop offset="0.383" stop-color="#d43700"/><stop offset="0.396" stop-color="#d85100"/><stop offset="0.407" stop-color="#d96300"/><stop offset="0.417" stop-color="#db7400"/><stop offset="0.439" stop-color="#dc9100"/><stop offset="0.466" stop-color="#dcac01"/><stop offset="0.494" stop-color="#d9c507"/><stop offset="0.542" stop-color="#d5d20f"/><stop offset="0.591" stop-color="#cedb1a"/><stop offset="0.707" stop-color="#b7e13a"/><stop offset="0.823" stop-color="#9ee25d"/><stop offset="0.939" stop-color="#87e27d"/></radialGradient>
<radialGradient id="gb4_2" cx="993.9" cy="721.3" r="236" gradientUnits="userSpaceOnUse"><stop offset="0.311" stop-color="#860000"/><stop offset="0.328" stop-color="#970000"/><stop offset="0.345" stop-color="#af0600"/><stop offset="0.358" stop-color="#c21000"/><stop offset="0.371" stop-color="#d11f00"/><stop offset="0.383" stop-color="#d53700"/><stop offset="0.396" stop-color="#d85200"/><stop offset="0.407" stop-color="#d96300"/><stop offset="0.417" stop-color="#db7400"/><stop offset="0.441" stop-color="#dc8f00"/><stop offset="0.464" stop-color="#dbad01"/><stop offset="0.494" stop-color="#d9c406"/><stop offset="0.542" stop-color="#d5d20e"/><stop offset="0.591" stop-color="#cfda1a"/><stop offset="0.707" stop-color="#b7e13a"/><stop offset="0.823" stop-color="#9ee25e"/><stop offset="0.939" stop-color="#87e27e"/></radialGradient>
<radialGradient id="gb4_3" cx="993.9" cy="721.3" r="236" gradientUnits="userSpaceOnUse"><stop offset="0.311" stop-color="#880000"/><stop offset="0.328" stop-color="#9a0000"/><stop offset="0.345" stop-color="#b10600"/><stop offset="0.358" stop-color="#c31100"/><stop offset="0.371" stop-color="#d12000"/><stop offset="0.383" stop-color="#d53800"/><stop offset="0.396" stop-color="#d85200"/><stop offset="0.407" stop-color="#d96300"/><stop offset="0.417" stop-color="#db7400"/><stop offset="0.441" stop-color="#dc8f00"/><stop offset="0.464" stop-color="#dcac01"/><stop offset="0.494" stop-color="#d9c406"/><stop offset="0.542" stop-color="#d5d10e"/><stop offset="0.591" stop-color="#cfda1a"/><stop offset="0.707" stop-color="#b7e13a"/><stop offset="0.823" stop-color="#9ee25e"/><stop offset="0.939" stop-color="#86e27e"/></radialGradient>
<radialGradient id="gb4_4" cx="993.9" cy="721.3" r="236" gradientUnits="userSpaceOnUse"><stop offset="0.311" stop-color="#8a0000"/><stop offset="0.328" stop-color="#9c0100"/><stop offset="0.345" stop-color="#b30700"/><stop offset="0.358" stop-color="#c41200"/><stop offset="0.371" stop-color="#d12100"/><stop offset="0.383" stop-color="#d53900"/><stop offset="0.396" stop-color="#d85200"/><stop offset="0.407" stop-color="#d96300"/><stop offset="0.417" stop-color="#db7400"/><stop offset="0.441" stop-color="#dc8e00"/><stop offset="0.464" stop-color="#dcac01"/><stop offset="0.494" stop-color="#d9c306"/><stop offset="0.542" stop-color="#d5d10e"/><stop offset="0.591" stop-color="#cfda1a"/><stop offset="0.707" stop-color="#b7e13a"/><stop offset="0.823" stop-color="#9ee25e"/><stop offset="0.939" stop-color="#86e27f"/></radialGradient>
<radialGradient id="gb4_5" cx="993.9" cy="721.3" r="236" gradientUnits="userSpaceOnUse"><stop offset="0.311" stop-color="#8c0000"/><stop offset="0.328" stop-color="#9f0200"/><stop offset="0.345" stop-color="#b50700"/><stop offset="0.358" stop-color="#c51300"/><stop offset="0.371" stop-color="#d12300"/><stop offset="0.383" stop-color="#d53a00"/><stop offset="0.396" stop-color="#d85300"/><stop offset="0.407" stop-color="#d96300"/><stop offset="0.417" stop-color="#db7300"/><stop offset="0.441" stop-color="#dc8e00"/><stop offset="0.464" stop-color="#dcab01"/><stop offset="0.494" stop-color="#d9c306"/><stop offset="0.542" stop-color="#d5d10e"/><stop offset="0.591" stop-color="#cfda1a"/><stop offset="0.707" stop-color="#b7e13a"/><stop offset="0.823" stop-color="#9de25f"/><stop offset="0.939" stop-color="#85e280"/></radialGradient>
<radialGradient id="gb4_6" cx="993.9" cy="721.3" r="236" gradientUnits="userSpaceOnUse"><stop offset="0.311" stop-color="#8e0000"/><stop offset="0.328" stop-color="#a20300"/><stop offset="0.345" stop-color="#b90900"/><stop offset="0.362" stop-color="#cb1800"/><stop offset="0.374" stop-color="#d22900"/><stop offset="0.385" stop-color="#d53d00"/><stop offset="0.396" stop-color="#d85300"/><stop offset="0.407" stop-color="#d96300"/><stop offset="0.417" stop-color="#db7300"/><stop offset="0.441" stop-color="#dc8e00"/><stop offset="0.464" stop-color="#dcab01"/><stop offset="0.494" stop-color="#d9c306"/><stop offset="0.542" stop-color="#d5d10e"/><stop offset="0.591" stop-color="#cfda19"/><stop offset="0.707" stop-color="#b7e13a"/><stop offset="0.823" stop-color="#9de25f"/><stop offset="0.939" stop-color="#84e280"/></radialGradient>
<radialGradient id="gb4_7" cx="993.9" cy="721.3" r="236" gradientUnits="userSpaceOnUse"><stop offset="0.311" stop-color="#900000"/><stop offset="0.328" stop-color="#a50300"/><stop offset="0.345" stop-color="#bb0a00"/><stop offset="0.362" stop-color="#cc1900"/><stop offset="0.374" stop-color="#d22a00"/><stop offset="0.385" stop-color="#d63e00"/><stop offset="0.396" stop-color="#d85300"/><stop offset="0.407" stop-color="#d96300"/><stop offset="0.417" stop-color="#db7400"/><stop offset="0.441" stop-color="#dc8e00"/><stop offset="0.464" stop-color="#dcab01"/><stop offset="0.494" stop-color="#d9c306"/><stop offset="0.542" stop-color="#d5d10e"/><stop offset="0.591" stop-color="#cfda1a"/><stop offset="0.707" stop-color="#b7e13a"/><stop offset="0.823" stop-color="#9de260"/><stop offset="0.939" stop-color="#84e281"/></radialGradient>
<radialGradient id="gb4_8" cx="993.9" cy="721.3" r="236" gradientUnits="userSpaceOnUse"><stop offset="0.311" stop-color="#920000"/><stop offset="0.328" stop-color="#a70400"/><stop offset="0.345" stop-color="#bd0c00"/><stop offset="0.362" stop-color="#cf1b00"/><stop offset="0.379" stop-color="#d43400"/><stop offset="0.388" stop-color="#d64300"/><stop offset="0.396" stop-color="#d85400"/><stop offset="0.407" stop-color="#d96400"/><stop offset="0.417" stop-color="#db7400"/><stop offset="0.441" stop-color="#dc8f00"/><stop offset="0.464" stop-color="#dcac01"/><stop offset="0.494" stop-color="#d9c306"/><stop offset="0.542" stop-color="#d5d10e"/><stop offset="0.591" stop-color="#cfda1a"/><stop offset="0.707" stop-color="#b7e13b"/><stop offset="0.823" stop-color="#9ce260"/><stop offset="0.939" stop-color="#84e282"/></radialGradient>
<radialGradient id="gb4_9" cx="993.9" cy="721.3" r="236" gradientUnits="userSpaceOnUse"><stop offset="0.311" stop-color="#940000"/><stop offset="0.328" stop-color="#aa0400"/><stop offset="0.345" stop-color="#be0d00"/><stop offset="0.362" stop-color="#cf1c00"/><stop offset="0.379" stop-color="#d43500"/><stop offset="0.388" stop-color="#d64400"/><stop offset="0.396" stop-color="#d85400"/><stop offset="0.407" stop-color="#d96400"/><stop offset="0.417" stop-color="#db7400"/><stop offset="0.439" stop-color="#dc9100"/><stop offset="0.466" stop-color="#dcab01"/><stop offset="0.494" stop-color="#d9c406"/><stop offset="0.542" stop-color="#d5d10e"/><stop offset="0.591" stop-color="#cedb1a"/><stop offset="0.687" stop-color="#bae035"/><stop offset="0.783" stop-color="#a3e257"/><stop offset="0.879" stop-color="#8ee273"/><stop offset="0.939" stop-color="#83e282"/></radialGradient>
<radialGradient id="gb4_10" cx="993.9" cy="721.3" r="236" gradientUnits="userSpaceOnUse"><stop offset="0.311" stop-color="#960000"/><stop offset="0.328" stop-color="#ac0500"/><stop offset="0.345" stop-color="#c00e00"/><stop offset="0.362" stop-color="#d01d00"/><stop offset="0.379" stop-color="#d43600"/><stop offset="0.388" stop-color="#d64500"/><stop offset="0.396" stop-color="#d85500"/><stop offset="0.407" stop-color="#d96500"/><stop offset="0.417" stop-color="#db7500"/><stop offset="0.439" stop-color="#dc9200"/><stop offset="0.466" stop-color="#dbad01"/><stop offset="0.494" stop-color="#d9c406"/><stop offset="0.542" stop-color="#d5d20f"/><stop offset="0.591" stop-color="#cedb1b"/><stop offset="0.687" stop-color="#bae036"/><stop offset="0.783" stop-color="#a3e257"/><stop offset="0.879" stop-color="#8ee274"/><stop offset="0.939" stop-color="#83e283"/></radialGradient>
<radialGradient id="gb4_11" cx="993.9" cy="721.3" r="236" gradientUnits="userSpaceOnUse"><stop offset="0.311" stop-color="#980000"/><stop offset="0.328" stop-color="#ae0600"/><stop offset="0.345" stop-color="#c11000"/><stop offset="0.362" stop-color="#d01e00"/><stop offset="0.379" stop-color="#d43700"/><stop offset="0.392" stop-color="#d74b00"/><stop offset="0.405" stop-color="#d96100"/><stop offset="0.417" stop-color="#db7600"/><stop offset="0.439" stop-color="#dc9400"/><stop offset="0.464" stop-color="#dbb002"/><stop offset="0.494" stop-color="#d9c507"/><stop offset="0.542" stop-color="#d4d20f"/><stop offset="0.591" stop-color="#cddb1b"/><stop offset="0.687" stop-color="#b9e037"/><stop offset="0.783" stop-color="#a2e258"/><stop offset="0.879" stop-color="#8de275"/><stop offset="0.939" stop-color="#82e283"/></radialGradient>
<radialGradient id="gb4_12" cx="993.9" cy="721.3" r="236" gradientUnits="userSpaceOnUse"><stop offset="0.311" stop-color="#9b0100"/><stop offset="0.328" stop-color="#b20700"/><stop offset="0.345" stop-color="#c51200"/><stop offset="0.362" stop-color="#d12200"/><stop offset="0.379" stop-color="#d53800"/><stop offset="0.398" stop-color="#d85700"/><stop offset="0.417" stop-color="#db7700"/><stop offset="0.439" stop-color="#dc9600"/><stop offset="0.464" stop-color="#dbb202"/><stop offset="0.523" stop-color="#d5d00d"/><stop offset="0.622" stop-color="#c7dd24"/><stop offset="0.721" stop-color="#afe146"/><stop offset="0.820" stop-color="#97e267"/><stop offset="0.939" stop-color="#82e284"/></radialGradient>
<radialGradient id="gb4_13" cx="993.9" cy="721.3" r="236" gradientUnits="userSpaceOnUse"><stop offset="0.311" stop-color="#9f0200"/><stop offset="0.328" stop-color="#b50700"/><stop offset="0.345" stop-color="#c71400"/><stop offset="0.362" stop-color="#d12400"/><stop offset="0.379" stop-color="#d53a00"/><stop offset="0.398" stop-color="#d85900"/><stop offset="0.417" stop-color="#db7800"/><stop offset="0.439" stop-color="#dc9900"/><stop offset="0.464" stop-color="#dbb403"/><stop offset="0.523" stop-color="#d5d10e"/><stop offset="0.622" stop-color="#c6dd25"/><stop offset="0.721" stop-color="#ade248"/><stop offset="0.820" stop-color="#96e269"/><stop offset="0.939" stop-color="#81e285"/></radialGradient>
<radialGradient id="gb4_14" cx="993.9" cy="721.3" r="236" gradientUnits="userSpaceOnUse"><stop offset="0.311" stop-color="#a30300"/><stop offset="0.328" stop-color="#b80800"/><stop offset="0.345" stop-color="#c71500"/><stop offset="0.362" stop-color="#d22600"/><stop offset="0.379" stop-color="#d53d00"/><stop offset="0.398" stop-color="#d95c00"/><stop offset="0.417" stop-color="#db7b00"/><stop offset="0.439" stop-color="#dc9c00"/><stop offset="0.464" stop-color="#dab703"/><stop offset="0.523" stop-color="#d4d20f"/><stop offset="0.622" stop-color="#c4de28"/><stop offset="0.721" stop-color="#abe24c"/><stop offset="0.820" stop-color="#93e26d"/><stop offset="0.939" stop-color="#7ee188"/></radialGradient>
<radialGradient id="gb4_15" cx="993.9" cy="721.3" r="236" gradientUnits="userSpaceOnUse"><stop offset="0.311" stop-color="#a80400"/><stop offset="0.328" stop-color="#bb0b00"/><stop offset="0.345" stop-color="#ca1700"/><stop offset="0.362" stop-color="#d22a00"/><stop offset="0.379" stop-color="#d64100"/><stop offset="0.398" stop-color="#d96000"/><stop offset="0.417" stop-color="#dc7f00"/><stop offset="0.439" stop-color="#dca100"/><stop offset="0.464" stop-color="#dabb04"/><stop offset="0.523" stop-color="#d3d512"/><stop offset="0.622" stop-color="#c1df2c"/><stop offset="0.721" stop-color="#a7e251"/><stop offset="0.820" stop-color="#90e271"/><stop offset="0.939" stop-color="#7be18d"/></radialGradient>
<radialGradient id="gb4_16" cx="993.9" cy="721.3" r="236" gradientUnits="userSpaceOnUse"><stop offset="0.311" stop-color="#ad0500"/><stop offset="0.328" stop-color="#bf0e00"/><stop offset="0.345" stop-color="#cd1a00"/><stop offset="0.362" stop-color="#d32e00"/><stop offset="0.381" stop-color="#d74900"/><stop offset="0.399" stop-color="#da6600"/><stop offset="0.417" stop-color="#dc8500"/><stop offset="0.439" stop-color="#dca700"/><stop offset="0.464" stop-color="#d9c005"/><stop offset="0.523" stop-color="#d1d715"/><stop offset="0.622" stop-color="#bde031"/><stop offset="0.721" stop-color="#a3e257"/><stop offset="0.820" stop-color="#8ce277"/><stop offset="0.939" stop-color="#76e193"/></radialGradient>
<radialGradient id="gb4_17" cx="993.9" cy="721.3" r="236" gradientUnits="userSpaceOnUse"><stop offset="0.311" stop-color="#b30700"/><stop offset="0.328" stop-color="#c11000"/><stop offset="0.345" stop-color="#ce1a00"/><stop offset="0.362" stop-color="#d43300"/><stop offset="0.379" stop-color="#d74e00"/><stop offset="0.396" stop-color="#da6b00"/><stop offset="0.417" stop-color="#dc8a00"/><stop offset="0.439" stop-color="#dbad01"/><stop offset="0.464" stop-color="#d9c607"/><stop offset="0.523" stop-color="#cfda19"/><stop offset="0.622" stop-color="#b8e139"/><stop offset="0.721" stop-color="#9fe25d"/><stop offset="0.820" stop-color="#87e27d"/><stop offset="0.939" stop-color="#71e19a"/></radialGradient>
<radialGradient id="gb4_18" cx="993.9" cy="721.3" r="236" gradientUnits="userSpaceOnUse"><stop offset="0.311" stop-color="#b90900"/><stop offset="0.328" stop-color="#c51300"/><stop offset="0.345" stop-color="#d01d00"/><stop offset="0.362" stop-color="#d53800"/><stop offset="0.379" stop-color="#d85400"/><stop offset="0.396" stop-color="#db7200"/><stop offset="0.417" stop-color="#dc9200"/><stop offset="0.439" stop-color="#dbb403"/><stop offset="0.464" stop-color="#d8cc08"/><stop offset="0.523" stop-color="#cbdc1f"/><stop offset="0.622" stop-color="#b3e141"/><stop offset="0.721" stop-color="#9ae263"/><stop offset="0.820" stop-color="#82e284"/><stop offset="0.939" stop-color="#6be0a1"/></radialGradient>
<radialGradient id="gb4_19" cx="993.9" cy="721.3" r="236" gradientUnits="userSpaceOnUse"><stop offset="0.311" stop-color="#bf0e00"/><stop offset="0.328" stop-color="#c61400"/><stop offset="0.345" stop-color="#d12100"/><stop offset="0.357" stop-color="#d43400"/><stop offset="0.368" stop-color="#d74900"/><stop offset="0.379" stop-color="#d95e00"/><stop offset="0.398" stop-color="#dc7b00"/><stop offset="0.417" stop-color="#dc9d00"/><stop offset="0.439" stop-color="#dabb04"/><stop offset="0.464" stop-color="#d6d00d"/><stop offset="0.523" stop-color="#c6dd25"/><stop offset="0.622" stop-color="#ade249"/><stop offset="0.721" stop-color="#95e26a"/><stop offset="0.820" stop-color="#7de18a"/><stop offset="0.939" stop-color="#66e0a7"/></radialGradient>
<radialGradient id="gb4_20" cx="993.9" cy="721.3" r="236" gradientUnits="userSpaceOnUse"><stop offset="0.311" stop-color="#c51300"/><stop offset="0.328" stop-color="#cb1800"/><stop offset="0.345" stop-color="#d22600"/><stop offset="0.357" stop-color="#d53b00"/><stop offset="0.368" stop-color="#d85000"/><stop offset="0.379" stop-color="#da6700"/><stop offset="0.398" stop-color="#dc8300"/><stop offset="0.417" stop-color="#dca600"/><stop offset="0.439" stop-color="#d9c206"/><stop offset="0.466" stop-color="#d4d30f"/><stop offset="0.494" stop-color="#cbdc1f"/><stop offset="0.542" stop-color="#bfe02f"/><stop offset="0.591" stop-color="#b0e145"/><stop offset="0.667" stop-color="#9de25f"/><stop offset="0.744" stop-color="#8ce277"/><stop offset="0.820" stop-color="#79e18f"/><stop offset="0.939" stop-color="#62e0ac"/></radialGradient>
<radialGradient id="gb4_21" cx="993.9" cy="721.3" r="236" gradientUnits="userSpaceOnUse"><stop offset="0.311" stop-color="#cc1900"/><stop offset="0.328" stop-color="#d01d00"/><stop offset="0.345" stop-color="#d32f00"/><stop offset="0.357" stop-color="#d64300"/><stop offset="0.368" stop-color="#d85a00"/><stop offset="0.379" stop-color="#db7100"/><stop offset="0.398" stop-color="#dc8e00"/><stop offset="0.417" stop-color="#dbaf02"/><stop offset="0.439" stop-color="#d8ca08"/><stop offset="0.466" stop-color="#d2d614"/><stop offset="0.494" stop-color="#c6dd25"/><stop offset="0.591" stop-color="#abe24c"/><stop offset="0.687" stop-color="#96e269"/><stop offset="0.783" stop-color="#80e286"/><stop offset="0.879" stop-color="#69e0a4"/><stop offset="0.939" stop-color="#5fdfb1"/></radialGradient>
<radialGradient id="gb4_22" cx="993.9" cy="721.3" r="236" gradientUnits="userSpaceOnUse"><stop offset="0.311" stop-color="#d12200"/><stop offset="0.328" stop-color="#d22900"/><stop offset="0.345" stop-color="#d53a00"/><stop offset="0.357" stop-color="#d74f00"/><stop offset="0.368" stop-color="#da6500"/><stop offset="0.379" stop-color="#dc7c00"/><stop offset="0.398" stop-color="#dc9b00"/><stop offset="0.417" stop-color="#dab904"/><stop offset="0.441" stop-color="#d7cf0b"/><stop offset="0.464" stop-color="#cfda1a"/><stop offset="0.523" stop-color="#b7e13a"/><stop offset="0.642" stop-color="#9ce261"/><stop offset="0.761" stop-color="#82e284"/><stop offset="0.879" stop-color="#65e0a8"/><stop offset="0.939" stop-color="#5cdeb6"/></radialGradient>
<radialGradient id="gb4_23" cx="993.9" cy="721.3" r="236" gradientUnits="userSpaceOnUse"><stop offset="0.311" stop-color="#d33000"/><stop offset="0.328" stop-color="#d43700"/><stop offset="0.345" stop-color="#d74800"/><stop offset="0.362" stop-color="#da6800"/><stop offset="0.379" stop-color="#dc8a00"/><stop offset="0.398" stop-color="#dca800"/><stop offset="0.417" stop-color="#d9c406"/><stop offset="0.441" stop-color="#d4d311"/><stop offset="0.464" stop-color="#c9dc21"/><stop offset="0.523" stop-color="#b1e143"/><stop offset="0.627" stop-color="#9be262"/><stop offset="0.731" stop-color="#85e280"/><stop offset="0.835" stop-color="#6de19e"/><stop offset="0.939" stop-color="#59ddbb"/></radialGradient>
<radialGradient id="gb4_24" cx="993.9" cy="721.3" r="236" gradientUnits="userSpaceOnUse"><stop offset="0.311" stop-color="#d63e00"/><stop offset="0.328" stop-color="#d74700"/><stop offset="0.345" stop-color="#d85900"/><stop offset="0.362" stop-color="#db7700"/><stop offset="0.379" stop-color="#dc9a00"/><stop offset="0.398" stop-color="#dab603"/><stop offset="0.417" stop-color="#d7ce0a"/><stop offset="0.441" stop-color="#d1d917"/><stop offset="0.464" stop-color="#c3de29"/><stop offset="0.494" stop-color="#b4e13e"/><stop offset="0.591" stop-color="#9ce260"/><stop offset="0.707" stop-color="#85e280"/><stop offset="0.823" stop-color="#6be0a1"/><stop offset="0.939" stop-color="#55dcc0"/></radialGradient>
<radialGradient id="gb4_25" cx="993.9" cy="721.3" r="236" gradientUnits="userSpaceOnUse"><stop offset="0.311" stop-color="#d74e00"/><stop offset="0.328" stop-color="#d85800"/><stop offset="0.345" stop-color="#da6b00"/><stop offset="0.362" stop-color="#dc8900"/><stop offset="0.379" stop-color="#dcac01"/><stop offset="0.398" stop-color="#d9c506"/><stop offset="0.417" stop-color="#d3d512"/><stop offset="0.441" stop-color="#c9dc21"/><stop offset="0.464" stop-color="#bbe034"/><stop offset="0.494" stop-color="#ace24b"/><stop offset="0.591" stop-color="#96e269"/><stop offset="0.707" stop-color="#7fe188"/><stop offset="0.823" stop-color="#66e0a8"/><stop offset="0.939" stop-color="#52dbc5"/></radialGradient>
<radialGradient id="gb4_26" cx="993.9" cy="721.3" r="236" gradientUnits="userSpaceOnUse"><stop offset="0.311" stop-color="#d95d00"/><stop offset="0.328" stop-color="#da6a00"/><stop offset="0.345" stop-color="#dc7d00"/><stop offset="0.362" stop-color="#dc9e00"/><stop offset="0.379" stop-color="#dabd05"/><stop offset="0.398" stop-color="#d5d10d"/><stop offset="0.417" stop-color="#ccdb1d"/><stop offset="0.456" stop-color="#b9e038"/><stop offset="0.494" stop-color="#a3e257"/><stop offset="0.561" stop-color="#96e269"/><stop offset="0.629" stop-color="#89e27b"/><stop offset="0.732" stop-color="#73e196"/><stop offset="0.835" stop-color="#5fdfb1"/><stop offset="0.939" stop-color="#4edacb"/></radialGradient>
<radialGradient id="gb4_27" cx="993.9" cy="721.3" r="236" gradientUnits="userSpaceOnUse"><stop offset="0.311" stop-color="#da6c00"/><stop offset="0.328" stop-color="#dc7f00"/><stop offset="0.345" stop-color="#dc9500"/><stop offset="0.362" stop-color="#dbb403"/><stop offset="0.379" stop-color="#d6cf0c"/><stop offset="0.398" stop-color="#cedb1a"/><stop offset="0.417" stop-color="#bfe02f"/><stop offset="0.456" stop-color="#a9e24e"/><stop offset="0.494" stop-color="#96e269"/><stop offset="0.629" stop-color="#7de18a"/><stop offset="0.732" stop-color="#69e0a3"/><stop offset="0.835" stop-color="#59ddba"/><stop offset="0.939" stop-color="#4ad9d1"/></radialGradient>
<radialGradient id="gb4_28" cx="993.9" cy="721.3" r="236" gradientUnits="userSpaceOnUse"><stop offset="0.311" stop-color="#dc7b00"/><stop offset="0.328" stop-color="#dc9600"/><stop offset="0.345" stop-color="#dbb102"/><stop offset="0.362" stop-color="#d8cc08"/><stop offset="0.379" stop-color="#d0da19"/><stop offset="0.396" stop-color="#bde031"/><stop offset="0.417" stop-color="#ace24a"/><stop offset="0.439" stop-color="#9ce260"/><stop offset="0.494" stop-color="#84e281"/><stop offset="0.629" stop-color="#6be0a2"/><stop offset="0.784" stop-color="#57dcbd"/><stop offset="0.939" stop-color="#47d7d5"/></radialGradient>
<radialGradient id="gb4_29" cx="993.9" cy="721.3" r="236" gradientUnits="userSpaceOnUse"><stop offset="0.311" stop-color="#dc8e00"/><stop offset="0.328" stop-color="#dbae01"/><stop offset="0.345" stop-color="#d8cb08"/><stop offset="0.362" stop-color="#d0da19"/><stop offset="0.379" stop-color="#bce033"/><stop offset="0.398" stop-color="#a8e250"/><stop offset="0.417" stop-color="#97e268"/><stop offset="0.464" stop-color="#7ce18c"/><stop offset="0.523" stop-color="#6ae0a2"/><stop offset="0.672" stop-color="#5addba"/><stop offset="0.820" stop-color="#4bd9d0"/><stop offset="0.939" stop-color="#45d4d7"/></radialGradient>
<radialGradient id="gb4_30" cx="993.9" cy="721.3" r="236" gradientUnits="userSpaceOnUse"><stop offset="0.311" stop-color="#dca500"/><stop offset="0.328" stop-color="#d9c506"/><stop offset="0.345" stop-color="#d1d816"/><stop offset="0.362" stop-color="#bde031"/><stop offset="0.379" stop-color="#a9e24e"/><stop offset="0.396" stop-color="#98e266"/><stop offset="0.417" stop-color="#89e27a"/><stop offset="0.439" stop-color="#7ae18f"/><stop offset="0.494" stop-color="#64e0aa"/><stop offset="0.604" stop-color="#59ddbb"/><stop offset="0.714" stop-color="#4ddacc"/><stop offset="0.939" stop-color="#44d2d9"/></radialGradient>
<radialGradient id="gb4_31" cx="993.9" cy="721.3" r="236" gradientUnits="userSpaceOnUse"><stop offset="0.311" stop-color="#d9bf05"/><stop offset="0.328" stop-color="#d3d512"/><stop offset="0.345" stop-color="#c2df2b"/><stop offset="0.362" stop-color="#a9e24f"/><stop offset="0.379" stop-color="#99e265"/><stop offset="0.396" stop-color="#89e27b"/><stop offset="0.439" stop-color="#6de19e"/><stop offset="0.494" stop-color="#5ddeb4"/><stop offset="0.657" stop-color="#50dac8"/><stop offset="0.820" stop-color="#46d5d7"/><stop offset="0.939" stop-color="#42d1db"/></radialGradient>
<radialGradient id="gb4_32" cx="993.9" cy="721.3" r="236" gradientUnits="userSpaceOnUse"><stop offset="0.311" stop-color="#d4d310"/><stop offset="0.328" stop-color="#c5de27"/><stop offset="0.345" stop-color="#aee148"/><stop offset="0.362" stop-color="#97e267"/><stop offset="0.379" stop-color="#89e27b"/><stop offset="0.396" stop-color="#79e190"/><stop offset="0.439" stop-color="#63e0ac"/><stop offset="0.523" stop-color="#54dbc3"/><stop offset="0.731" stop-color="#47d7d5"/><stop offset="0.939" stop-color="#41cfdc"/></radialGradient>
<radialGradient id="gb4_33" cx="993.9" cy="721.3" r="236" gradientUnits="userSpaceOnUse"><stop offset="0.311" stop-color="#c7dd24"/><stop offset="0.328" stop-color="#afe145"/><stop offset="0.345" stop-color="#98e266"/><stop offset="0.362" stop-color="#88e27c"/><stop offset="0.379" stop-color="#76e193"/><stop offset="0.417" stop-color="#5fdfb1"/><stop offset="0.494" stop-color="#50dac8"/><stop offset="0.716" stop-color="#45d4d7"/><stop offset="0.939" stop-color="#3fccde"/></radialGradient>
<radialGradient id="gb4_34" cx="993.9" cy="721.3" r="236" gradientUnits="userSpaceOnUse"><stop offset="0.311" stop-color="#b4e13f"/><stop offset="0.328" stop-color="#9be262"/><stop offset="0.345" stop-color="#83e282"/><stop offset="0.362" stop-color="#6fe19c"/><stop offset="0.396" stop-color="#5addb8"/><stop offset="0.464" stop-color="#4cd9ce"/><stop offset="0.701" stop-color="#43d1da"/><stop offset="0.939" stop-color="#3cc8e2"/></radialGradient>
<radialGradient id="gb4_35" cx="993.9" cy="721.3" r="236" gradientUnits="userSpaceOnUse"><stop offset="0.311" stop-color="#9fe25c"/><stop offset="0.328" stop-color="#87e27d"/><stop offset="0.345" stop-color="#6ce0a0"/><stop offset="0.362" stop-color="#5bdeb7"/><stop offset="0.396" stop-color="#4edacb"/><stop offset="0.494" stop-color="#45d4d8"/><stop offset="0.714" stop-color="#41cedd"/><stop offset="0.939" stop-color="#3bbde3"/></radialGradient>
<radialGradient id="gb4_36" cx="993.9" cy="721.3" r="236" gradientUnits="userSpaceOnUse"><stop offset="0.311" stop-color="#8be277"/><stop offset="0.320" stop-color="#7de18a"/><stop offset="0.328" stop-color="#6fe19c"/><stop offset="0.345" stop-color="#5bddb8"/><stop offset="0.362" stop-color="#4edacb"/><stop offset="0.417" stop-color="#45d4d7"/><stop offset="0.714" stop-color="#3ecae0"/><stop offset="0.826" stop-color="#3bc0e3"/><stop offset="0.939" stop-color="#39b3e3"/></radialGradient>
<radialGradient id="gb4_37" cx="993.9" cy="721.3" r="236" gradientUnits="userSpaceOnUse"><stop offset="0.311" stop-color="#74e196"/><stop offset="0.328" stop-color="#5ddeb4"/><stop offset="0.345" stop-color="#51dbc6"/><stop offset="0.362" stop-color="#47d7d5"/><stop offset="0.439" stop-color="#42d0db"/><stop offset="0.714" stop-color="#3cc6e2"/><stop offset="0.826" stop-color="#3ab9e3"/><stop offset="0.939" stop-color="#38abe4"/></radialGradient>
<radialGradient id="gb4_38" cx="993.9" cy="721.3" r="236" gradientUnits="userSpaceOnUse"><stop offset="0.311" stop-color="#5cdeb5"/><stop offset="0.328" stop-color="#51dbc7"/><stop offset="0.345" stop-color="#47d6d5"/><stop offset="0.379" stop-color="#43d1da"/><stop offset="0.672" stop-color="#3cc6e2"/><stop offset="0.805" stop-color="#3ab5e3"/><stop offset="0.939" stop-color="#38a3e4"/></radialGradient>
<radialGradient id="gb4_39" cx="993.9" cy="721.3" r="236" gradientUnits="userSpaceOnUse"><stop offset="0.311" stop-color="#48d8d4"/><stop offset="0.362" stop-color="#42d0db"/><stop offset="0.672" stop-color="#3bc1e2"/><stop offset="0.805" stop-color="#39afe4"/><stop offset="0.939" stop-color="#379ce3"/></radialGradient></defs>
<g clip-path="url(#cpb4)"><g filter="url(#fblur)"><path d="M993.9 721.3 L1231.7 759.0 L1234.4 711.8 Z" fill="url(#gb4_0)"/>
<path d="M993.9 721.3 L1234.5 713.9 L1233.9 702.4 Z" fill="url(#gb4_1)"/>
<path d="M993.9 721.3 L1234.0 704.5 L1233.0 693.0 Z" fill="url(#gb4_2)"/>
<path d="M993.9 721.3 L1233.2 695.1 L1231.7 683.6 Z" fill="url(#gb4_3)"/>
<path d="M993.9 721.3 L1232.0 685.7 L1230.0 674.3 Z" fill="url(#gb4_4)"/>
<path d="M993.9 721.3 L1230.4 676.4 L1228.0 665.1 Z" fill="url(#gb4_5)"/>
<path d="M993.9 721.3 L1228.5 667.1 L1225.6 656.0 Z" fill="url(#gb4_6)"/>
<path d="M993.9 721.3 L1226.1 658.0 L1222.8 646.9 Z" fill="url(#gb4_7)"/>
<path d="M993.9 721.3 L1223.5 648.9 L1219.7 638.0 Z" fill="url(#gb4_8)"/>
<path d="M993.9 721.3 L1220.5 640.0 L1216.3 629.2 Z" fill="url(#gb4_9)"/>
<path d="M993.9 721.3 L1217.1 631.1 L1212.5 620.5 Z" fill="url(#gb4_10)"/>
<path d="M993.9 721.3 L1213.4 622.4 L1208.4 612.0 Z" fill="url(#gb4_11)"/>
<path d="M993.9 721.3 L1209.3 613.9 L1203.9 603.7 Z" fill="url(#gb4_12)"/>
<path d="M993.9 721.3 L1204.9 605.5 L1199.1 595.5 Z" fill="url(#gb4_13)"/>
<path d="M993.9 721.3 L1200.2 597.3 L1194.1 587.6 Z" fill="url(#gb4_14)"/>
<path d="M993.9 721.3 L1195.2 589.3 L1188.6 579.8 Z" fill="url(#gb4_15)"/>
<path d="M993.9 721.3 L1189.9 581.5 L1182.9 572.3 Z" fill="url(#gb4_16)"/>
<path d="M993.9 721.3 L1184.2 573.9 L1176.9 565.0 Z" fill="url(#gb4_17)"/>
<path d="M993.9 721.3 L1178.3 566.6 L1170.7 557.9 Z" fill="url(#gb4_18)"/>
<path d="M993.9 721.3 L1172.1 559.4 L1164.1 551.1 Z" fill="url(#gb4_19)"/>
<path d="M993.9 721.3 L1165.6 552.6 L1157.3 544.5 Z" fill="url(#gb4_20)"/>
<path d="M993.9 721.3 L1158.8 546.0 L1150.2 538.3 Z" fill="url(#gb4_21)"/>
<path d="M993.9 721.3 L1151.8 539.6 L1142.9 532.3 Z" fill="url(#gb4_22)"/>
<path d="M993.9 721.3 L1144.6 533.6 L1135.4 526.6 Z" fill="url(#gb4_23)"/>
<path d="M993.9 721.3 L1137.1 527.8 L1127.6 521.1 Z" fill="url(#gb4_24)"/>
<path d="M993.9 721.3 L1129.4 522.3 L1119.7 516.1 Z" fill="url(#gb4_25)"/>
<path d="M993.9 721.3 L1121.5 517.2 L1111.5 511.3 Z" fill="url(#gb4_26)"/>
<path d="M993.9 721.3 L1113.3 512.3 L1103.2 506.8 Z" fill="url(#gb4_27)"/>
<path d="M993.9 721.3 L1105.1 507.8 L1094.7 502.7 Z" fill="url(#gb4_28)"/>
<path d="M993.9 721.3 L1096.6 503.6 L1086.0 498.9 Z" fill="url(#gb4_29)"/>
<path d="M993.9 721.3 L1088.0 499.7 L1077.2 495.5 Z" fill="url(#gb4_30)"/>
<path d="M993.9 721.3 L1079.2 496.2 L1068.3 492.4 Z" fill="url(#gb4_31)"/>
<path d="M993.9 721.3 L1070.3 493.0 L1059.2 489.6 Z" fill="url(#gb4_32)"/>
<path d="M993.9 721.3 L1061.3 490.2 L1050.1 487.2 Z" fill="url(#gb4_33)"/>
<path d="M993.9 721.3 L1052.1 487.7 L1040.9 485.2 Z" fill="url(#gb4_34)"/>
<path d="M993.9 721.3 L1042.9 485.6 L1031.6 483.5 Z" fill="url(#gb4_35)"/>
<path d="M993.9 721.3 L1033.6 483.9 L1022.2 482.2 Z" fill="url(#gb4_36)"/>
<path d="M993.9 721.3 L1024.3 482.5 L1012.8 481.3 Z" fill="url(#gb4_37)"/>
<path d="M993.9 721.3 L1014.9 481.5 L1003.4 480.8 Z" fill="url(#gb4_38)"/>
<path d="M993.9 721.3 L1005.4 480.9 L956.2 483.5 Z" fill="url(#gb4_39)"/></g></g>
<rect x="87.3" y="174.3" width="1140.8" height="274.6" fill="none" stroke="#000" stroke-width="1.8" stroke-dasharray="9.8 4.2"/>
<rect x="87.3" y="480.6" width="1140.8" height="274.6" fill="none" stroke="#111" stroke-width="1.25" stroke-dasharray="9.8 4.2"/>
<text transform="translate(32.21 166.36) scale(0.9924 0.9983)" font-size="32">(a)</text><text transform="translate(32.20 482.00) scale(1.0029 0.9931)" font-size="32">(b)</text><text transform="translate(33.32 856.27) scale(0.9893 1.0122)" font-size="32">(c)</text><text transform="translate(655.20 856.30) scale(0.9971 1.0069)" font-size="32">(d)</text>
<defs><linearGradient id="cbar" x1="0" y1="1" x2="0" y2="0"><stop offset="0.000" stop-color="#20208f"/><stop offset="0.050" stop-color="#2828b0"/><stop offset="0.100" stop-color="#2c38c8"/><stop offset="0.180" stop-color="#3058dc"/><stop offset="0.240" stop-color="#3080e4"/><stop offset="0.300" stop-color="#30a8ec"/><stop offset="0.360" stop-color="#38d0ec"/><stop offset="0.410" stop-color="#50e4d4"/><stop offset="0.470" stop-color="#70eca0"/><stop offset="0.520" stop-color="#94f064"/><stop offset="0.565" stop-color="#bcf030"/><stop offset="0.610" stop-color="#e0e810"/><stop offset="0.655" stop-color="#e8c400"/><stop offset="0.700" stop-color="#e89400"/><stop offset="0.750" stop-color="#e86400"/><stop offset="0.795" stop-color="#e83400"/><stop offset="0.840" stop-color="#e01000"/><stop offset="0.890" stop-color="#c80000"/><stop offset="0.935" stop-color="#a80000"/><stop offset="1.000" stop-color="#800000"/></linearGradient></defs>
<rect x="157.4" y="208.2" width="6.4" height="229.2" fill="url(#cbar)" stroke="#444" stroke-width="0.9"/>
<rect x="157.4" y="506.4" width="6.4" height="229.0" fill="url(#cbar)" stroke="#444" stroke-width="0.9"/>
<path d="M157 229.4h1.6M164.2 229.4h-1.6" stroke="#222" stroke-width="0.7"/><path d="M157 275.2h1.6M164.2 275.2h-1.6" stroke="#222" stroke-width="0.7"/><path d="M157 321.0h1.6M164.2 321.0h-1.6" stroke="#222" stroke-width="0.7"/><path d="M157 366.8h1.6M164.2 366.8h-1.6" stroke="#222" stroke-width="0.7"/><path d="M157 412.6h1.6M164.2 412.6h-1.6" stroke="#222" stroke-width="0.7"/><path d="M157 521.3h1.6M164.2 521.3h-1.6" stroke="#222" stroke-width="0.7"/><path d="M157 542.5h1.6M164.2 542.5h-1.6" stroke="#222" stroke-width="0.7"/><path d="M157 563.8h1.6M164.2 563.8h-1.6" stroke="#222" stroke-width="0.7"/><path d="M157 585.0h1.6M164.2 585.0h-1.6" stroke="#222" stroke-width="0.7"/><path d="M157 606.3h1.6M164.2 606.3h-1.6" stroke="#222" stroke-width="0.7"/><path d="M157 627.5h1.6M164.2 627.5h-1.6" stroke="#222" stroke-width="0.7"/><path d="M157 648.8h1.6M164.2 648.8h-1.6" stroke="#222" stroke-width="0.7"/><path d="M157 670.0h1.6M164.2 670.0h-1.6" stroke="#222" stroke-width="0.7"/><path d="M157 691.3h1.6M164.2 691.3h-1.6" stroke="#222" stroke-width="0.7"/><path d="M157 712.5h1.6M164.2 712.5h-1.6" stroke="#222" stroke-width="0.7"/><path d="M157 733.8h1.6M164.2 733.8h-1.6" stroke="#222" stroke-width="0.7"/>
<text x="168.6" y="237.1" font-size="23.3">-6</text><text x="168.6" y="282.9" font-size="23.3">-10</text><text x="168.6" y="328.7" font-size="23.3">-14</text><text x="168.6" y="374.5" font-size="23.3">-18</text><text x="168.6" y="420.3" font-size="23.3">-22</text><text transform="translate(164.21 204.50) scale(1.0446 1.0000)" font-size="24">×10</text><text transform="translate(203.74 197.30) scale(0.9280 1.0000)" font-size="16.5">-5</text>
<text transform="translate(166.69 529.40) scale(1.0087 1.0215)" font-size="24.5">2.0</text><text transform="translate(165.33 571.90) scale(1.0545 1.0215)" font-size="24.5">1.8</text><text transform="translate(165.35 614.40) scale(1.0450 1.0215)" font-size="24.5">1.6</text><text transform="translate(165.37 656.90) scale(1.0357 1.0215)" font-size="24.5">1.4</text><text transform="translate(165.28 699.40) scale(1.0741 1.0215)" font-size="24.5">1.2</text><text transform="translate(165.33 741.90) scale(1.0545 1.0215)" font-size="24.5">1.0</text>
<text transform="translate(112.20 305.06) scale(1.3143 0.9756)" font-size="30" class="it">μ</text><line x1="101.6" y1="316.3" x2="141.4" y2="316.3" stroke="#000" stroke-width="1.4"/><text transform="translate(103.61 348.40) scale(1.0862 0.9667)" font-size="30" class="it">kT</text><text transform="translate(109.42 629.73) scale(1.3500 1.0914)" font-size="30" class="it">J</text>
<g fill="#ff0000" stroke="none"><rect x="295.7" y="366.2" width="3.8" height="48.0"/><rect x="295.7" y="410.4" width="48.0" height="3.8"/><path d="M297.6 354.2 L305.4 369.2 L297.6 364.7 L289.8 369.2 Z"/><path d="M356.1 412.3 L341.1 404.5 L345.6 412.3 L341.1 420.1 Z"/></g><text transform="translate(313.04 366.00) scale(0.9778 0.9854)" font-size="30" class="it" fill="#ff0000">y</text><text transform="translate(361.45 419.60) scale(1.0189 0.9643)" font-size="30" class="it" fill="#ff0000">x</text><text transform="translate(297.35 439.70) scale(1.0000 1.0209)" font-size="25.5" fill="#ff0000">A</text>
<g fill="#ff0000" stroke="none"><rect x="295.3" y="674.2" width="3.8" height="48.0"/><rect x="295.3" y="718.4" width="48.0" height="3.8"/><path d="M297.2 662.2 L305.0 677.2 L297.2 672.7 L289.4 677.2 Z"/><path d="M355.7 720.3 L340.7 712.5 L345.2 720.3 L340.7 728.1 Z"/></g><text transform="translate(312.64 674.00) scale(0.9778 0.9854)" font-size="30" class="it" fill="#ff0000">y</text><text transform="translate(361.05 727.60) scale(1.0189 0.9643)" font-size="30" class="it" fill="#ff0000">x</text><text transform="translate(296.95 747.70) scale(1.0000 1.0209)" font-size="25.5" fill="#ff0000">A</text>
<g><text transform="translate(120.06 803.30) scale(0.9565 0.9261)" font-size="30" class="it" style="font-family:'DejaVu Serif','Liberation Serif',serif">λ</text><text transform="translate(142.51 803.30) scale(1.1927 1.0000)" font-size="29.8">=</text><text transform="translate(166.52 803.30) scale(0.9906 1.0000)" font-size="29.8">1.61</text></g>
<g><text transform="translate(288.75 803.30) scale(0.9507 0.9261)" font-size="30" class="it" style="font-family:'DejaVu Serif','Liberation Serif',serif">λ</text><text transform="translate(310.38 803.30) scale(1.2145 1.0000)" font-size="29.8">=</text><text transform="translate(335.59 803.30) scale(1.0513 1.0000)" font-size="29.8">0.83</text><circle cx="297.8" cy="776.2" r="1.75" fill="#000"/></g>
<g><text transform="translate(503.27 803.30) scale(0.9681 0.9261)" font-size="30" class="it" style="font-family:'DejaVu Serif','Liberation Serif',serif">λ</text><text transform="translate(525.58 803.30) scale(1.2145 1.0000)" font-size="29.8">=</text><text transform="translate(549.58 803.30) scale(1.0092 1.0000)" font-size="29.8">1.67</text><text transform="translate(605.00 803.30) scale(1.2417 1.0000)" font-size="29.8">×</text><text transform="translate(627.51 803.30) scale(0.9143 1.0000)" font-size="29.8">10</text><text transform="translate(656.70 790.70) scale(1.0028 1.0000)" font-size="18.2">−3</text><circle cx="513.3" cy="776.2" r="1.75" fill="#000"/></g>
<g><text transform="translate(769.63 803.30) scale(0.9275 0.9261)" font-size="30" class="it" style="font-family:'DejaVu Serif','Liberation Serif',serif">λ</text><text transform="translate(792.00 803.30) scale(1.2000 1.0000)" font-size="29.8">=</text><text transform="translate(817.03 803.30) scale(1.0187 1.0000)" font-size="29.8">8.3</text><text transform="translate(856.30 803.30) scale(1.2417 1.0000)" font-size="29.8">×</text><text transform="translate(878.81 803.30) scale(0.9143 1.0000)" font-size="29.8">10</text><text transform="translate(907.97 790.70) scale(1.0310 1.0000)" font-size="18.2">−5</text><circle cx="779.5" cy="776.2" r="1.75" fill="#000"/></g>
<g><text transform="translate(1036.36 803.30) scale(0.9565 0.9261)" font-size="30" class="it" style="font-family:'DejaVu Serif','Liberation Serif',serif">λ</text><text transform="translate(1058.62 803.30) scale(1.2509 1.0000)" font-size="29.8">=</text><text transform="translate(1082.72 803.30) scale(0.7905 1.0000)" font-size="29.8">1</text><text transform="translate(1096.44 803.30) scale(1.1833 1.0000)" font-size="29.8">×</text><text transform="translate(1117.66 803.30) scale(0.9371 1.0000)" font-size="29.8">10</text><text transform="translate(1147.47 790.70) scale(1.0310 1.0000)" font-size="18.2">−6</text><text transform="translate(1176.60 803.30) scale(1.0303 1.0000)" font-size="29.8">/</text><text transform="translate(1190.68 803.30) scale(1.0595 1.0000)" font-size="29.8">s</text><circle cx="1046.4" cy="776.2" r="1.75" fill="#000"/></g>
<g>
<clipPath id="cpc"><rect x="170.6" y="877.5" width="439.3" height="390.0"/></clipPath>
<g clip-path="url(#cpc)">
<line x1="156.7" y1="881.0" x2="614.9" y2="881.0" stroke="#555" stroke-width="3.4" stroke-dasharray="6.2 11.2" stroke-linecap="round"/>
<line x1="170.6" y1="945.9" x2="609.9" y2="945.9" stroke="#4c4c4c" stroke-width="3.5"/>
<path d="M170.6 1017.9 L173.6 1017.9 L176.6 1017.8 L179.6 1017.8 L182.6 1017.8 L185.6 1017.7 L188.6 1017.7 L191.6 1017.6 L194.6 1017.6 L197.6 1017.5 L200.6 1017.5 L203.6 1017.4 L206.6 1017.3 L209.6 1017.3 L212.6 1017.2 L215.6 1017.1 L218.6 1017.1 L221.6 1017.0 L224.6 1016.9 L227.6 1016.8 L230.6 1016.8 L233.6 1016.7 L236.6 1016.6 L239.6 1016.5 L242.6 1016.4 L245.6 1016.3 L248.6 1016.2 L251.6 1016.1 L254.6 1015.9 L257.6 1015.8 L260.6 1015.7 L263.6 1015.6 L266.6 1015.5 L269.6 1015.3 L272.6 1015.2 L275.6 1015.1 L278.6 1015.0 L281.6 1014.9 L284.6 1014.8 L287.5 1014.7 L290.5 1014.5 L293.5 1014.4 L296.5 1014.3 L299.5 1014.2 L302.5 1014.1 L305.5 1014.0 L308.5 1013.8 L311.5 1013.7 L314.5 1013.6 L317.5 1013.5 L320.5 1013.3 L323.5 1013.2 L326.5 1013.1 L329.5 1013.0 L332.5 1012.9 L335.5 1012.7 L338.5 1012.6 L341.5 1012.5 L344.5 1012.3 L347.5 1012.2 L350.5 1012.1 L353.5 1012.0 L356.5 1011.8 L359.5 1011.7 L362.5 1011.6 L365.5 1011.4 L368.5 1011.3 L371.5 1011.1 L374.5 1011.0 L377.5 1010.8 L380.5 1010.7 L383.5 1010.5 L386.5 1010.3 L389.5 1010.2 L392.4 1010.0 L395.4 1009.8 L398.4 1009.6 L401.4 1009.4 L404.4 1009.2 L407.4 1009.0 L410.4 1008.9 L413.4 1008.7 L416.4 1008.5 L419.4 1008.3 L422.4 1008.1 L425.4 1007.9 L428.4 1007.8 L431.4 1007.6 L434.4 1007.4 L437.4 1007.2 L440.4 1007.0 L443.3 1006.8 L446.3 1006.6 L449.3 1006.4 L452.3 1006.2 L455.3 1006.0 L458.3 1005.8 L461.3 1005.6 L464.3 1005.4 L467.3 1005.2 L470.3 1005.0 L473.3 1004.8 L476.3 1004.5 L479.3 1004.3 L482.3 1004.1 L485.2 1003.8 L488.2 1003.6 L491.2 1003.4 L494.2 1003.1 L497.2 1002.9 L500.2 1002.6 L503.2 1002.4 L506.2 1002.1 L509.2 1001.9 L512.2 1001.6 L515.1 1001.3 L518.1 1001.1 L521.1 1000.8 L524.1 1000.6 L527.1 1000.3 L530.1 1000.0 L533.1 999.8 L536.1 999.5 L539.0 999.3 L542.0 999.0 L545.0 998.8 L548.0 998.5 L551.0 998.3 L554.0 998.0 L557.0 997.7 L560.0 997.5 L563.0 997.2 L566.0 997.0 L568.9 996.7 L571.9 996.5 L574.9 996.2 L577.9 996.0 L580.9 995.7 L583.9 995.4 L586.9 995.2 L589.9 994.9 L592.9 994.7 L595.8 994.4 L598.8 994.2 L601.8 993.9 L604.8 993.6 L607.8 993.4 L609.9 993.2" fill="none" stroke="#e93036" stroke-width="3.4" stroke-linejoin="round" />
<path d="M170.6 1094.8 L173.6 1094.8 L176.6 1094.8 L179.6 1094.8 L182.6 1094.8 L185.6 1094.7 L188.6 1094.4 L191.6 1094.0 L194.5 1093.6 L197.5 1093.1 L200.5 1092.7 L203.4 1092.3 L206.4 1091.8 L209.4 1091.2 L212.3 1090.6 L215.2 1090.0 L218.2 1089.3 L221.1 1088.6 L224.0 1087.9 L226.9 1087.1 L229.8 1086.3 L232.7 1085.4 L235.5 1084.4 L238.4 1083.4 L241.2 1082.4 L244.0 1081.4 L246.8 1080.4 L249.6 1079.2 L252.4 1078.1 L255.2 1076.9 L257.9 1075.8 L260.7 1074.7 L263.5 1073.6 L266.3 1072.5 L269.1 1071.5 L271.9 1070.4 L274.7 1069.3 L277.5 1068.2 L280.3 1067.1 L283.1 1066.0 L285.9 1064.8 L288.6 1063.7 L291.4 1062.6 L294.2 1061.5 L297.0 1060.4 L299.8 1059.3 L302.6 1058.3 L305.4 1057.2 L308.2 1056.2 L311.1 1055.2 L313.9 1054.3 L316.7 1053.3 L319.6 1052.4 L322.4 1051.4 L325.3 1050.5 L328.1 1049.6 L331.0 1048.7 L333.9 1047.9 L336.8 1047.0 L339.6 1046.2 L342.5 1045.4 L345.4 1044.6 L348.3 1043.8 L351.2 1043.0 L354.1 1042.3 L357.0 1041.6 L359.9 1040.9 L362.8 1040.2 L365.8 1039.5 L368.7 1038.8 L371.6 1038.1 L374.5 1037.4 L377.4 1036.7 L380.4 1036.0 L383.3 1035.3 L386.2 1034.7 L389.1 1034.0 L392.1 1033.4 L395.0 1032.7 L397.9 1032.1 L400.9 1031.4 L403.8 1030.8 L406.7 1030.1 L409.6 1029.5 L412.6 1028.9 L415.5 1028.3 L418.5 1027.7 L421.4 1027.0 L424.3 1026.4 L427.3 1025.8 L430.2 1025.2 L433.1 1024.5 L436.1 1023.9 L439.0 1023.2 L441.9 1022.6 L444.8 1021.9 L447.8 1021.3 L450.7 1020.7 L453.6 1020.0 L456.6 1019.4 L459.5 1018.8 L462.4 1018.2 L465.4 1017.6 L468.3 1017.0 L471.3 1016.5 L474.2 1015.9 L477.2 1015.4 L480.1 1014.9 L483.1 1014.4 L486.0 1013.9 L489.0 1013.4 L492.0 1012.9 L494.9 1012.5 L497.9 1012.0 L500.9 1011.5 L503.8 1011.1 L506.8 1010.6 L509.8 1010.2 L512.7 1009.7 L515.7 1009.3 L518.7 1008.9 L521.6 1008.4 L524.6 1008.0 L527.6 1007.5 L530.5 1007.1 L533.5 1006.7 L536.5 1006.2 L539.4 1005.8 L542.4 1005.4 L545.4 1005.0 L548.3 1004.5 L551.3 1004.1 L554.3 1003.7 L557.3 1003.3 L560.2 1002.9 L563.2 1002.6 L566.2 1002.2 L569.2 1001.8 L572.1 1001.5 L575.1 1001.1 L578.1 1000.7 L581.1 1000.4 L584.1 1000.1 L587.0 999.7 L590.0 999.4 L593.0 999.1 L596.0 998.7 L599.0 998.4 L601.9 998.1 L604.9 997.8 L607.9 997.5 L609.9 997.3" fill="none" stroke="#1f63e0" stroke-width="3.4" stroke-linejoin="round" />
<path d="M170.6 1254.6 L171.9 1251.9 L173.1 1249.1 L174.3 1246.3 L175.6 1243.6 L176.8 1240.8 L177.8 1237.8 L178.7 1234.8 L179.4 1231.8 L180.0 1228.8 L180.6 1225.9 L181.1 1222.9 L181.6 1219.9 L182.1 1216.9 L182.6 1213.9 L183.1 1210.9 L183.6 1208.0 L184.1 1205.0 L184.6 1202.0 L185.2 1199.1 L185.7 1196.1 L186.2 1193.2 L186.7 1190.2 L187.3 1187.3 L187.9 1184.4 L188.5 1181.4 L189.1 1178.5 L189.7 1175.6 L190.4 1172.7 L191.0 1169.7 L191.7 1166.8 L192.4 1163.9 L193.1 1161.0 L193.8 1158.1 L194.4 1155.1 L195.2 1152.2 L195.9 1149.4 L196.7 1146.6 L197.6 1143.8 L198.6 1141.0 L199.8 1138.3 L201.0 1135.6 L202.2 1132.9 L203.5 1130.2 L204.7 1127.5 L206.0 1124.8 L207.3 1122.2 L208.7 1119.5 L210.2 1116.9 L211.7 1114.4 L213.2 1111.8 L214.8 1109.4 L216.5 1107.0 L218.4 1104.8 L220.3 1102.5 L222.4 1100.4 L224.4 1098.2 L226.6 1096.2 L228.8 1094.2 L231.0 1092.3 L233.3 1090.3 L235.6 1088.4 L237.9 1086.5 L240.2 1084.5 L242.5 1082.7 L244.9 1081.0 L247.4 1079.3 L249.9 1077.7 L252.5 1076.2 L255.1 1074.7 L257.7 1073.3 L260.4 1071.9 L263.0 1070.5 L265.7 1069.2 L268.4 1067.9 L271.1 1066.8 L273.9 1065.7 L276.7 1064.6 L279.5 1063.6 L282.4 1062.6 L285.2 1061.6 L288.0 1060.6 L290.8 1059.5 L293.7 1058.5 L296.5 1057.5 L299.3 1056.5 L302.1 1055.5 L305.0 1054.5 L307.8 1053.6 L310.7 1052.7 L313.5 1051.8 L316.4 1051.0 L319.3 1050.2 L322.2 1049.4 L325.1 1048.6 L328.0 1047.8 L330.9 1047.1 L333.8 1046.4 L336.7 1045.7 L339.6 1045.0 L342.6 1044.3 L345.5 1043.7 L348.4 1043.0 L351.3 1042.4 L354.3 1041.7 L357.2 1041.0 L360.1 1040.4 L363.0 1039.7 L366.0 1039.0 L368.9 1038.4 L371.8 1037.7 L374.7 1037.0 L377.7 1036.4 L380.6 1035.7 L383.5 1035.0 L386.4 1034.3 L389.4 1033.6 L392.3 1033.0 L395.2 1032.3 L398.1 1031.6 L401.1 1031.0 L404.0 1030.3 L406.9 1029.7 L409.8 1029.1 L412.8 1028.4 L415.7 1027.8 L418.7 1027.2 L421.6 1026.6 L424.5 1026.0 L427.5 1025.4 L430.4 1024.7 L433.3 1024.1 L436.3 1023.4 L439.2 1022.8 L442.1 1022.1 L445.0 1021.5 L448.0 1020.8 L450.9 1020.2 L453.8 1019.5 L456.8 1018.9 L459.7 1018.3 L462.6 1017.7 L465.6 1017.1 L468.5 1016.5 L471.5 1015.9 L474.4 1015.4 L477.4 1014.9 L480.3 1014.4 L483.3 1013.8 L486.2 1013.4 L489.2 1012.9 L492.1 1012.4 L495.1 1011.9 L498.1 1011.5 L501.0 1011.0 L504.0 1010.6 L507.0 1010.1 L509.9 1009.7 L512.9 1009.2 L515.9 1008.8 L518.8 1008.3 L521.8 1007.9 L524.8 1007.4 L527.7 1007.0 L530.7 1006.6 L533.7 1006.1 L536.6 1005.7 L539.6 1005.3 L542.6 1004.9 L545.6 1004.4 L548.5 1004.0 L551.5 1003.6 L554.5 1003.2 L557.4 1002.8 L560.4 1002.4 L563.4 1002.0 L566.4 1001.7 L569.3 1001.3 L572.3 1000.9 L575.3 1000.6 L578.3 1000.2 L581.3 999.9 L584.2 999.5 L587.2 999.2 L590.2 998.8 L593.2 998.5 L596.2 998.2 L599.1 997.8 L602.1 997.5 L605.1 997.2 L608.1 996.9 L609.9 996.7" fill="none" stroke="#3ea65f" stroke-width="3.4" stroke-linejoin="round" />
</g>
<rect x="170.6" y="877.5" width="439.3" height="390.0" fill="none" stroke="#111" stroke-width="1.7"/>
<path d="M219.4 1267.5v-3.8M268.2 1267.5v-6.6M317.0 1267.5v-3.8M365.8 1267.5v-6.6M414.7 1267.5v-3.8M463.5 1267.5v-6.6M512.3 1267.5v-3.8M561.1 1267.5v-6.6M609.9 1267.5v-3.8M170.6 916.5h3.8M170.6 955.5h6.6M170.6 994.5h3.8M170.6 1033.5h6.6M170.6 1072.5h3.8M170.6 1111.5h6.6M170.6 1150.5h3.8M170.6 1189.5h6.6M170.6 1228.5h3.8" stroke="#111" stroke-width="1.6" fill="none"/>
<text transform="translate(125.83 885.50) scale(1.0657 1.0545)" font-size="28.5">0.0</text><text transform="translate(115.12 964.50) scale(1.0791 1.0545)" font-size="28.5">-0.5</text><text transform="translate(115.12 1042.50) scale(1.0791 1.0545)" font-size="28.5">-1.0</text><text transform="translate(115.12 1120.50) scale(1.0791 1.0684)" font-size="28.5">-1.5</text><text transform="translate(115.12 1198.50) scale(1.0791 1.0545)" font-size="28.5">-2.0</text><text transform="translate(115.12 1276.50) scale(1.0791 1.0684)" font-size="28.5">-2.5</text>
<text transform="translate(153.55 1298.70) scale(1.0000 1.0545)" font-size="28.5">0.0</text><text transform="translate(251.42 1298.70) scale(1.0000 1.0545)" font-size="28.5">0.2</text><text transform="translate(348.42 1298.70) scale(1.0000 1.0545)" font-size="28.5">0.4</text><text transform="translate(446.29 1298.70) scale(1.0000 1.0545)" font-size="28.5">0.6</text><text transform="translate(544.04 1298.70) scale(1.0000 1.0545)" font-size="28.5">0.8</text>
<text transform="translate(186.34 1348.00) scale(1.0176 1.0000)" font-size="30">Distance from the crack tip (mm)</text>
<g transform="translate(105.7 1272.6) rotate(-90)"><text x="0" y="0" font-size="31.5" textLength="398" lengthAdjust="spacingAndGlyphs">Chemical potential: <tspan class="it">μ</tspan>/<tspan class="it">kT</tspan> (×10<tspan dy="-10" font-size="20">-4</tspan><tspan dy="10">)</tspan></text></g>
<g><text transform="translate(245.23 935.80) scale(0.9672 0.9405)" font-size="25.3" class="it" style="font-family:'DejaVu Serif','Liberation Serif',serif">λ</text><text transform="translate(264.28 935.80) scale(1.2443 1.0000)" font-size="25.3">=</text><text transform="translate(284.64 935.80) scale(0.7839 1.0000)" font-size="25.3">1</text><text transform="translate(296.54 935.80) scale(1.1776 1.0000)" font-size="25.3">×</text><text transform="translate(314.27 935.80) scale(0.9505 1.0000)" font-size="25.3">10</text><text transform="translate(339.87 925.09) scale(1.0200 1.0000)" font-size="15.47">−6</text><text transform="translate(364.52 935.80) scale(1.0321 1.0000)" font-size="25.3">/</text><text transform="translate(376.57 935.80) scale(1.0412 1.0000)" font-size="25.3">s</text><circle cx="253.8" cy="912.8" r="1.5" fill="#000"/></g>
<g><text transform="translate(226.16 1006.20) scale(0.9402 1.0000)" font-size="25" fill="#ee1c25">8.3</text><text transform="translate(256.92 1006.20) scale(1.1900 1.0000)" font-size="25" fill="#ee1c25">×</text><text transform="translate(274.20 1006.20) scale(1.1126 1.0000)" font-size="25" fill="#ee1c25">10</text><text transform="translate(302.62 995.20) scale(1.0357 1.0000)" font-size="14.5" fill="#ee1c25">−5</text></g>
<g><text transform="translate(178.95 1064.20) scale(1.0430 1.0000)" font-size="24.3" fill="#1a5fd8">1.67</text><text transform="translate(225.59 1064.20) scale(1.3538 1.0000)" font-size="24.3" fill="#1a5fd8">×</text><text transform="translate(243.21 1064.20) scale(1.1048 1.0000)" font-size="24.3" fill="#1a5fd8">10</text><text transform="translate(270.25 1056.80) scale(0.8941 1.0000)" font-size="16.7" fill="#1a5fd8">-3</text></g>
<text transform="translate(210.53 1155.80) scale(1.0716 1.0000)" font-size="24.3" fill="#2fa457">0.83</text>
<line x1="462.6" y1="888.9" x2="506.5" y2="908.2" stroke="#000" stroke-width="2.8" stroke-dasharray="9 4.2"/>
<path d="M516.4 912.3 L499.2 913.6 L507.6 908.8 L505.4 899.4 Z" fill="#000"/>
<text transform="translate(525.70 900.73) scale(1.2784 1.0027)" font-size="27" class="it">μ</text><text transform="translate(542.27 907.50) scale(1.2667 1.0000)" font-size="13.8">0</text><line x1="521.9" y1="911.3" x2="556.9" y2="911.3" stroke="#000" stroke-width="1.1"/>
<text transform="translate(523.31 940.60) scale(1.0584 0.9818)" font-size="27.5" class="it">kT</text>
</g>
<g>
<clipPath id="cpd"><rect x="752.9" y="872.6" width="441.6" height="393.4"/></clipPath>
<g clip-path="url(#cpd)">
<path d="M752.9 878.9 L753.4 882.2 L753.9 885.4 L754.4 888.5 L754.9 891.7 L755.4 894.7 L755.9 897.8 L756.4 900.9 L756.9 904.0 L757.4 906.9 L757.9 909.9 L758.5 912.8 L759.2 915.7 L759.8 918.6 L760.5 921.5 L761.3 924.4 L762.1 927.3 L762.8 930.2 L763.7 933.0 L764.5 935.9 L765.3 938.8 L766.2 941.6 L767.1 944.5 L768.0 947.3 L769.0 950.1 L769.9 953.0 L770.9 955.8 L771.9 958.6 L773.0 961.4 L774.0 964.2 L775.1 966.9 L776.2 969.7 L777.4 972.4 L778.6 975.1 L779.8 977.8 L781.1 980.5 L782.5 983.1 L783.9 985.8 L785.3 988.4 L786.8 991.0 L788.2 993.6 L789.8 996.1 L791.3 998.7 L792.8 1001.3 L794.4 1003.8 L795.9 1006.4 L797.5 1008.9 L799.2 1011.3 L800.9 1013.7 L802.7 1016.2 L804.5 1018.5 L806.3 1020.9 L808.2 1023.2 L810.1 1025.5 L812.0 1027.7 L814.0 1029.9 L816.1 1032.0 L818.3 1034.1 L820.5 1036.1 L822.7 1038.0 L825.0 1039.9 L827.4 1041.7 L829.7 1043.6 L832.1 1045.4 L834.5 1047.2 L836.9 1049.0 L839.3 1050.8 L841.7 1052.5 L844.2 1054.2 L846.7 1055.9 L849.2 1057.5 L851.7 1059.2 L854.2 1060.8 L856.8 1062.3 L859.3 1063.9 L861.9 1065.4 L864.5 1066.9 L867.0 1068.5 L869.6 1070.0 L872.2 1071.5 L874.8 1073.0 L877.4 1074.5 L880.1 1075.9 L882.7 1077.3 L885.3 1078.7 L888.0 1080.1 L890.6 1081.5 L893.3 1082.9 L896.0 1084.2 L898.7 1085.6 L901.4 1086.9 L904.1 1088.2 L906.8 1089.5 L909.5 1090.7 L912.2 1092.0 L914.9 1093.2 L917.7 1094.4 L920.4 1095.6 L923.2 1096.8 L926.0 1097.9 L928.7 1099.1 L931.5 1100.3 L934.3 1101.4 L937.0 1102.5 L939.8 1103.6 L942.6 1104.8 L945.4 1105.9 L948.2 1107.0 L951.0 1108.0 L953.8 1109.1 L956.6 1110.2 L959.3 1111.3 L962.1 1112.4 L964.9 1113.5 L967.7 1114.6 L970.5 1115.7 L973.3 1116.8 L976.1 1117.8 L979.0 1118.8 L981.8 1119.8 L984.6 1120.8 L987.5 1121.7 L990.3 1122.6 L993.2 1123.6 L996.0 1124.5 L998.9 1125.4 L1001.8 1126.3 L1004.6 1127.2 L1007.5 1128.0 L1010.3 1128.9 L1013.2 1129.8 L1016.1 1130.7 L1018.9 1131.6 L1021.8 1132.4 L1024.7 1133.3 L1027.6 1134.1 L1030.5 1135.0 L1033.3 1135.8 L1036.2 1136.6 L1039.1 1137.4 L1042.0 1138.1 L1044.9 1138.9 L1047.8 1139.6 L1050.7 1140.4 L1053.6 1141.1 L1056.6 1141.8 L1059.5 1142.5 L1062.4 1143.1 L1065.3 1143.8 L1068.3 1144.5 L1071.2 1145.1 L1074.1 1145.8 L1077.0 1146.5 L1080.0 1147.1 L1082.9 1147.8 L1085.8 1148.4 L1088.7 1149.1 L1091.7 1149.7 L1094.6 1150.4 L1097.5 1151.0 L1100.5 1151.7 L1103.4 1152.3 L1106.3 1152.9 L1109.3 1153.6 L1112.2 1154.2 L1115.1 1154.8 L1118.1 1155.3 L1121.0 1155.9 L1124.0 1156.4 L1126.9 1156.9 L1129.9 1157.5 L1132.8 1158.0 L1135.8 1158.5 L1138.8 1158.9 L1141.7 1159.4 L1144.7 1159.9 L1147.6 1160.3 L1150.6 1160.8 L1153.6 1161.2 L1156.5 1161.7 L1159.5 1162.1 L1162.5 1162.6 L1165.4 1163.0 L1168.4 1163.4 L1171.4 1163.8 L1174.4 1164.2 L1177.3 1164.7 L1180.3 1165.1 L1183.3 1165.5 L1186.2 1165.8 L1189.2 1166.2 L1192.2 1166.6 L1194.5 1166.9" fill="none" stroke="#4c4c4c" stroke-width="3.4" stroke-linejoin="round" />
<path d="M752.9 1034.0 L753.4 1037.4 L753.9 1040.8 L754.4 1043.9 L754.9 1046.9 L755.4 1049.9 L756.0 1052.8 L756.6 1055.7 L757.2 1058.7 L757.8 1061.6 L758.5 1064.5 L759.2 1067.4 L759.9 1070.3 L760.6 1073.2 L761.4 1076.1 L762.2 1078.9 L763.0 1081.8 L763.8 1084.7 L764.7 1087.5 L765.6 1090.3 L766.6 1093.2 L767.5 1096.0 L768.5 1098.8 L769.6 1101.6 L770.7 1104.3 L771.8 1107.1 L773.0 1109.8 L774.2 1112.5 L775.5 1115.1 L776.8 1117.8 L778.2 1120.4 L779.7 1123.0 L781.2 1125.5 L782.8 1128.0 L784.5 1130.4 L786.2 1132.9 L787.9 1135.2 L789.8 1137.5 L791.7 1139.8 L793.7 1141.9 L795.8 1144.1 L797.9 1146.1 L800.1 1148.1 L802.4 1150.0 L804.7 1151.9 L807.1 1153.7 L809.6 1155.4 L812.0 1157.0 L814.6 1158.6 L817.1 1160.1 L819.8 1161.5 L822.4 1162.9 L825.1 1164.1 L827.8 1165.3 L830.6 1166.5 L833.4 1167.6 L836.2 1168.7 L839.0 1169.8 L841.8 1170.8 L844.6 1171.9 L847.4 1173.0 L850.2 1174.0 L853.0 1175.0 L855.8 1176.0 L858.7 1177.0 L861.5 1177.9 L864.4 1178.7 L867.3 1179.5 L870.2 1180.2 L873.1 1181.0 L876.0 1181.7 L878.9 1182.3 L881.9 1183.0 L884.8 1183.7 L887.7 1184.4 L890.6 1185.1 L893.6 1185.8 L896.5 1186.4 L899.4 1187.1 L902.3 1187.7 L905.3 1188.3 L908.2 1189.0 L911.1 1189.6 L914.1 1190.2 L917.0 1190.7 L920.0 1191.3 L922.9 1191.9 L925.9 1192.4 L928.8 1193.0 L931.8 1193.5 L934.7 1194.1 L937.7 1194.6 L940.6 1195.1 L943.6 1195.7 L946.5 1196.2 L949.5 1196.7 L952.4 1197.2 L955.4 1197.7 L958.3 1198.2 L961.3 1198.6 L964.3 1199.1 L967.2 1199.5 L970.2 1199.9 L973.2 1200.3 L976.2 1200.7 L979.1 1201.1 L982.1 1201.5 L985.1 1201.8 L988.1 1202.2 L991.0 1202.5 L994.0 1202.9 L997.0 1203.2 L1000.0 1203.6 L1003.0 1203.9 L1005.9 1204.2 L1008.9 1204.6 L1011.9 1204.9 L1014.9 1205.2 L1017.9 1205.5 L1020.9 1205.8 L1023.8 1206.1 L1026.8 1206.4 L1029.8 1206.7 L1032.8 1207.0 L1035.8 1207.3 L1038.8 1207.6 L1041.8 1207.9 L1044.7 1208.2 L1047.7 1208.4 L1050.7 1208.7 L1053.7 1209.0 L1056.7 1209.3 L1059.7 1209.5 L1062.7 1209.8 L1065.7 1210.0 L1068.7 1210.3 L1071.6 1210.5 L1074.6 1210.8 L1077.6 1211.0 L1080.6 1211.2 L1083.6 1211.4 L1086.6 1211.6 L1089.6 1211.9 L1092.6 1212.1 L1095.6 1212.3 L1098.6 1212.4 L1101.6 1212.6 L1104.6 1212.8 L1107.6 1213.0 L1110.5 1213.2 L1113.5 1213.4 L1116.5 1213.5 L1119.5 1213.7 L1122.5 1213.9 L1125.5 1214.0 L1128.5 1214.2 L1131.5 1214.4 L1134.5 1214.5 L1137.5 1214.7 L1140.5 1214.8 L1143.5 1214.9 L1146.5 1215.1 L1149.5 1215.2 L1152.5 1215.4 L1155.5 1215.5 L1158.5 1215.6 L1161.5 1215.8 L1164.5 1215.9 L1167.5 1216.0 L1170.5 1216.1 L1173.5 1216.3 L1176.5 1216.4 L1179.5 1216.5 L1182.5 1216.6 L1185.5 1216.7 L1188.5 1216.8 L1191.5 1216.9 L1194.5 1217.0 L1194.5 1217.0" fill="none" stroke="#e93036" stroke-width="3.4" stroke-linejoin="round" />
<path d="M752.9 1107.9 L753.4 1111.2 L753.9 1114.3 L754.4 1117.3 L754.9 1120.3 L755.5 1123.2 L756.2 1126.1 L756.9 1129.0 L757.6 1131.9 L758.4 1134.7 L759.2 1137.6 L760.0 1140.5 L760.8 1143.4 L761.6 1146.3 L762.5 1149.1 L763.4 1152.0 L764.3 1154.8 L765.2 1157.6 L766.2 1160.4 L767.2 1163.2 L768.3 1166.0 L769.4 1168.8 L770.5 1171.5 L771.7 1174.2 L772.9 1176.8 L774.3 1179.4 L775.8 1182.0 L777.4 1184.5 L779.0 1186.9 L780.7 1189.3 L782.6 1191.6 L784.5 1193.8 L786.5 1195.9 L788.6 1198.0 L790.8 1200.0 L793.1 1201.9 L795.5 1203.7 L797.9 1205.4 L800.4 1207.1 L802.9 1208.6 L805.5 1210.1 L808.1 1211.5 L810.8 1212.8 L813.5 1214.0 L816.3 1215.0 L819.1 1215.9 L822.0 1216.8 L824.9 1217.5 L827.8 1218.2 L830.7 1218.9 L833.7 1219.5 L836.6 1220.1 L839.6 1220.6 L842.5 1221.0 L845.5 1221.3 L848.5 1221.6 L851.5 1221.8 L854.5 1222.1 L857.5 1222.2 L860.5 1222.3 L863.5 1222.3 L866.5 1222.3 L869.5 1222.3 L872.5 1222.3 L875.5 1222.3 L878.5 1222.3 L881.5 1222.3 L884.5 1222.3 L887.5 1222.3 L890.5 1222.2 L893.5 1222.1 L896.5 1222.1 L899.5 1222.0 L902.5 1221.9 L905.5 1221.8 L908.5 1221.7 L911.5 1221.6 L914.5 1221.4 L917.5 1221.3 L920.4 1221.2 L923.4 1221.0 L926.4 1220.9 L929.4 1220.8 L932.4 1220.7 L935.4 1220.6 L938.4 1220.5 L941.4 1220.4 L944.4 1220.3 L947.4 1220.2 L950.4 1220.2 L953.4 1220.1 L956.4 1220.0 L959.4 1220.0 L962.4 1219.9 L965.4 1219.8 L968.4 1219.8 L971.4 1219.8 L974.4 1219.7 L977.4 1219.7 L980.4 1219.7 L983.4 1219.7 L986.4 1219.7 L989.4 1219.7 L992.4 1219.7 L995.4 1219.7 L998.4 1219.7 L1001.4 1219.7 L1004.4 1219.7 L1007.4 1219.7 L1010.4 1219.7 L1013.4 1219.7 L1016.4 1219.7 L1019.4 1219.7 L1022.4 1219.7 L1025.4 1219.7 L1028.4 1219.7 L1031.4 1219.7 L1034.4 1219.6 L1037.4 1219.6 L1040.4 1219.6 L1043.4 1219.6 L1046.4 1219.6 L1049.4 1219.6 L1052.4 1219.6 L1055.4 1219.6 L1058.4 1219.6 L1061.4 1219.6 L1064.4 1219.6 L1067.4 1219.6 L1070.4 1219.6 L1073.4 1219.6 L1076.4 1219.6 L1079.4 1219.6 L1082.4 1219.6 L1085.4 1219.6 L1088.4 1219.6 L1091.4 1219.6 L1094.4 1219.6 L1097.4 1219.6 L1100.4 1219.6 L1103.4 1219.6 L1106.4 1219.6 L1109.4 1219.6 L1112.4 1219.6 L1115.4 1219.6 L1118.4 1219.6 L1121.4 1219.6 L1124.4 1219.6 L1127.4 1219.6 L1130.4 1219.6 L1133.4 1219.6 L1136.4 1219.6 L1139.4 1219.6 L1142.4 1219.6 L1145.4 1219.6 L1148.4 1219.6 L1151.4 1219.6 L1154.4 1219.6 L1157.4 1219.6 L1160.4 1219.6 L1163.4 1219.6 L1166.4 1219.6 L1169.4 1219.6 L1172.4 1219.6 L1175.4 1219.6 L1178.4 1219.6 L1181.4 1219.6 L1184.4 1219.6 L1187.4 1219.6 L1190.4 1219.6 L1193.4 1219.6 L1194.5 1219.6" fill="none" stroke="#1f63e0" stroke-width="3.4" stroke-linejoin="round" />
<path d="M752.9 1190.0 L753.5 1192.9 L754.1 1195.9 L754.7 1198.7 L755.4 1201.6 L756.3 1204.4 L757.2 1207.2 L758.3 1209.7 L759.7 1212.2 L761.3 1214.5 L763.3 1216.2 L765.9 1217.6 L768.7 1218.3 L771.7 1218.1 L774.7 1217.7 L777.6 1217.2 L780.6 1217.1 L783.6 1217.0 L786.6 1216.9 L789.6 1216.8 L792.6 1216.8 L795.6 1216.8 L798.6 1216.9 L801.6 1217.0 L804.6 1217.2 L807.6 1217.4 L810.6 1217.7 L813.6 1217.9 L816.6 1218.0 L819.6 1218.2 L822.5 1218.3 L825.5 1218.5 L828.5 1218.6 L831.5 1218.7 L834.5 1218.9 L837.5 1219.0 L840.5 1219.1 L843.5 1219.2 L846.5 1219.2 L849.5 1219.2 L852.5 1219.3 L855.5 1219.3 L858.5 1219.3 L861.5 1219.4 L864.5 1219.4 L867.5 1219.4 L870.5 1219.4 L873.5 1219.4 L876.5 1219.5 L879.5 1219.5 L882.5 1219.5 L885.5 1219.5 L888.5 1219.5 L891.5 1219.5 L894.5 1219.5 L897.5 1219.5 L900.5 1219.5 L903.5 1219.5 L906.5 1219.5 L909.5 1219.5 L912.5 1219.5 L915.5 1219.5 L918.5 1219.5 L921.5 1219.5 L924.5 1219.5 L927.5 1219.5 L930.5 1219.5 L933.5 1219.5 L936.5 1219.5 L939.5 1219.5 L942.5 1219.5 L945.5 1219.5 L948.5 1219.5 L951.5 1219.5 L954.5 1219.5 L957.5 1219.5 L960.5 1219.5 L963.5 1219.5 L966.5 1219.5 L969.5 1219.5 L972.5 1219.5 L975.5 1219.5 L978.5 1219.5 L981.5 1219.5 L984.5 1219.5 L987.5 1219.5 L990.5 1219.5 L993.5 1219.5 L996.5 1219.5 L999.5 1219.5 L1002.5 1219.5 L1005.5 1219.5 L1008.5 1219.5 L1011.5 1219.5 L1014.5 1219.5 L1017.5 1219.5 L1020.5 1219.5 L1023.5 1219.5 L1026.5 1219.5 L1029.5 1219.5 L1032.5 1219.5 L1035.5 1219.5 L1038.5 1219.5 L1041.5 1219.5 L1044.5 1219.5 L1047.5 1219.5 L1050.5 1219.5 L1053.5 1219.5 L1056.5 1219.5 L1059.5 1219.5 L1062.5 1219.5 L1065.5 1219.5 L1068.5 1219.5 L1071.5 1219.5 L1074.5 1219.5 L1077.5 1219.5 L1080.5 1219.5 L1083.5 1219.5 L1086.5 1219.5 L1089.5 1219.5 L1092.5 1219.5 L1095.5 1219.5 L1098.5 1219.5 L1101.5 1219.5 L1104.5 1219.5 L1107.5 1219.5 L1110.5 1219.5 L1113.5 1219.5 L1116.5 1219.5 L1119.5 1219.5 L1122.5 1219.5 L1125.5 1219.6 L1128.5 1219.6 L1131.5 1219.6 L1134.5 1219.6 L1137.5 1219.6 L1140.5 1219.6 L1143.5 1219.6 L1146.5 1219.6 L1149.5 1219.6 L1152.5 1219.6 L1155.5 1219.6 L1158.5 1219.6 L1161.5 1219.6 L1164.5 1219.6 L1167.5 1219.6 L1170.5 1219.6 L1173.5 1219.6 L1176.5 1219.6 L1179.5 1219.6 L1182.5 1219.6 L1185.5 1219.6 L1188.5 1219.6 L1191.5 1219.6 L1194.5 1219.6" fill="none" stroke="#3ea65f" stroke-width="3.4" stroke-linejoin="round" />
</g>
<rect x="752.9" y="872.6" width="441.6" height="393.4" fill="none" stroke="#111" stroke-width="1.7"/>
<path d="M802.0 1266.0v-3.8M851.0 1266.0v-6.6M900.1 1266.0v-3.8M949.2 1266.0v-6.6M998.2 1266.0v-3.8M1047.3 1266.0v-6.6M1096.4 1266.0v-3.8M1145.4 1266.0v-6.6M1194.5 1266.0v-3.8M752.9 1250.3h3.8M752.9 1218.9h6.6M752.9 1187.5h3.8M752.9 1156.1h6.6M752.9 1124.6h3.8M752.9 1093.2h6.6M752.9 1061.8h3.8M752.9 1030.4h6.6M752.9 999.0h3.8M752.9 967.5h6.6M752.9 936.1h3.8M752.9 904.7h6.6" stroke="#111" stroke-width="1.6" fill="none"/>
<text transform="translate(707.86 1228.20) scale(1.0969 1.0545)" font-size="28.5">1.0</text><text transform="translate(707.81 1165.36) scale(1.1143 1.0684)" font-size="28.5">1.2</text><text transform="translate(707.92 1102.52) scale(1.0718 1.0684)" font-size="28.5">1.4</text><text transform="translate(707.88 1039.68) scale(1.0884 1.0684)" font-size="28.5">1.6</text><text transform="translate(707.86 976.84) scale(1.0969 1.0545)" font-size="28.5">1.8</text><text transform="translate(709.28 914.00) scale(1.0556 1.0545)" font-size="28.5">2.0</text>
<text transform="translate(735.85 1295.80) scale(1.0000 1.0545)" font-size="28.5">0.0</text><text transform="translate(834.23 1295.80) scale(1.0000 1.0545)" font-size="28.5">0.2</text><text transform="translate(931.74 1295.80) scale(1.0000 1.0545)" font-size="28.5">0.4</text><text transform="translate(1030.12 1295.80) scale(1.0000 1.0545)" font-size="28.5">0.6</text><text transform="translate(1128.38 1295.80) scale(1.0000 1.0545)" font-size="28.5">0.8</text>
<text transform="translate(782.28 1342.90) scale(0.9573 1.0000)" font-size="30">Distance from the crack tip (mm)</text>
<g transform="translate(701.3 1214) rotate(-90)"><text x="0" y="0" font-size="30.6" textLength="293.5" lengthAdjust="spacingAndGlyphs">Volumetric expansion: <tspan class="it">J</tspan></text></g>
<g><text transform="translate(863.73 1039.30) scale(0.9672 0.9405)" font-size="25.3" class="it" style="font-family:'DejaVu Serif','Liberation Serif',serif">λ</text><text transform="translate(882.78 1039.30) scale(1.2443 1.0000)" font-size="25.3">=</text><text transform="translate(903.14 1039.30) scale(0.7839 1.0000)" font-size="25.3">1</text><text transform="translate(915.04 1039.30) scale(1.1776 1.0000)" font-size="25.3">×</text><text transform="translate(932.77 1039.30) scale(0.9505 1.0000)" font-size="25.3">10</text><text transform="translate(958.37 1028.59) scale(1.0200 1.0000)" font-size="15.47">−6</text><text transform="translate(983.02 1039.30) scale(1.0321 1.0000)" font-size="25.3">/</text><text transform="translate(995.07 1039.30) scale(1.0413 1.0000)" font-size="25.3">s</text><circle cx="872.4" cy="1016.3" r="1.5" fill="#000"/></g>
<g><text transform="translate(835.65 1151.60) scale(0.9504 1.0000)" font-size="25" fill="#ee1c25">8.3</text><text transform="translate(867.54 1151.60) scale(1.2800 1.0000)" font-size="25" fill="#ee1c25">×</text><text transform="translate(885.81 1151.60) scale(1.0621 1.0000)" font-size="25" fill="#ee1c25">10</text><text transform="translate(913.39 1140.30) scale(0.9500 1.0000)" font-size="14.5" fill="#ee1c25">−5</text></g>
<g><text transform="translate(809.63 1208.50) scale(1.0532 1.0000)" font-size="24.3" fill="#1a5fd8">1.67</text><text transform="translate(856.36 1208.50) scale(1.1692 1.0000)" font-size="24.3" fill="#1a5fd8">×</text><text transform="translate(873.47 1208.50) scale(0.9905 1.0000)" font-size="24.3" fill="#1a5fd8">10</text><text transform="translate(899.52 1201.50) scale(0.9569 1.0000)" font-size="16.7" fill="#1a5fd8">-3</text></g>
<text transform="translate(781.64 1246.60) scale(1.0642 1.0000)" font-size="24.3" fill="#2fa457">0.83</text>
</g>
</svg>
</body></html>
